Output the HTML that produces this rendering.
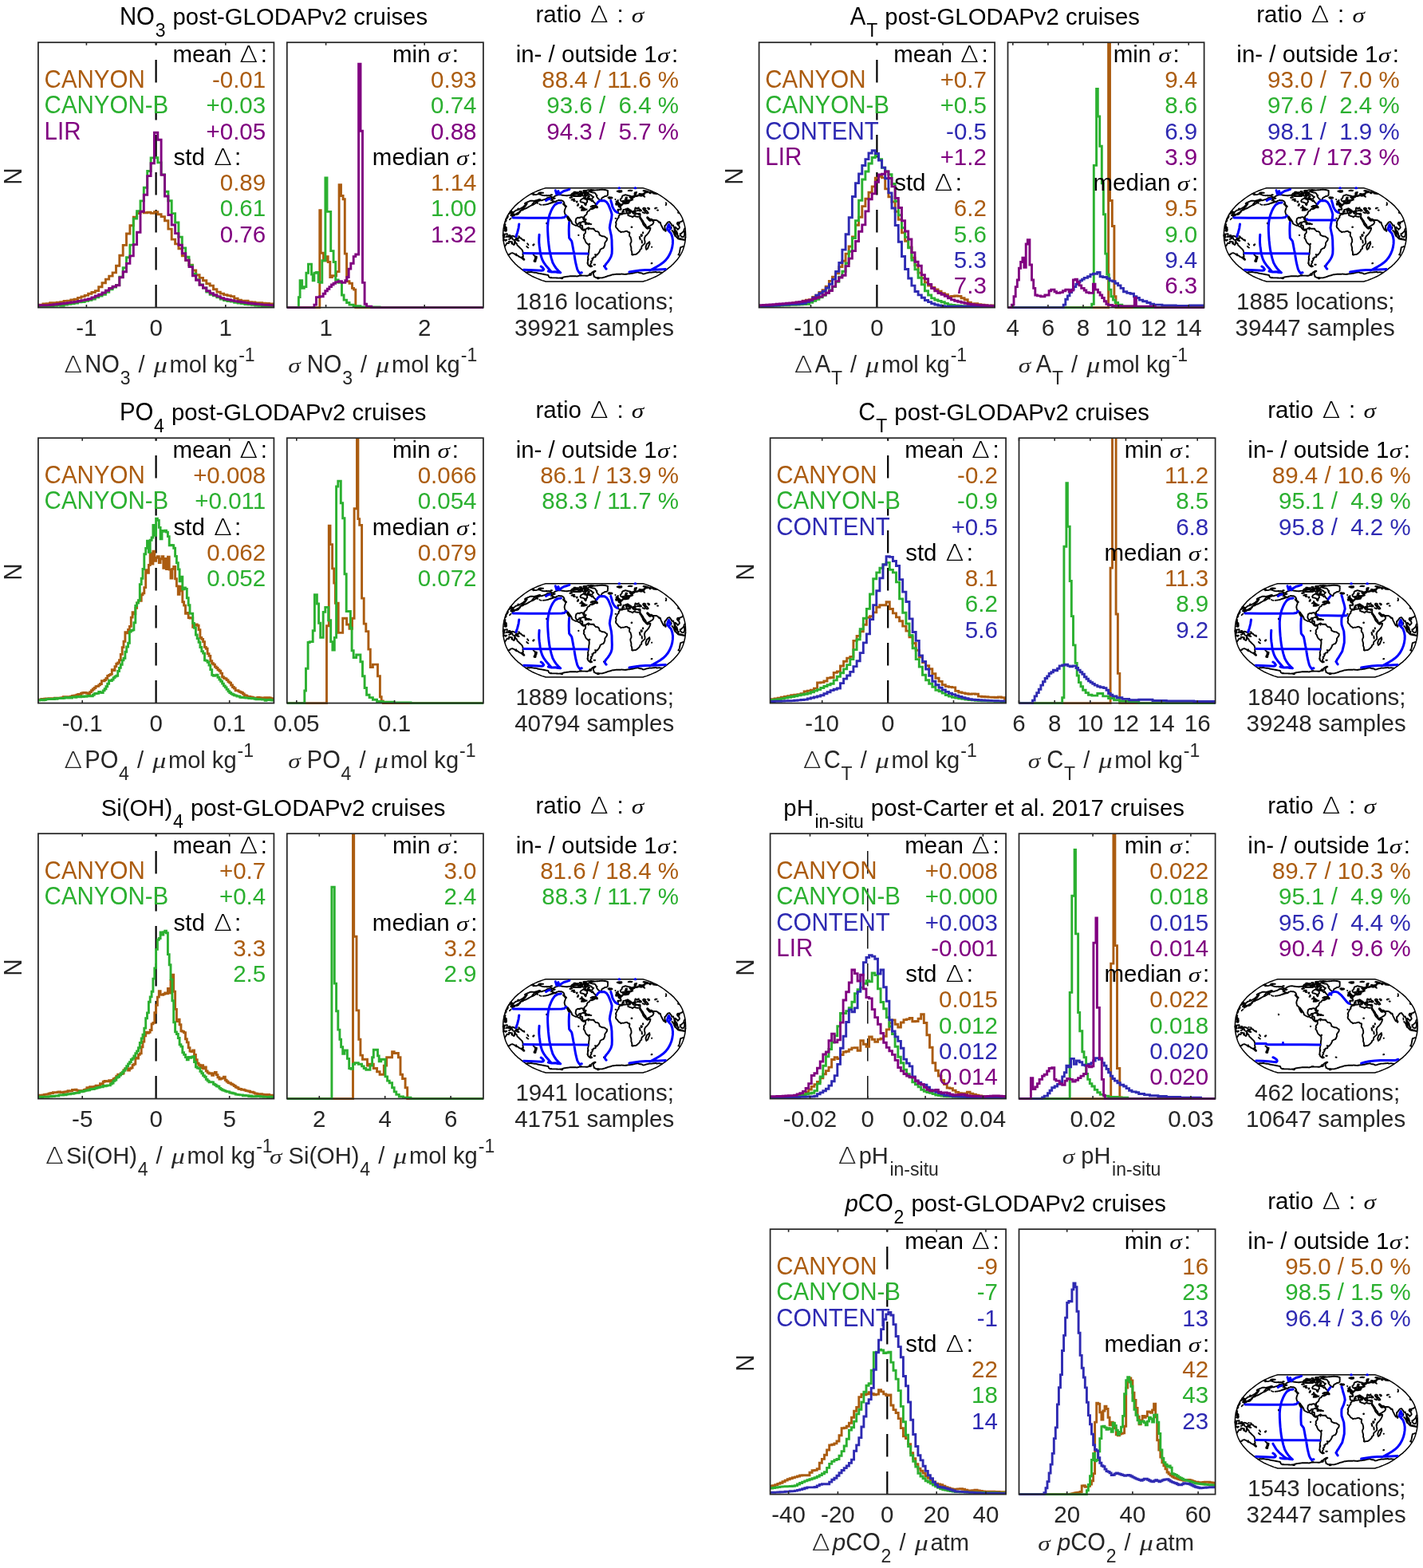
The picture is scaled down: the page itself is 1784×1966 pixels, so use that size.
<!DOCTYPE html>
<html lang="en"><head><meta charset="utf-8"><title>Histograms of estimate minus measurement and uncertainty</title>
<style>html,body{margin:0;padding:0;background:#fff}svg{display:block;font-family:"Liberation Sans",sans-serif}</style></head><body>
<svg width="1784" height="1966" viewBox="0 0 1784 1966">
<rect width="1784" height="1966" fill="#fff"/>
<defs>
<g id="wm">
<path d="M806 235.7L808.3 236.4L810.6 237.1L813.4 238.2L816.2 239.3L819.2 240.6L822.2 241.9L824.8 243.4L827.4 244.9L829.7 246.4L832.1 248L834.3 249.6L836.5 251.3L838.6 253L840.7 254.6L842.6 256.4L844.5 258.1L846.1 259.9L847.7 261.7L849.2 263.5L850.6 265.3L851.8 267.1L853 268.9L854 270.7L855 272.5L855.8 274.4L856.5 276.2L857 278L857.6 279.8L858 281.6L858.5 283.4L858.8 285.3L859.1 287.1L859.3 288.9L859.4 290.7L859.5 292.5L859.6 294.4L859.5 296.2L859.4 298L859.3 299.8L859.1 301.6L858.8 303.4L858.5 305.3L858 307.1L857.6 308.9L857 310.7L856.5 312.5L855.8 314.3L855 316.2L854 318L853 319.8L851.8 321.6L850.6 323.4L849.2 325.2L847.7 327L846.1 328.8L844.5 330.6L842.6 332.3L840.7 334.1L838.6 335.7L836.5 337.4L834.3 339.1L832.1 340.7L829.7 342.3L827.4 343.8L824.8 345.3L822.2 346.8L819.2 348.1L816.2 349.4L813.4 350.5L810.6 351.6L808.3 352.3L806 353L684.2 353L681.9 352.3L679.6 351.6L676.8 350.5L674 349.4L671 348.1L668 346.8L665.4 345.3L662.8 343.8L660.5 342.3L658.1 340.7L655.9 339.1L653.7 337.4L651.6 335.7L649.5 334.1L647.6 332.3L645.7 330.6L644.1 328.8L642.5 327L641 325.2L639.6 323.4L638.4 321.6L637.2 319.8L636.2 318L635.2 316.2L634.4 314.3L633.7 312.5L633.2 310.7L632.6 308.9L632.2 307.1L631.7 305.3L631.4 303.4L631.1 301.6L630.9 299.8L630.8 298L630.7 296.2L630.6 294.4L630.7 292.5L630.8 290.7L630.9 288.9L631.1 287.1L631.4 285.3L631.7 283.4L632.2 281.6L632.6 279.8L633.2 278L633.7 276.2L634.4 274.4L635.2 272.5L636.2 270.7L637.2 268.9L638.4 267.1L639.6 265.3L641 263.5L642.5 261.7L644.1 259.9L645.7 258.1L647.6 256.4L649.5 254.6L651.6 253L653.7 251.3L655.9 249.6L658.1 248L660.5 246.4L662.8 244.9L665.4 243.4L668 241.9L671 240.6L674 239.3L676.8 238.2L679.6 237.1L681.9 236.4L684.2 235.7Z" fill="#fff" stroke="#000" stroke-width="1.5" stroke-linejoin="round"/>
<path d="M693.2 247.7L694.5 246.8L695.8 245.8L697.3 245.2L698.8 244.6L699.8 244.4L700.9 244.3L701.9 244.1L702.7 244.3L703.5 244.4L704.2 244.6L705 244.7L705.7 244.8L706.4 244.9L707.2 245L707.9 245.1L708.8 245.1L709.7 245.2L710.5 245.3L711.4 245.2L712.3 245L713.2 244.9L714.1 244.8L714.9 244.9L715.8 245L716.7 245.1L717.5 245.2L718.1 245.5L718.8 245.8L719.4 246.1L720.2 246.1L721 246.1L721.8 246.1L722.7 246.1L723.6 246.1L724.5 246.1L725.5 246.1L726.4 246.1L727.4 246L728.4 245.8L729.1 244.9L729.9 244L730.5 244.9L731.2 245.8L732.2 245.5L733.1 245.2L734 245.5L734.9 245.8L734 246.6L733.1 247.4L732.3 248L731.4 248.7L730.5 249.1L729.6 249.5L728.7 250L728 250.9L727.4 251.9L728.1 253.3L728.9 253.4L729.7 253.5L730.4 253.6L731.3 254L732.2 254.3L733.1 254.6L733.2 256L734.2 257.3L734.8 256.4L734.9 255.5L735 254.6L735.6 253.8L736.3 253L736.1 252.1L736 251.3L736.2 250.4L736.4 249.6L737.4 249.8L738.4 250L739.2 250.3L740.1 250.6L741 251.4L742 252.3L743.1 251.1L743.7 252.2L744.3 253.3L745.2 254.1L746.2 255L746.8 255.9L747.4 256.7L746.5 257.3L745.6 257.8L744.5 257.9L743.4 258L742.3 258.1L741.5 258.7L740.6 259.2L741.6 259L742.6 258.8L742.3 259.9L743.4 260.5L744.5 261.1L743.7 261.6L742.8 262L741.7 262.2L741.1 261.7L740.2 262.2L739.4 262.8L739 264L738 264.4L736.9 264.9L736.4 265.8L735.9 266.7L735.7 267.6L735.5 268.5L734.3 269.6L733.3 270.5L732.3 271.4L732.4 272.5L732.6 273.6L732.7 274.7L732.4 276L731.5 275.1L731.3 274.2L731.1 273.3L730.4 272.5L729.2 272.2L728.2 272.4L727.1 272.5L726.7 273.3L725.7 273L724.6 272.8L723.5 273.4L722.4 274L722.1 275.1L721.9 276.2L721.7 277.2L721.6 278.1L722.1 279.3L722.6 280.5L723.5 281.1L724.6 280.9L725.7 280.8L725.9 279.9L726.1 279.1L727.2 278.9L728.3 278.7L728.1 279.8L727.9 280.9L727.5 281.8L727.2 282.7L728.1 282.8L729.1 282.8L730 282.9L730.2 284.1L730.4 285.3L730 286.7L731.2 287.8L732 287.6L732.7 287.4L734 288.2L734.6 287.4L735.3 286.6L736.1 286.3L736.9 286L737.8 285.4L738.8 286L740 286.7L741.3 286.7L742.6 286.7L743.8 286.6L744.5 287.4L745.1 288.2L746.1 289.1L747 290L748 290.1L748.9 290.1L749.7 290.6L750.5 291.1L751 292.2L751.5 293.3L751.5 294.4L752.7 295.1L753.8 295.6L755 296.2L755.9 296.3L756.9 296.4L757.8 296.5L758.8 297.3L759.7 298L761 298.7L761 299.8L760.9 300.9L760.3 301.8L759.6 302.7L759 303.6L758.3 304.5L758.3 305.8L758.3 307.1L757.8 308.3L757.3 309.6L756.3 311.1L755.3 311.4L754.4 311.7L753.5 312.3L752.5 312.9L752.3 313.8L752 314.7L751.5 315.8L750.9 316.9L749.6 318.3L748.7 319.6L747.8 319.5L746.9 319.4L746.1 319.1L746.5 320L746.9 320.9L746.5 322.2L745.6 322.4L744.8 322.5L743.9 322.7L743.6 324.1L742.9 324.1L742.2 324.1L743 325.4L742.5 326.2L742.1 327L741.5 327.4L740.9 327.7L741.7 329.2L741.1 330L740.4 330.9L740.2 332.2L740.8 332.8L741.5 333.4L742.2 333.9L741.5 334.2L740.9 334.4L740.1 334.1L739.2 333.7L738.4 333L737.5 332.3L737.1 331.1L736.6 329.9L736.8 328.4L736.9 327L737.3 325.9L737.6 324.9L737.3 323.8L737 322.7L737.2 321.8L737.4 320.9L737.6 319.8L737.9 318.7L738.1 317.6L738.1 316.2L738.2 314.7L738.3 313.5L738.5 312.3L738.7 311.1L738.7 310L738.7 308.9L738.7 307.8L737.6 306.7L736.3 305.6L735 304.5L734.5 303.6L734 302.7L733.5 301.4L733.1 300.2L731.8 298.7L731.8 297.6L732.4 296.5L731.9 295.1L732.4 293.6L733.2 292.9L734.1 291.4L734.1 290.2L734 288.9L732.7 288.2L731.8 288.9L730.5 288.3L729.7 287.7L729 287.1L728.3 286L727.7 284.9L726.6 284.5L725.6 284.2L724.6 283.4L723.7 282.7L722.9 282.8L722.1 282.9L721.1 282.5L720 282L719.1 281.5L718.2 281L717.3 280.5L717 279.6L716.8 278.7L716.2 277.3L715.5 276.4L714.9 275.4L713.9 274.2L713 272.9L712 271.4L711.7 272.5L712.2 273.6L712.8 274.7L713.4 275.8L714.1 276.9L714 277.6L712.9 276.4L712.4 275.4L711.9 274.4L711.2 272.9L710.9 271.8L710.6 270.7L709.9 269.6L708.8 269.3L708.2 267.8L707.9 266.7L707.6 265.6L707.7 264.7L707.8 263.8L708.3 262.4L708.8 261L709 260.1L709.1 259.3L710.1 258.8L709.2 258.1L708.6 257.6L708 257.1L707.7 256L707.5 255L707.2 254.1L707 253.3L706.5 252.8L706 252.3L705.2 251.8L704.4 251.4L703.4 251.3L702.4 251.3L701.5 251.1L700.6 250.9L699.5 251.3L698.4 251.6L697.3 252.3L696.3 253L695 253.3L693.7 253.6L692.3 254.1L690.9 254.6L690 254.8L689.1 255L690.5 254.5L691.9 254L693.3 253.1L694.6 252.3L693.7 252.1L692.8 251.9L692.5 251.4L692.3 250.9L692.3 250L693.6 249.3L694.7 249L695.8 248.7L694.9 248.5L694.1 248.3L693.6 248L693.2 247.7M771.9 283.7L772.1 282.8L772.4 282L772.4 280.9L772.5 279.8L771.9 279.1L772.6 277.6L773.3 276.2L773.8 275.1L774.3 274L775 273.3L775.8 272.5L775.7 271.6L775.7 270.7L776.5 270L777.2 269.3L777.6 268.2L778.7 268.5L779.8 268.8L780.6 268.3L781.4 267.8L782.6 267.7L783.8 267.6L784.7 267.5L785.7 267.3L786.6 267.2L787.2 268.1L787.7 268.9L787.3 269.8L788.6 270.5L789.7 270.8L790.9 271.1L792.1 271.7L793.3 272.3L793.7 271.4L794.5 271L795.3 270.6L796.7 271.3L798 271.6L799.3 271.8L800.1 271.7L801 271.6L801.7 271.6L802.4 271.6L802.3 272.6L802.1 273.6L803.4 275.1L804 276.2L804.5 277.3L805.1 278.2L805.7 279.1L805.9 280L806.2 280.9L806.9 282L807.7 283.1L808.8 284.2L809.8 285.3L810.4 286L811.5 286.7L812.5 286.5L813.4 286.2L814.4 286L815.4 285.8L815.3 286.8L815.1 287.8L814.4 289.3L813.7 290.7L813.1 291.6L812.5 292.5L811.6 293.6L810.6 294.7L809.3 295.8L808.8 296.7L808.3 297.6L807.8 299.1L808 300L808.1 300.9L808.4 302L808.6 303.1L808.5 304.2L808.4 305.3L807.5 306.1L806.6 306.9L805.7 307.7L804.8 308.5L804.5 309.4L804.2 310.3L804.3 311.8L803.5 312.3L802.6 312.9L802.3 313.8L802 314.7L800.7 316.2L799.6 317.1L798.6 318.1L797.6 318.6L796.7 319.1L795.5 319.1L794.4 319.2L793.1 319.7L792.2 319.1L792.4 317.6L792.2 316.3L792 315.1L791.3 313.6L791.4 312.2L791.4 310.7L791.1 309.6L790.8 308.5L790.5 307.4L790.4 306.5L790.3 305.6L790.9 304.3L791.5 303.1L791.5 301.8L791.4 300.5L791.2 299.6L790.9 298.7L790.7 297.6L790 296.9L789.3 296.2L789.1 295.3L789 294.4L789.2 293.4L789.4 292.5L789.3 291.4L788.5 291.3L787.7 291.2L786.9 290.5L786 289.8L785.1 289.9L784.1 290L783 290.4L781.9 290.7L781.1 290.6L780.4 290.6L779.4 290.9L778.5 291.2L777.2 290L775.9 289.3L774.7 287.8L773.8 286.6L772.4 285.3L772.2 284.5L771.9 283.7M777.6 268.2L776.5 267.8L775.4 267.4L774.9 266.2L774.9 265.2L774.9 264.2L774.4 263L775 262.6L776.1 262.7L777.3 262.8L777.9 262.8L778.6 262.8L778.5 261.9L778.4 261L777.4 260L776.7 259.7L776 259.3L776.8 259.2L777.7 259.1L777.3 258.3L778.4 258.5L778.9 257.5L779.8 257.2L780 256L780.6 255.9L781.1 255.7L781.9 255.3L781.2 254.3L780.7 253.3L781.2 253.1L781.7 252.8L782.1 254L783 255.3L783.8 255.1L784.9 255.4L785.5 255.2L786.2 255L786.9 254.9L787.5 254.8L788.1 254.6L787.4 253.3L787.7 252.9L788.9 253.2L787.9 251.9L788.6 251.8L789.3 251.7L790 251.6L790.8 251.3L789.7 251.1L788.6 250.9L787.8 251.1L787 251.3L786 250.6L785.3 249.3L785.7 248.7L786.2 248L785.3 247.5L784.5 247.7L784.6 248.7L784.2 249.3L783.7 250L784 250.9L785.2 251.6L784.8 253L785 253.8L784.4 254.3L783.7 254.4L783.3 253.8L782.5 253L781.8 252.3L781.1 251.7L780.7 252.1L780.2 252.5L779.5 252.3L778.7 252.1L778.3 251.3L777.8 250.6L777.8 249.6L778.4 249.2L778.9 248.8L779.5 248.2L779.8 247.1L780.1 246L780.5 245.6L781 245.2L781.7 245L782.4 244.9L782.8 244.7L783.3 244.5L783.8 244.3L784.3 244.3L784.9 244.4L785.7 244.6L786.5 244.7L786.4 245.1L787.2 245.2L788 245.3L788.7 245.4L789.5 245.5L790.8 246L792.1 246.4L793.1 247.1L792.7 247.2L792.2 247.4L791.4 247.2L790.5 247.1L789.7 246.9L789.6 247.4L791.3 248.5L792.1 248.6L792.8 248.8L791.7 248L792.7 248.1L793.6 248.2L793.1 247.4L793.9 247.3L794.6 247.3L794.1 246.6L793.6 245.9L794.7 246.1L795.6 246.9L795.8 246.3L796.4 246.1L797 246L797.6 245.8L798.3 246L798.9 245.9L799.4 245.8L799.9 245.4L800.4 245.1L801.3 245.2L802.2 245.3L803.1 245.5L804 245.7L804.5 245.5L802.4 244.3L801.2 243.1L801.9 243.1L802.7 243.1L804.5 244L805.6 244.9L806.5 245.8L808.2 246.8L807.1 245.5L805.9 244.7L804.7 244L804.6 243.2L805.6 243.5L806.6 243.7L807.1 243.7L807.7 243.7L806.5 242.8L807.2 242.8L807.9 242.7L808.6 242.6L808 241.9L808.4 241.8L808.8 241.6L809.2 241.4L810 241.4L810.7 241.3L811.5 241.3L811.8 241L812.1 240.8L812.4 240.5L813.8 240.8L815.2 241L816.1 241.2L817.1 241.3L818 241.4L820.2 242.5L819.5 242.5L818.9 242.5L819.7 242.6L820.5 242.7L821.6 242.8L822.7 243L823.8 243.1M666.4 243L667.3 242.9L668.2 242.8L668.8 243L669.5 243.1L668.4 244.3L669.3 244.1L670.2 244L671 244.1L671.8 244.1L673 243.8L674.3 243.4L675.1 243.4L675.9 243.5L676.8 243.5L677.3 243.8L677.8 244L678.2 244.2L678.6 244.4L679.1 244.6L679.7 244.7L680.3 244.9L680.9 245.1L681.6 245.1L682.3 245.1L683 245.2L683.9 245.1L684.8 245L685.7 244.9L685.5 245.5L686.4 245.3L687.3 245.2L688.3 245L688.9 245.3L689.5 245.6L690 245.9L690.5 246.2L691 246.4L691.7 246.8L692.3 247.1L692.5 247.4L691.3 247.9L690.1 248.5L689.5 248.2L688.9 247.9L688.4 247.7L687.1 248L685.7 248.5L684.1 249.6L683 250L681.9 250.3L680.7 250.6L679.1 251.3L678 251.3L676.9 251.4L675.6 252L674.2 252.6L672.4 254L671.7 254.8L669.6 256L667.6 257.1L666.6 257.4L667.4 256L668.2 255L669 254L671 252.8L672.7 251.8L674.3 250.9L675.7 250.4L677.1 250L676.1 250.1L675 250.3L673.6 250.8L672.2 251.3L670.8 251.6L670 251.8L669.2 251.9L668.4 251.9L667.7 251.8L666.9 251.7L665.8 251.8L664.8 251.8L663.6 252.3L662.4 252.8L660.6 253.7L658.8 254.6L658 255.3L658.6 255.5L659.1 255.7L658.3 257.1L657.2 258.1L656.2 259.2L654.8 260.1L653.3 261L652 261.7L650.8 262.4L649.8 262.8L648.7 263.3L647.9 263.4L647.2 263.6L646.1 264.2L644.9 265.4L643.6 265.8L643.6 266.7L643.3 268.2L642.3 268.9L640.8 269.4L641.2 268.6L641.6 267.8L641.6 266.7L642.4 265.6L641.8 265.6L641.2 265.5L639.8 266L641 264.7L639.6 265.3M850.2 266L850.1 266.6L851.3 267.2M639 266.9L639.6 267.4L637.9 268.2M636.7 270.4L636.9 271.4L636.4 272.5L635.6 273.8L634.1 275.1M855.7 276.5L854.8 277.6L854.1 277.9L853.3 278.1L852.6 278.4L852 278.7L851.3 279.6L850.4 278.7L849.3 279.2L848.8 280.5L849.9 282L851.3 283.1L851.7 284.2L852 285.3L851.4 286.4L850.5 286.9L849.7 288L849.4 286.9L848.2 286.4L847.4 285.3L846.6 284.7L846.2 285.6L846 287.1L846.6 288.3L847.3 289.4L848.6 290.7L848.8 291.6L849 292.5L849.4 293.3L848.4 292.9L847.3 291.6L847.1 290.8L846.9 290L845.5 288.5L845.5 287.1L845.2 285.6L844.9 284.7L844.5 283.8L844.1 282.4L842.9 282.9L842.1 282.5L841.9 281.7L841.7 280.9L840.7 279.8L839.8 278.7L839.3 278L838.5 278.4L837.6 278.5L836.8 279.1L836.6 279.8L835.8 280.3L835.2 281.3L834.5 282.4L833.4 283.1L833.4 284.5L833.5 285.4L833.5 286.4L833.3 287.4L832.6 288.3L832.1 288.4L831.7 287.6L831.2 286.7L830.7 285.8L830.2 284.9L829.6 283.4L829 282.4L828.5 281.3L828.2 280.4L828 279.4L827.7 278.7L826.5 279.2L825.4 278.1L825.9 277.6L824.5 277.1L823.7 276.3L822.8 276.1L821.8 276L821 276L820.3 276L819.1 275.9L818 275.7L817.2 274.9L816.5 274.7L815.7 275L814.3 274.4L813.1 273.3L812.3 272.5L811.4 272.3L811.1 272.9L811.9 274.1L812.9 275.1L813.6 276.2L814 275.6L814.2 276.7L815.5 276.8L816.5 276L816.9 275.3L817.3 276.5L818.6 277.2L819.6 278.1L819.1 279.5L818.8 280.6L818.2 281.1L817.5 281.6L816.6 282.2L815.6 282.7L814.7 283.3L813.8 284L812.6 284.5L811.4 285L810.4 285.1L810.1 284.4L809.9 283.6L809.5 282.4L808.9 281.5L808.3 280.7L807.6 279.8L806.8 278.9L806.5 278.1L806.2 277.3L805.1 275.8L804.4 275L803.8 274.1L803.1 273L802.4 271.6L802.5 270.4L802.7 268.9L802.3 267.7L801.1 268L799.9 267.8L799.1 268L798.1 267.7L797 267.4L796.2 266.4L795.7 265.3L796.3 264.9L797 264.6L798.1 264.4L799.1 264.1L800.2 263.8L801.2 264.2L802.2 264.6L803.2 264.4L804.1 264.2L803.3 263.1L801.8 262.2L800.7 261.7L800.8 260.3L799.9 260.6L799.1 261.3L798.6 262L797.8 261L796.5 260.5L796.2 261.5L796.1 262.8L796.1 263.8L796.8 264.4L796.1 264.5L795.4 264.6L794.8 264.7L794.1 264.7L794.1 265.3L793.5 265L794.3 266.4L794.8 266.7L794.5 267.8L793.7 267.6L793.1 266.5L792.3 265.7L791.6 264.9L791.1 263.8L790.1 263.3L789.1 262.8L787.7 261.7L787 261.3L786.2 261.5L786.7 262.4L787.5 262.8L788.6 263.8L789.3 264L790.2 264.6L791.1 265.1L790.1 264.9L790.1 265.6L790.6 266L790.1 266.7L789.9 266.7L789.8 265.6L789 265.1L787.6 264.4L786.2 263.5L785.5 262.8L784.5 262.1L783.8 262.5L783.2 262.7L782.5 262.9L781.5 263L781.8 263.9L781.2 264.2L780.7 264.6L780.2 265.6L780.6 266.1L780.2 267L779.6 267.6L778.9 267.6L778.2 267.7L777.6 268.2M806.1 261.7L806.5 261.1L806.9 260.6L807.6 260.6L808.3 260.6L809.5 261.7L808.6 262L809 263.5L810.5 264.2L811.8 265.6L812.7 267.1L812.1 267.3L811.4 267.6L810 267.1L809.1 265.6L808.2 264.6L807.3 263.5L806.7 262.6L806.1 261.7M739.8 240.2L740.5 239.9L741.2 239.6L741.9 239.3L742.7 239L743.5 238.8L744.3 238.6L745.1 238.6L745.9 238.5L746.6 238.4L747.4 238.4L748.2 238.3L748.9 238.3L749.6 238.2L750.3 238.1L751 238.1L751.7 238L752.4 237.9L753.1 237.9L753.8 237.8L754.4 237.7L755.2 237.8L756 237.9L756.8 237.9L757.5 238L758.3 238L759.1 238.2L759.8 238.3L760.5 238.5L761.3 238.6L762.1 239.3L761.8 240.3L762 241L762.1 241.7L762 242.4L761.8 243.1L761.9 243.9L761.9 244.6L761.2 245.2L760.4 245.8L759.7 245.9L758.9 246L758.2 246.1L757.5 246.6L756.8 247L756.1 247.5L755.4 247.7L754.8 248L754.4 248.8L754 249.6L753.8 250.4L753.5 251.3L752.8 251L752.2 250.7L751.1 250L750 249.3L749.5 248.5L748.9 247.7L747.9 246.4L748.3 245.2L747.4 244.3L746.9 243.1L746.2 242.4L745.5 241.7L744.8 241.6L744 241.5L743.3 241.5L742.6 241.4L741.9 241.2L741.2 241L740.5 240.9L739.8 240.2M736.4 242.8L737.2 243L738 243.2L738.9 243.6L739.7 244L740.6 244.4L741.4 244.9L742.3 246.1L743.2 246.5L744.2 246.9L743.2 248L742.1 249.3L741.1 249.6L740.4 249.3L739.7 249L739 248.7L738.3 248.3L737.3 248.3L736.4 248.2L737 247.1L738 246.6L739 246.1L738.3 245.7L737.6 245.3L736.9 244.9L736 244.9L735 244.9L734.4 244.6L733.8 244.3L733.2 244L732.6 243.7L733.7 242.8L734.6 242.8L735.5 242.8L736.4 242.8M720 243.1L720.7 243.2L721.4 243.3L722.1 243.4L723 243.3L723.9 243.2L724.9 243.1L725.6 243.6L726.3 244L725.5 244.7L724.8 245.5L723.8 245.6L722.9 245.6L721.9 245.7L721 245.5L720.2 245.4L719.4 245.2L719.1 244L720 243.1M732.6 241.1L733.3 240.9L734.1 240.6L734.9 240.3L734.5 239.8L734 239.3L734.9 239L735.8 238.7L736.7 238.4L737.5 238.3L738.2 238.2L739 238.2L739.8 238.1L740.6 238L741.3 238L742.1 238L742.8 238.1L743.6 238.1L744.3 238.2L743.6 238.5L742.8 238.8L742 239L741.1 239.3L740.3 239.5L739.5 239.9L738.6 240.3L737.6 240.8L736.7 241.2L735.9 241.2L735 241.2L734.2 241.2L733.4 241.2L732.6 241.1M814.2 303.1L814.4 304.3L814.6 305.6L814.2 306.5L813.7 307.4L813.1 308.9L812.5 310.3L811.9 311.8L811.1 312.3L810.3 312.9L810 312L809.7 311.1L809.6 309.6L810 308.4L810.4 307.2L810.8 306L811.7 305.4L812.5 304.9L813.3 304L814.2 303.1M852.6 293.3L853.5 293.3L854.3 292.5L855 291.8L855.8 291.1L856.5 290.4L857.4 289.3L858.8 290.6L858.1 291.8L858.2 292.7L858.3 293.6L858 295.1L857.6 296L857.1 296.9L856 297.3L855.2 297L854.4 296.7L853.2 295.4L852.9 294.4L852.6 293.3M843.7 290.3L844.4 290.4L845.1 290.6L846.1 291.6L847.1 292.5L848.1 293.4L849.1 294.4L849.7 295.8L850.6 296.5L850.5 297.5L850.4 298.6L849.2 298.3L848 297.3L847.1 295.8L846.6 294.7L846.1 293.6L844.9 292.2L844.3 291.2L843.7 290.3M856.3 300.4L857.3 300.4L858.5 300.5M631.7 300.5L632.9 300.4L632.6 300.9L631.9 301.1L631.1 301.3M858.2 301.1L857.2 300.9L856.3 300.4M859.1 298.3L859.4 297.4M630.9 296.4L630.7 295.2M631.3 293.5L632.2 293.6L633.2 293.6L633.8 293.3L632.5 294.1L631.7 294.2L630.9 294.4L631.6 295.1L632.7 294.9L631.9 295.8L632.3 296.7L632.7 297.6L631.7 297.8L631.3 296.5L631.2 297.4L631.1 298.3M637.6 295.1L638.6 295L639.5 294.9L640 295.8L640.6 296.7L641.3 296.2L642.1 295.7L643.1 295.9L644 296.2L645.2 296.7L646.3 297.3L647.3 298.3L648.3 298.7L648.7 300.2L649.6 301.1L650.5 302L649.7 301.9L648.9 301.8L647.5 300.7L646.2 299.9L645.6 300.9L644.4 301L643 300.2L642.3 299.4L642.5 298.3L641.7 298L640.9 297.6L639.6 297.1L638.7 297.3L637.8 295.8L637.6 295.1M853.1 310.3L852.8 311.8L852.5 313.3L852.2 314.7L852 316.2L851.6 317.3L851.2 318.3L850.4 319.3L851.1 319.5L851.8 319.8M636.8 319.1L637.8 319.1L638.9 319.1L639.3 318.5L639.7 317.8L640.5 317.6L641.3 317.4L642 317.3L642.8 317.3L643.7 317.7L644.7 318.1L645.6 318.9L646.4 319.7L646.7 319L647.1 318.3L647.7 319.8L649.3 320.5L651 322L651.9 322.3L652.8 322.6L653.6 322.6L654.4 322.7L655.1 321.8L656 321.3L655.7 320.2L655.4 319.1L655.5 318L655.7 316.9L655.4 315.8L655.2 314.7L654.7 313.8L654.2 312.9L652.6 311.4L651.4 310.3L650.6 309.4L649.7 308.5L648.7 307.8L648.2 306.5L647.8 305.3L646.7 304.7L646.2 303.5L645.8 302.3L645.2 302.3L645.1 303.8L645.1 304.9L645.1 306L644.4 307.1L643.5 306.5L642.6 305.8L641.5 305.3L641.8 304.3L642 303.3L640.9 303.2L640 303L639.2 302.7L638.4 303.3L638.2 304.1L638 304.9L637.1 305.1L636 304.5L635 305.6L634.4 306.9L633.7 307.4L633.2 308.5M857.3 308.8L856.2 309.1L855.4 309.4L854.5 309.6L853.1 310.3M685.6 256.2L687 255.8L688 255.5M657.1 262L658.6 261.5L660.1 261L661.6 260.1L663.2 259.2L664.4 258.5L665.6 257.8M696.1 348.4L697 348.4L697.9 348.5L698.8 348.5L699.7 348.6L700.5 348.6L701.3 348.6L702 348.5L702.8 348.5L703.5 348.4L704.3 348.4L704.7 348.2L705.2 348L705.7 347.8L706.2 347.7L706.7 347.5L707.2 347.3L707.9 347.2L708.6 347.1L709.4 347L710.1 346.9L710.8 346.8L711.6 346.7L712.4 346.6L713.2 346.5L714 346.4L714.8 346.3L715.7 346.3L716.5 346.3L717.4 346.2L718.2 346.2L719.1 346.2L720 346.2L720.9 346.3L721.8 346.3L722.7 346.4L723.5 346.5L724.3 346.2L725.1 346L725.8 345.8L726.6 345.6L727.4 345.6L728.2 345.6L728.9 345.6L729.7 345.6L730.5 345.6L731.2 345.6L732 345.6L732.8 345.6L733.7 345.6L734.6 345.7L735.5 345.7L736.3 345.8L737 345.5L737.7 345.3L738.4 345L739.1 344.8L739.9 344.6L740.6 344.4L741 343.5L741.4 342.6L742 341.9L742.7 341.3L743.4 340.9L744.1 340.4L745.1 340L746.1 339.6L746.6 340L745.8 340.5L745.1 341L744.2 341.9L743.9 342.9L743.7 343.8L744.2 344.7L744.7 345.6L744.7 346.8L745.5 347.2L746.4 347.7L747.2 348.1L748 348.2L748.8 348.2L749.6 348.3L750.4 348.3L751.2 348.4L752 348.4L752.7 348.4L753.4 348.4L754.2 348.4L754.9 348.4L755.8 348.1L756.7 347.8L757.6 347.6L758.5 347.3L759.3 347L760.1 346.8L760.9 346.5L761.7 346.2L762.6 345.9L763.4 345.7L764.2 345.5L765 345.3L765.9 345L766.8 344.7L767.7 344.4L768.5 344.3L769.3 344.2L770.1 344.1L770.9 344L771.7 343.9L772.5 343.8L773.3 343.8L774.1 343.8L774.8 343.8L775.6 343.8L776.3 343.8L777.1 343.8L777.9 343.7L778.7 343.6L779.6 343.5L780.3 343.6L781 343.7L781.7 343.8L782.4 343.9L783.1 343.9L783.8 344L784.7 343.8L785.6 343.7L786.5 343.5L787.3 343.4L788.2 343.3L789 343.2L789.9 343.1L790.7 343L791.6 342.9L792.5 342.7L793.5 342.5L794.5 342.3L795.4 342.1L796.4 341.8L797.4 341.6L798.3 341.5L799.2 341.4L800.1 341.3L800.6 341.6L801.1 341.9L801.6 342.1L802.4 342.2L803.1 342.2L803.9 342.3L804.4 342.5L805 342.7L805.5 342.9L805.9 343.2L806.2 343.5L807.3 343.4L808.4 343.2L809.7 342.7L810.9 342.3L812 342.1L813 341.8L814 341.6L814.8 341.6L815.6 341.6L816.4 341.6L817.3 341.5L818.3 341.4L819.2 341.3L820.1 341.2L821.1 341.1L822 341L822.6 341.2L823.1 341.3L823.7 341.5L824.6 341.4L825.5 341.4L826.4 341.3L827 341.4L827.7 341.5L828.3 341.6L829.1 341.6L829.9 341.6M659.5 341.6L660.2 341.5L660.8 341.4L661.4 341.3L662.2 341.3L663 341.3L663.8 341.3L664.5 341.2L665.1 341.1L665.8 341L666.9 341.2L668 341.4L669 341.6L670 341.7L670.9 341.8L671.8 341.9L673 342.2L674.1 342.5L675.2 342.8L676.2 342.9L677.1 343.1L678.1 343.2L679.1 343.4L680.1 343.6L681.1 343.8L682.1 344L683.2 344.2L684.2 344.4L685.2 344.6L686.2 344.8L687.2 345L687.8 346.2L687.9 346.8L688.2 347.3L689.8 348.3L690.5 348.3L691.3 348.3L692 348.4L692.8 348.4L693.6 348.4L694.5 348.4L695.3 348.4L696.1 348.4" fill="none" stroke="#000" stroke-width="1.9" stroke-linejoin="round" stroke-linecap="round"/>
<path d="M716.1 243.7L716.8 243.8L717.5 243.9L718.2 244L719.3 243.6L720.5 243.1L720.3 241.9L719.3 242.1L718.4 242.2L717.4 242.4L716.8 243L716.1 243.7M730.2 241.7L730.9 241.8L731.6 241.9L732.3 242.1L733 242.2L733.9 242.2L734.8 242.1L735.7 242L736.5 241.9L735.8 241.4L735 241.3L734.2 241.2L733.4 241.1L732.6 241.1L731.8 241L731 241.3L730.2 241.7M721.2 241.8L722 241.9L722.8 242L723.6 242.1L724.6 241.9L725.6 241.7L725 241.1L724.2 241.1L723.3 241.1L722.5 241.1L721.2 241.8M726.8 242.8L727.4 243L728.1 243.2L728.7 243.4L729.7 243.3L730.6 243.1L730 242.4L729.2 242.4L728.5 242.5L727.7 242.5L726.8 242.8M732.1 247.7L732.8 247.7L733.6 247.7L734.2 248.2L734.8 248.7L733.8 249.3L733.1 249.1L732.4 248.9L732.1 247.7M745.5 259.8L746.4 258.4L747.3 257.1L747.6 258.5L748.3 258.8L749 259.2L749 260.5L748.2 260.4L747.4 260.3L746.4 260.1L745.5 259.8M762.4 247.7L763.2 247.1L764.2 247.2L765.1 247.3L766 247.3L766.9 247.4L767.6 248L767 248.5L766.3 248.8L765.5 249L764.5 248.9L763.4 248.8L763.6 248.3L762.4 247.7M775.2 258.1L775.8 257.9L776.4 257.7L777.2 257.6L777.9 257.4L778.6 257.3L778.4 256.2L777.3 255.7L776.2 254.6L775.6 254L774.6 252.6L773.4 252.2L773.2 253.1L773.8 254L774.5 254.8L775.6 255.3L775.7 255.8L775 256L775.1 256.9L776.2 257.2L775.7 257.6L775.2 258.1M772.3 256.9L773.3 256.7L774.3 256.6L774 255.3L772.9 254.5L772.4 254.9L771.9 255.3L772.1 256.1L772.3 256.9M833.8 287.2L834.4 288.1L835 288.9L834.6 290L834 289.8L833.7 288.5L833.8 287.2M642 271.7L643.5 270.4L644.6 269.6L646 269.1L647.2 269.2L648.6 268.9L650.1 268.2L650.6 267.3L651.2 266.5L652.3 265.5L652.8 264.3L651.7 264.8L651 265.6L650.5 266.4L649.4 266.9L648.2 267.4L647.2 268.2L646.2 268.4L645.2 268.5L643.5 269.4L642.5 270.1L642.3 270.9L642 271.7M652.1 264.2L653.5 263.5L654.2 263.8L655.2 263.4L656.2 262.9L656.3 262.3L655.8 261.8L655.3 261.3L654.5 262.1L653.8 262.9L652.1 264.2M655.6 261L657 260.3L657.6 259.4L658.1 258.5L658.7 258.8L659.5 257.4L660.4 256L661 255.1L660.1 255.9L659.2 256.7L657.9 258.1L656.7 259.5L655.6 261M633.4 277.6L634.3 276.2L634.9 276.2L634.3 277.3L633.7 278.4L633.4 277.6M632.7 280.9L633.7 281L633.4 281.9L633.2 282.7L633.6 283.8L634 284.9L632.9 284.3L632 283.8L631.9 282.7L632.3 281.8L632.7 280.9M632.2 289.3L633.6 288.2L634.4 287.8L635.2 287.4L635 288.5L634.9 289.6L634.3 290L633.4 289.6L632.2 289.3M632.6 285.8L633.8 286L634.7 286.4L634 287.1L633 287.4L632.5 286.7L632.6 285.8M857.4 288.2L858.1 287.4L858.7 286.5L858.5 286.1L857.5 287.6L857.4 288.2M849.9 299.3L851 299.2L852 299.1L852.8 299.1L853.6 299.2L854.7 299.6L855.8 299.9L855.6 300.6L854.7 300.5L853.8 300.3L852.9 300.2L851.8 299.9L850.7 299.7L849.9 299.3M633.4 301.8L634.2 300.9L635.4 300.5L635.2 301.1L634 301.8L633.4 301.8M635.4 292.9L636 293.6L635.7 294.9L635.4 294L635.4 292.9M635.8 296.5L636.6 296.5L637.4 296.5L637.6 297.1L636.9 297L636.1 297L635.8 296.5M648.9 298.3L650.2 298.3L651.2 297.4L651.1 298.3L650.2 298.9L648.9 298.3M653.7 299.4L655.1 300.2L655.9 300.7L656.7 301.3L657.5 302L656.1 301.3L655.3 300.7L654.4 300.2L653.7 299.4M660.2 309L661.6 310L662.4 310.6L661.3 310.2L660.2 309M668.1 307.1L668.9 307.1L669 307.6L668.2 307.6L668.1 307.1M661 305.3L661.8 306L662.5 307.2L661.7 306.1L661 305.3M685.1 279.7L685.7 280L685.3 280.5L685.1 280.2L685.1 279.7M654.5 324L655.5 324L656.5 324L657 324.8L657.5 325.6L656.9 326L655.7 325.2L654.5 324M668.6 319.4L670.3 320.7L671.6 321.7L672.3 321.7L673 321.8L672.8 323.1L672.6 324.5L671.6 323.3L670.9 322.9L670.8 321.6L669.7 320.5L668.6 319.4M670.7 323.9L672.1 324.7L672 325.9L671.4 326.7L671.7 327.7L670.9 328.2L669.4 327.6L669.7 326.3L670.1 325.8L670.5 325.2L670.7 323.9M729.5 278.4L730.5 277.9L731.4 277.5L732.4 277.7L733.3 278L734.5 278.7L735.7 279.4L736.2 279.7L735.2 279.8L734.2 279.9L733.3 278.7L732.3 278.4L731.4 278.1L730.5 278.2L729.5 278.4M736 280.9L737.3 279.9L738.1 279.9L738.9 280L739.8 280.8L739.2 281L738.5 281.1L737.6 281.1L736.8 281L736 280.9M733.6 281L734.9 281.1L734.4 281.4L733.6 281M740.6 280.9L741.5 281L741 281.3L740.6 280.9M773.6 239.8L774.1 239.6L774.6 239.4L775.1 239.3L775.9 239.2L776.6 239.2L777.4 239.1L778.1 239.2L778.8 239.2L779.5 239.3L779.1 239.6L778.8 239.9L778.4 240.2L778 240.6L777.6 241L776.6 240.8L775.6 240.6L774.6 240.2L773.6 239.8M795.6 244.3L795.5 243.6L795.3 242.8L795.5 242.3L795.6 241.9L795.7 241.4L796.3 241.3L797 241.1L797.6 241L798.2 240.9L798.1 241.3L797.9 241.8L797.7 242.2L797.6 242.7L797.4 243.2L797.2 243.7L797.2 244.5L796.4 244.4L795.6 244.3M807.8 239.8L807.5 239.3L807.3 238.8L808.7 239.1L810 239.4L811.4 239.8L811.1 240L810.8 240.1L810.4 240.3L809.1 240.1L807.8 239.8M675.3 241.9L676.4 241.8L677.4 241.6L678.5 241.4L679.1 241.5L679.7 241.7L680.3 241.8L679 242L677.8 242.3L676.5 242.5L676.1 242.3L675.7 242.1L675.3 241.9M690.3 244.3L691.1 244.1L692 244L692.1 244.3L691.4 244.3L690.8 244.4L690.3 244.3M787.6 239.2L788.1 239L788.6 238.9L789 238.7L789.5 238.6L790.2 238.7L791 238.7L791.8 238.8L792.6 238.8L792.2 239L791.7 239.3L790.9 239.2L790.1 239.2L789.3 239.2L788.5 239.2L787.6 239.2M744.6 331.6L745.4 331.5L746.2 331.5L745.9 332.2L744.8 332.1L744.6 331.6M756.9 333.4L757.9 333.6L757.9 333.9L756.8 333.6L756.9 333.4M816.6 329.9L817.6 329.9L817.2 330.4L816.5 330.4L816.6 329.9M850.6 280.4L851.6 279.8L852 280.2L851.3 281.1L850.6 280.4M642.3 270.4L643.6 269.8L643.3 270.6L642.9 271.4L641.9 271.7L642.3 270.4M788 266.7L788.9 266.6L789.7 266.6L789.7 267.7L788.9 267.3L788.1 267L788 266.7M784.9 264.6L785.7 264.6L786 265.9L785.4 266L784.9 264.6M795.1 268.5L795.9 268.6L796.7 268.8L795.8 268.9L795.1 268.5M800.4 268.9L801 268.7L801.6 268.5L801.2 269.1L800.4 268.9M727.1 260.5L728.3 259.8L729.5 259.2L730.3 259.5L731.1 259.9L731.3 260.6L730.6 260.6L729.9 260.6L729 260.5L728.2 260.5L727.1 260.5M728.9 263.8L729.3 262.6L729.8 261.3L730.9 261.3L730.4 262.6L729.9 263.8L728.9 263.8M731.5 261L732.3 261.1L733.2 261.3L733.7 262L732.9 262.6L732.1 263.1L731.7 262L731.5 261M731.5 264L732.3 263.8L733.2 263.5L734.1 263.3L732.9 263.6L732.2 263.8L731.5 264M733.7 262.9L734.7 262.6L735.8 262.4L735.3 262.9L734.5 262.9L733.7 262.9M723.7 257.8L724.3 256.6L725 255.5L725.3 256.7L724.7 257.9L723.7 257.8M721 251.8L720.9 251.6L720.4 251.5L719.8 251.5L719.3 251.6L719 251.8L719.1 252L719.6 252.1L720.2 252.1L720.8 252L721 251.8M716.4 250.6L717.4 250.1L718.3 249.6L719.3 249.6L720.3 249.6L718.9 250.6L718.2 250.7L717.4 250.7L716.4 250.6M714.3 247.7L715.3 247.2L716.3 246.8L716.9 247L717.5 247.2L716.1 248L715.3 248.1L714.6 248.1L714.3 247.7M723.8 253.1L723.8 252.7L723.6 252.4L723.3 252.4L722.9 252.7L722.7 253.1L722.7 253.5L722.9 253.7L723.2 253.7L723.5 253.5L723.8 253.1M729.7 258.3L729.7 258L729.5 257.9L729.3 257.9L729.1 258L729 258.3L729 258.5L729.2 258.7L729.4 258.7L729.6 258.5L729.7 258.3M803.6 294.1L804.9 294.4L804.9 295.8L803.9 296.3L803.4 295.1L803.6 294.1M801.8 296.9L802.2 297.8L802.6 298.7L802.7 299.6L802.8 300.5L802.2 299.4L801.8 298L801.8 296.9M804.6 301.4L804.8 302.2L805 303.1L805 303.9L805 304.7L804.6 303.4L804.6 302.4L804.6 301.4M792.4 284.8L792.3 284.5L792 284.3L791.7 284.3L791.5 284.5L791.4 284.8L791.5 285L791.8 285.2L792.1 285.2L792.3 285L792.4 284.8M812 260.6L812.8 260.7L813.5 260.8L814.3 262L813.4 262.6L812.5 261.7L812 260.6M821 261.3L821.4 260.9L821.8 260.5L822.7 260.6L823.6 260.6L822.9 260.8L822.1 261L821.5 261.7L821 261.3M834.6 257.1L834.9 256.7L835.3 256.4L835.3 255.7L835.2 255L834.8 254.2L835.4 255.5L835.3 256.2L835.2 256.9L834.6 257.1M791.8 250.6L791.4 250.3L791 250.1L790.6 250.1L790.4 250.3L790.5 250.6L790.8 250.9L791.3 251.1L791.7 251.1L791.9 250.9L791.8 250.6M793.1 250.2L792.8 249.8L792.5 249.7L792.2 249.7L792.2 249.8L792.3 250.2L792.6 250.5L792.9 250.7L793.2 250.7L793.3 250.5L793.1 250.2M783 251.9L782.9 251.7L782.6 251.6L782.4 251.6L782.3 251.7L782.3 251.9L782.5 252.1L782.7 252.3L782.9 252.3L783.1 252.1L783 251.9M739.5 305.8L739.4 305.6L739.2 305.5L739 305.5L738.8 305.6L738.7 305.8L738.8 306.1L739 306.2L739.2 306.2L739.4 306.1L739.5 305.8M729.5 286L729.5 285.8L729.2 285.7L729 285.7L728.8 285.8L728.7 286L728.7 286.2L729 286.3L729.2 286.3L729.5 286.2L729.5 286M737.6 286.5L738.1 286.9L738 287.7L737.5 287.4L737.6 286.5M806.4 291.8L806.3 291.4L806.2 291.1L806 291.1L805.9 291.4L805.9 291.8L805.9 292.2L806 292.5L806.2 292.5L806.3 292.2L806.4 291.8M825.1 263.5L824.9 263.4L824.6 263.3L824.2 263.3L824 263.4L823.9 263.5L824.1 263.7L824.5 263.8L824.8 263.8L825.1 263.7L825.1 263.5M807.9 267L807.8 266.8L807.6 266.6L807.4 266.6L807.3 266.8L807.3 267L807.5 267.3L807.7 267.4L807.9 267.4L808 267.3L807.9 267M806.2 266.3L806.1 266.2L805.9 266.1L805.7 266.1L805.5 266.2L805.5 266.3L805.6 266.4L805.8 266.5L806.1 266.5L806.2 266.4L806.2 266.3M815.6 242.2L815.2 242.1L814.8 242L814.4 242L814.2 242.1L814.3 242.2L814.6 242.4L815.1 242.5L815.5 242.5L815.7 242.4L815.6 242.2M649.8 261.7L649.9 261.5L649.9 261.4L649.7 261.4L649.5 261.5L649.3 261.7L649.2 261.8L649.3 261.9L649.4 261.9L649.7 261.8L649.8 261.7M726.8 242.8L727.4 242.7L728.1 242.6L728.7 243.4L727.6 244L727.1 243.7L726.5 243.4L726.8 242.8M728.5 245.5L728.4 245.3L728.1 245.1L727.7 245.1L727.3 245.3L727.1 245.5L727.1 245.7L727.4 245.9L727.9 245.9L728.3 245.7L728.5 245.5M727.5 241.1L728.4 241.1L729.2 241.1L728.9 241.8L728.3 241.8L727.6 241.8L727.5 241.1M731.5 238.8L732.1 238.8L732.8 238.8L733.5 238.7L733.9 239.1L734.3 239.5L733.4 239.8L732.5 240.1L731.8 239.8L731.2 239.5L731.5 238.8M719.5 240.7L720.2 240.7L720.9 240.7L721.6 240.7L721.6 241.3L720.7 241.3L719.8 241.4L719.5 240.7M728.9 240.1L728.8 239.9L728.2 239.8L727.5 239.8L726.8 239.9L726.5 240.1L726.6 240.2L727.1 240.4L727.9 240.4L728.6 240.2L728.9 240.1M730.7 241.9L730.6 241.8L730.4 241.7L730 241.7L729.7 241.8L729.6 241.9L729.6 242.1L729.9 242.2L730.2 242.2L730.5 242.1L730.7 241.9M737.8 243L737.7 242.8L737.3 242.7L736.8 242.7L736.4 242.8L736.2 243L736.3 243.2L736.7 243.3L737.2 243.3L737.6 243.2L737.8 243M734.2 249.6L734.1 249.4L733.9 249.3L733.6 249.3L733.3 249.4L733.2 249.6L733.3 249.7L733.5 249.8L733.8 249.8L734.1 249.7L734.2 249.6M735.5 250L735.5 249.8L735.4 249.6L735.3 249.6L735.1 249.8L735 250L735.1 250.2L735.2 250.3L735.3 250.3L735.5 250.2L735.5 250M734 256L733.9 255.9L733.8 255.8L733.5 255.8L733.3 255.9L733.2 256L733.3 256.2L733.5 256.2L733.7 256.2L733.9 256.2L734 256M742.6 258.3L743.4 258.5L744.1 258.7L743.2 258.6L742.6 258.3M743.8 260.7L743.7 260.6L743.5 260.5L743.1 260.5L742.9 260.6L742.8 260.7L742.9 260.8L743.1 260.9L743.4 260.9L743.7 260.8L743.8 260.7M745 260.8L744.9 260.5L744.8 260.3L744.6 260.3L744.5 260.5L744.4 260.8L744.5 261L744.6 261.2L744.8 261.2L744.9 261L745 260.8M707.6 257.6L708.3 257.8L708.9 258.1L709.7 259.2L708.7 259L708.1 258.3L707.6 257.6M706 255.3L706.7 255.3L706.4 256.6L706 256L706 255.3M697 253L697 252.8L696.8 252.7L696.5 252.7L696.2 252.8L696 253L695.9 253.2L696.1 253.3L696.4 253.3L696.8 253.2L697 253M691.5 251.2L691.5 251.1L691.4 251L691.2 251L691 251.1L690.8 251.2L690.8 251.3L690.9 251.4L691.1 251.4L691.3 251.3L691.5 251.2M691.5 249L691.5 248.9L691.3 248.9L690.9 248.9L690.5 248.9L690.3 249L690.3 249.2L690.6 249.2L691 249.2L691.3 249.2L691.5 249M680.8 256.9L682 256.7L683.2 256.6L684.4 256.4M676.3 256L676.8 256.2L677.3 256.5L678 256.7L678.6 256.9M674.2 254.6L674.3 254.5L674.2 254.5L674 254.5L673.8 254.5L673.6 254.6L673.6 254.8L673.7 254.8L673.9 254.8L674.1 254.8L674.2 254.6M795.8 245.4L795.6 245.3L795.3 245.2L795.1 245.2L795 245.3L795.1 245.4L795.3 245.6L795.5 245.7L795.8 245.7L795.9 245.6L795.8 245.4M800.1 244.9L799.9 244.7L799.6 244.7L799.3 244.7L799.3 244.7L799.4 244.9L799.6 245L799.8 245.1L800.1 245.1L800.2 245L800.1 244.9M802.6 242.9L802.4 242.8L802.2 242.8L801.9 242.8L801.8 242.8L801.9 242.9L802.1 243L802.4 243.1L802.6 243.1L802.7 243L802.6 242.9M808.1 239.4L807.7 239.2L807.1 239.1L806.6 239.1L806.4 239.2L806.6 239.4L807 239.5L807.6 239.6L808.1 239.6L808.3 239.5L808.1 239.4M811.8 240L811.4 239.9L810.9 239.8L810.4 239.8L810.1 239.9L810.2 240L810.6 240.1L811.2 240.2L811.7 240.2L811.9 240.1L811.8 240M677.5 241.7L677.7 241.5L677.5 241.4L676.9 241.4L676.3 241.5L675.8 241.7L675.7 241.8L675.9 241.9L676.4 241.9L677.1 241.8L677.5 241.7M676.7 242.8L676.8 242.7L676.5 242.7L676.1 242.7L675.7 242.7L675.4 242.8L675.4 242.9L675.6 243L676 243L676.4 242.9L676.7 242.8M681.1 241.8L681.1 241.7L680.9 241.7L680.5 241.7L680.1 241.7L679.8 241.8L679.7 241.9L679.9 242L680.3 242L680.8 241.9L681.1 241.8M659.2 254.6L659.2 254.5L659.2 254.5L659 254.5L658.8 254.5L658.6 254.6L658.6 254.8L658.6 254.8L658.8 254.8L659 254.8L659.2 254.6M786 253L785.9 252.7L785.7 252.6L785.6 252.6L785.6 252.7L785.7 253L785.9 253.2L786 253.3L786.1 253.3L786.1 253.2L786 253M785.3 253.5L785.2 253.3L785.1 253.1L785 253.1L785 253.3L785.2 253.5L785.3 253.7L785.4 253.9L785.5 253.9L785.4 253.7L785.3 253.5M787.9 252.3L787.8 252.2L787.6 252.2L787.4 252.2L787.3 252.2L787.3 252.3L787.4 252.4L787.6 252.5L787.8 252.5L787.9 252.4L787.9 252.3M783.4 254.3L783.2 254.2L783 254.1L782.8 254.1L782.7 254.2L782.8 254.3L782.9 254.5L783.1 254.6L783.3 254.6L783.4 254.5L783.4 254.3M771.7 250L771.6 249.8L771.5 249.8L771.4 249.8L771.3 249.8L771.3 250L771.4 250.1L771.5 250.1L771.6 250.1L771.7 250.1L771.7 250M775 251.1L774.9 250.9L774.8 250.8L774.7 250.8L774.6 250.9L774.7 251.1L774.8 251.2L774.9 251.3L775 251.3L775 251.2L775 251.1M772.7 252.8L772.6 252.5L772.5 252.4L772.4 252.4L772.4 252.5L772.4 252.8L772.5 253L772.7 253.1L772.8 253.1L772.8 253L772.7 252.8M785.3 263.7L785.2 263.4L785 263.2L784.9 263.2L784.9 263.4L784.9 263.7L785 264L785.2 264.2L785.3 264.2L785.4 264L785.3 263.7M782.4 265.6L782.3 265.5L782.2 265.4L782 265.4L781.8 265.5L781.8 265.6L781.9 265.7L782.1 265.7L782.2 265.7L782.4 265.7L782.4 265.6M794.9 266.3L794.8 266.2L794.6 266.1L794.4 266.1L794.2 266.2L794.2 266.3L794.3 266.4L794.5 266.4L794.7 266.4L794.9 266.4L794.9 266.3M797.8 268L797.7 267.9L797.6 267.9L797.5 267.9L797.4 267.9L797.4 268L797.5 268.1L797.6 268.2L797.7 268.2L797.8 268.1L797.8 268M808.3 298.8L808.2 298.6L808.2 298.5L808.1 298.5L808 298.6L808 298.8L808 299L808.1 299.1L808.2 299.1L808.2 299L808.3 298.8M817.3 309.7L817.3 309.6L817.2 309.5L817.1 309.5L817 309.6L816.9 309.7L816.9 309.8L817 309.9L817.1 309.9L817.2 309.8L817.3 309.7M841.5 284.5L841.8 285.6L841.7 286.6M842.8 289.1L842.7 288.9L842.7 288.8L842.6 288.8L842.5 288.9L842.5 289.1L842.6 289.3L842.6 289.4L842.7 289.4L842.8 289.3L842.8 289.1M851 296L850.9 295.9L850.8 295.7L850.5 295.7L850.3 295.9L850.2 296L850.3 296.2L850.5 296.3L850.7 296.3L850.9 296.2L851 296M845.4 293.6L845.4 293.3L845.3 293.2L845.2 293.2L845.1 293.3L845.1 293.6L845.1 293.8L845.2 293.9L845.3 293.9L845.4 293.8L845.4 293.6M846.4 295.4L846.4 295.2L846.3 295.1L846.2 295.1L846.1 295.2L846 295.4L846 295.7L846.1 295.8L846.2 295.8L846.3 295.7L846.4 295.4M632.4 284.9L632.4 284.6L632.3 284.5L632.2 284.5L632 284.6L631.9 284.9L631.9 285.2L632 285.3L632.2 285.3L632.4 285.2L632.4 284.9M635 285.6L635 285.3L634.8 285.1L634.6 285.1L634.5 285.3L634.3 285.6L634.4 285.9L634.5 286.1L634.7 286.1L634.9 285.9L635 285.6M633.2 287.1L633.2 286.7L633.2 286.5L633.1 286.5L632.9 286.7L632.8 287.1L632.8 287.4L632.9 287.6L633 287.6L633.1 287.4L633.2 287.1M635.3 296.8L635.2 296.7L635 296.5L634.8 296.5L634.6 296.7L634.5 296.8L634.6 297L634.8 297.1L635 297.1L635.2 297L635.3 296.8M640.3 298.9L640.2 298.6L640.1 298.4L639.9 298.4L639.8 298.6L639.8 298.9L639.9 299.2L640 299.3L640.2 299.3L640.3 299.2L640.3 298.9M638.4 299.9L638.4 299.7L638.3 299.5L638.2 299.5L638.1 299.7L638.1 299.9L638.1 300.1L638.2 300.2L638.3 300.2L638.4 300.1L638.4 299.9M653.5 298.8L653.4 298.5L653.2 298.4L653.1 298.4L652.9 298.5L652.9 298.8L652.9 299L653.1 299.2L653.3 299.2L653.5 299L653.5 298.8M650.3 296.2L651 296.7L651.7 297.6L651.2 297.1L650.3 296.2M648.2 295.9L648.1 295.8L647.9 295.8L647.7 295.8L647.6 295.8L647.5 295.9L647.6 295.9L647.7 296L647.9 296L648.1 295.9L648.2 295.9M657 301.3L656.9 301.2L656.7 301.2L656.4 301.2L656.2 301.2L656.1 301.3L656.2 301.4L656.4 301.5L656.7 301.5L656.9 301.4L657 301.3M657.2 300.9L657.1 300.6L657 300.5L657 300.5L656.9 300.6L656.9 300.9L656.9 301.2L657 301.3L657.1 301.3L657.2 301.2L657.2 300.9M661.5 305.5L661.4 305.3L661.3 305.1L661.2 305.1L661.1 305.3L661.1 305.5L661.2 305.7L661.3 305.8L661.4 305.8L661.5 305.7L661.5 305.5M669.7 306.4L669.6 306.3L669.3 306.3L669.1 306.3L668.8 306.3L668.8 306.4L668.9 306.5L669.1 306.6L669.4 306.6L669.6 306.5L669.7 306.4M725.6 294.9L725.5 294.6L725.4 294.5L725.2 294.5L725.1 294.6L725.1 294.9L725.1 295.1L725.2 295.2L725.4 295.2L725.5 295.1L725.6 294.9M734.1 276.5L734.1 276.2L734 276L733.9 276L733.8 276.2L733.8 276.5L733.8 276.8L733.9 277L734 277L734.1 276.8L734.1 276.5M734.8 275.1L734.7 275L734.6 274.9L734.4 274.9L734.3 275L734.2 275.1L734.2 275.2L734.4 275.2L734.6 275.2L734.7 275.2L734.8 275.1M744.6 286.8L744.5 286.7L744.4 286.6L744.3 286.6L744.1 286.7L744.1 286.8L744.1 286.9L744.3 287L744.4 287L744.5 286.9L744.6 286.8M737.2 325.3L737.2 325L737.1 324.8L737 324.8L736.9 325L736.9 325.3L736.9 325.6L737 325.8L737.2 325.8L737.2 325.6L737.2 325.3M739.8 333.9L740.6 334.1L741.4 334.2L740.7 334.3L740.1 334.4L739.8 333.9M736.9 330.1L736.9 329.7L736.8 329.5L736.7 329.5L736.6 329.7L736.6 330.1L736.7 330.5L736.8 330.7L736.9 330.7L736.9 330.5L736.9 330.1M772 273.8L772 273.7L771.8 273.6L771.7 273.6L771.6 273.7L771.5 273.8L771.6 273.9L771.7 273.9L771.9 273.9L772 273.9L772 273.8M648.2 320.4L648.1 320.3L647.9 320.3L647.7 320.3L647.5 320.3L647.5 320.4L647.6 320.4L647.8 320.5L648 320.5L648.2 320.4L648.2 320.4M638.6 302.7L638.5 302.6L638.3 302.6L638.1 302.6L638 302.6L637.9 302.7L638 302.8L638.2 302.9L638.4 302.9L638.5 302.8L638.6 302.7M642.3 304.5L642.2 304.4L642.1 304.3L642 304.3L641.9 304.4L641.9 304.5L642 304.7L642.1 304.7L642.2 304.7L642.3 304.7L642.3 304.5M656.1 323.4L656 323.3L655.9 323.2L655.8 323.2L655.8 323.3L655.9 323.4L656 323.6L656.1 323.6L656.2 323.6L656.2 323.6L656.1 323.4M653.7 323.3L653.6 323.2L653.5 323.1L653.4 323.1L653.4 323.2L653.4 323.3L653.5 323.4L653.7 323.5L653.7 323.5L653.7 323.4L653.7 323.3M639.2 275.1L639.2 274.9L639.2 274.9L639.1 274.9L639 274.9L638.9 275.1L638.9 275.2L639 275.3L639 275.3L639.1 275.2L639.2 275.1M640.6 273.8L640.6 273.7L640.6 273.7L640.5 273.7L640.4 273.7L640.4 273.8L640.4 273.8L640.4 273.9L640.5 273.9L640.6 273.8L640.6 273.8M644.3 269.7L645.6 269.5L645.2 270L644.1 270.5L644.3 269.7M640.7 270.1L640.7 270L640.6 270L640.4 270L640.3 270L640.2 270.1L640.2 270.1L640.3 270.2L640.5 270.2L640.6 270.1L640.7 270.1M642.6 269.3L642.6 269.2L642.6 269.1L642.6 269.1L642.5 269.2L642.5 269.3L642.4 269.5L642.4 269.5L642.4 269.5L642.5 269.5L642.6 269.3M649.6 266.7L649.6 266.6L649.6 266.5L649.6 266.5L649.5 266.6L649.4 266.7L649.4 266.8L649.4 266.9L649.4 266.9L649.5 266.8L649.6 266.7M692 244.2L692 244.1L691.7 244L691.3 244L690.9 244.1L690.6 244.2L690.6 244.3L690.9 244.3L691.3 244.3L691.7 244.3L692 244.2M748.5 245L748.4 244.9L748.2 244.8L747.9 244.8L747.7 244.9L747.6 245L747.7 245.1L747.9 245.2L748.2 245.2L748.5 245.1L748.5 245M775.9 239.3L776.6 239.1L777.3 239L778 239.1L778.7 239.1L779.4 239.2L779.1 239.6L778.4 239.6L777.7 239.6L777 239.5L775.9 239.3M779.4 240.4L779.2 240.3L778.9 240.3L778.6 240.3L778.4 240.3L778.4 240.4L778.6 240.5L778.9 240.6L779.2 240.6L779.4 240.5L779.4 240.4M739.6 343.2L740.5 343.5L741.1 344.7L740.4 344.8L739.8 345L738.7 344.1L739.6 343.2M728.9 345.1L728.6 345L728.1 345L727.4 345L726.8 345L726.7 345.1L726.9 345.2L727.5 345.3L728.2 345.3L728.7 345.2L728.9 345.1M749.2 348.4L749.9 348.5L750.5 348.6L751.2 348.6L750.6 349.4L749.8 349.4L749.1 349.4L749.2 348.4M705.1 349.1L704.8 348.9L704.2 348.8L703.7 348.8L703.5 348.9L703.5 349.1L703.9 349.2L704.4 349.3L704.9 349.3L705.2 349.2L705.1 349.1M691 348.1L690.8 348L690.5 348L690.3 348L690.1 348L690.1 348.1L690.3 348.2L690.6 348.2L690.8 348.2L691 348.2L691 348.1" fill="#000" stroke="#000" stroke-width="1.7" stroke-linejoin="round" stroke-linecap="round"/>
</g>
<path id="trk" d="M643.1 273.1L662 273.3L683.1 273.3L704.1 273.1L707.6 272.6L709.7 270.3M703.4 253.9L699.2 254.6L695.7 256.6L692.9 260.5L690.8 264.7L688.9 269.6L688 273.1L687 278.8L686.6 284.4L686.7 290L687 295.6L687.4 301.2L688 306.8L688.7 312.4L689.8 318L691.2 323.6L692.9 329.2L695 333.1L697.1 336.2L699.9 339.3L702.7 341.8M676.1 294.2L675.8 299.1L675.8 304L676.2 308.2L676.8 312.4L677.3 316.6L678.2 320.8L679.7 325.3L681.7 329.2L684.2 332.7L687.3 336.2L689.4 338.7L691.5 341.1M713.6 278.8L713.3 283.7L713.2 288.6L713.3 293.5L713.6 298.4L715.3 300.5L716.7 302.3L717.5 306.1L718.1 309.6L718.9 313.8L719.8 318L720.6 323.6L721.6 329.2L722.6 333.4L723.7 337.6L725.1 340.4L726.8 342.5L729.3 341.8M656.7 317.6L676.1 317.7L697.1 317.8L718.1 317.8L737 318M650.8 280.9L650.4 283.4L650.1 285.8L649.4 288.6L648.7 291.4L647.9 293.9L647 296.3M748.2 255.6L749.6 253.5L751.7 251.8L755.2 251.4L758 251.8L760.6 253.5L762.7 256.6L764.3 260.5L766 264.7L767.1 268.9L766.7 273.1L765.7 277.3L764.8 281.6L764.3 285.8L765.3 290.7L766.4 295.6L767 301.2L767.1 306.8L767.3 312.4L767.1 318L766 321.9L764.3 325L762.2 328.1L760.1 330.6L758.7 332.7L758 334.5L759.2 336.2L760.1 337.2M765.7 251.4L766.9 255.2L767.8 259.1L769.1 261.7L770.6 264L772.5 265.6L774.1 266.4M838.3 281.6L837.2 284.4L836.5 287.2L838.9 290L841.4 292.8L842.8 297L843.5 301.2L843.4 305.4L842.8 309.6L841.7 313.8L840 318L837.5 322.5L834.4 326.4L831.2 329.3L827.4 332L823.2 334.5L819 336.9L814.8 339M838.6 281.6L839.7 284.4L840.3 287.2M788.9 341.1L795.2 340L802.2 339L809.2 338.6L816.2 338.3L825.3 337.9L834.4 337.6M656.7 338.3L662.7 338.4L669 338.7L674 339L678.9 339.3L681 338.7L681.7 337.6L680.3 335.5L678.2 334.1M687.3 340.1L690.1 340.8L692.9 341.1L696.4 340.7L699.2 341.5L702.7 341.8M696.4 238.8L697.1 241.2L697.8 243.7L698.8 241.6L699.9 239.5L700.6 241.6L701.3 243.7L704.1 241.2L706.9 239.5L709.7 238.8L713.9 237.4M684.5 251.4L686.6 250L689.4 249.3M776 235.7L776.7 235.7M796.1 235.7L796.8 235.7" fill="none" stroke="#0000ff" stroke-width="3" stroke-linejoin="round" stroke-linecap="round"/>
</defs>
<g transform="translate(0,0)">
<path d="M195.6 385.6V53.2" stroke="#000" stroke-width="2.2" stroke-dasharray="28.5 18.5" fill="none"/>
<clipPath id="cNO31"><rect x="47.9" y="53.2" width="295.5" height="334.4"/></clipPath>
<g clip-path="url(#cNO31)">
<path d="M44.9 382.8V382.8H49.5V382.3H53.9V381H58.3V380.6H62.6V379.7H67V379.6H71.3V379.1H75.7V378.7H80.1V377.4H84.4V377.1H88.8V376H93.1V375.3H97.5V373.4H101.9V371.9H106.2V370.4H110.6V368.2H114.9V366.5H119.3V364.6H123.7V359.7H128V354.7H132.4V350.1H136.7V346.1H141.1V341.9H145.5V333.3H149.8V320.3H154.2V307.4H158.5V293H162.9V282.8H167.3V272.1H171.6V267.5H176V265.3H180.3V266.7H184.7V266.2H189.1V267.4H193.4V265.7H197.8V268.8H202.1V271.6H206.5V276.8H210.9V287.1H215.2V300.1H219.6V305.9H223.9V311.8H228.3V320.8H232.7V326.3H237V332.2H241.4V339H245.7V344.8H250.1V348.4H254.5V351.7H258.8V355.7H263.2V358.1H267.5V362.7H271.9V366.1H276.3V368.1H280.6V369.6H285V370.6H289.3V371.6H293.7V374.1H298.1V376.1H302.4V377.2H306.8V377.2H311.1V378.7H315.5V379H319.9V379.7H324.2V379.6H328.6V380.3H332.9V380.4H337.3V380.9H341.7V381.7H346.4" fill="none" stroke="#ab5c10" stroke-width="2.9" stroke-linejoin="miter"/>
<path d="M44.9 384.2V384.2H49.5V383.9H53.9V384.2H58.3V384H62.6V383.7H67V383.2H71.3V382.7H75.7V383.3H80.1V382H84.4V381.2H88.8V380.7H93.1V380.1H97.5V378.9H101.9V378.5H106.2V377.4H110.6V376.4H114.9V375H119.3V372.9H123.7V371H128V369.3H132.4V366.3H136.7V362.9H141.1V360.1H145.5V357.4H149.8V347.3H154.2V335.8H158.5V322.7H162.9V307.1H167.3V274.1H171.6V264.8H176V251.9H180.3V235.2H184.7V214.5H189.1V197.9H193.4V197.8H197.8V203.9H202.1V218.9H206.5V240.3H210.9V251.8H215.2V267.6H219.6V279H223.9V297.1H228.3V310.9H232.7V322.3H237V332.6H241.4V343.3H245.7V350.6H250.1V356.9H254.5V361H258.8V366H263.2V369.2H267.5V370.9H271.9V372.8H276.3V375.1H280.6V376.6H285V377.6H289.3V378H293.7V379.2H298.1V380H302.4V380.6H306.8V381.6H311.1V381.8H315.5V382.3H319.9V383.1H324.2V383.3H328.6V383.7H332.9V383.6H337.3V384H341.7V383.9H346.4" fill="none" stroke="#2bb030" stroke-width="2.9" stroke-linejoin="miter"/>
<path d="M44.9 383V383H49.5V382.8H53.9V382.7H58.3V382.6H62.6V382.2H67V381.8H71.3V381.3H75.7V380.8H80.1V380.2H84.4V379.6H88.8V379H93.1V378.4H97.5V377.5H101.9V376.6H106.2V375.8H110.6V374.8H114.9V372.9H119.3V371H123.7V369.2H128V367H132.4V364.2H136.7V361.4H141.1V359.3H145.5V357.8H149.8V347.9H154.2V340.8H158.5V330.4H162.9V320.9H167.3V306.6H171.6V291.2H176V265.3H180.3V244.3H184.7V220.6H189.1V204.8H193.4V166.2H197.8V175.2H202.1V219.2H206.5V246H210.9V269.5H215.2V282H219.6V292.6H223.9V307.3H228.3V317.7H232.7V326.3H237V334.6H241.4V345.8H245.7V351.2H250.1V357.2H254.5V361H258.8V364.7H263.2V367.7H267.5V369.7H271.9V371.6H276.3V373.6H280.6V375H285V375.8H289.3V376.7H293.7V377.6H298.1V378.3H302.4V379H306.8V379.6H311.1V380.3H315.5V380.7H319.9V381.2H324.2V381.6H328.6V382.1H332.9V382.3H337.3V382.6H341.7V382.8H346.4" fill="none" stroke="#800080" stroke-width="2.9" stroke-linejoin="miter"/>
</g>
<clipPath id="cNO32"><rect x="359.8" y="53.2" width="246.1" height="334.4"/></clipPath>
<g clip-path="url(#cNO32)">
<path d="M359.8 385.6H400.8V263.6H402.2V317.2H405.5V326.8H408.6V321.6H411.2V328.5H413.8V347.5H416.4V345.8H421.6V340.6H425.1V231.6H427.5V245.5H430.1V249.8H432.3V318.1H434.6V352.7H438V355.3H441.5V361.4H443.6V363.1H445.8V385.6H605.9" fill="none" stroke="#ab5c10" stroke-width="2.9" stroke-linejoin="miter"/>
<path d="M359.8 385.6H374.4V372.6H376.1V351.8H378.7V361.4H381.3V359.6H383.9V342.3H386.5V331.1H390.5V344.1H392.2V351.8H393.9V342.3H396.5V341.5H399.1V353.6H401.4V354.4H403.8V326.8H407.9V223H410V265.4H414.7V314.6H418.1V328.5H420.7V351H424.2V354.4H428.5V370H431.1V376.1H434.6V379.5H438V382.1H443.2V383.8H451.9V384.9H476.1V385.6H605.9" fill="none" stroke="#2bb030" stroke-width="2.9" stroke-linejoin="miter"/>
<path d="M359.8 385.6H393.9V382.1H396.5V372.6H400.8V371.7H405.2V368.3H407.8V364.8H410.4V362.2H412.9V359.6H415.5V357H418.1V355.3H420.7V353.6H424.2V352.7H428.5V354.4H432.8V351.8H434.9V347.5H437.2V337.1H439.8V330.2H443.2V321.6H445.8V319H449.6V80.3H452V164.2H454.5V354.4H457.1V381.2H459.6V384.2H465.7V385.6H605.9" fill="none" stroke="#800080" stroke-width="2.9" stroke-linejoin="miter"/>
</g>
<rect x="47.9" y="53.2" width="295.5" height="332.4" fill="none" stroke="#262626" stroke-width="1.75"/>
<rect x="359.8" y="53.2" width="246.1" height="332.4" fill="none" stroke="#262626" stroke-width="1.75"/>
<path d="M108.4 385.6v-3.6M108.4 53.2v3.6M195.6 385.6v-3.6M195.6 53.2v3.6M282.8 385.6v-3.6M282.8 53.2v3.6M408.6 385.6v-3.6M408.6 53.2v3.6M532.2 385.6v-3.6M532.2 53.2v3.6" stroke="#262626" stroke-width="1.6" fill="none"/>
<text font-size="29.5" x="95.28" y="420.5" fill="#262626" xml:space="preserve">-1</text>
<text font-size="29.5" x="187.39" y="420.5" fill="#262626" xml:space="preserve">0</text>
<text font-size="29.5" x="274.59" y="420.5" fill="#262626" xml:space="preserve">1</text>
<text font-size="29.5" x="400.39" y="420.5" fill="#262626" xml:space="preserve">1</text>
<text font-size="29.5" x="523.99" y="420.5" fill="#262626" xml:space="preserve">2</text>
<text transform="translate(27.3,221) rotate(-90) scale(1,1.05)" text-anchor="middle" font-size="29.5" fill="#262626">N</text>
<text font-size="28" font-family="'DejaVu Sans','Liberation Sans',sans-serif" font-weight="200" transform="translate(80.28,467.3) scale(1.2,1)" fill="#262626" xml:space="preserve">Δ</text><text font-size="29.1" transform="translate(106.27,467.3) scale(1,1.05)" fill="#262626" xml:space="preserve">NO</text><text font-size="23" x="150.71" y="482.4" fill="#262626" xml:space="preserve">3</text><text font-size="29.1" x="165.51" y="467.3" fill="#262626" xml:space="preserve"> / </text><text font-size="27.4" font-family="'Liberation Serif',serif" font-style="italic" transform="translate(192.76,467.3) scale(1.24,1)" fill="#262626" xml:space="preserve">μ</text><text font-size="29.1" x="212.51" y="467.3" fill="#262626" xml:space="preserve">mol kg</text><text font-size="23" x="299.21" y="453" fill="#262626" xml:space="preserve">-1</text>
<text font-size="24.6" font-family="'Liberation Serif',serif" font-style="italic" transform="translate(361.27,467.3) scale(1.27,1)" fill="#262626" xml:space="preserve">σ</text><text font-size="29.1" transform="translate(376.69,467.3) scale(1,1.05)" fill="#262626" xml:space="preserve"> NO</text><text font-size="23" x="429.22" y="482.4" fill="#262626" xml:space="preserve">3</text><text font-size="29.1" x="444.02" y="467.3" fill="#262626" xml:space="preserve"> / </text><text font-size="27.4" font-family="'Liberation Serif',serif" font-style="italic" transform="translate(471.27,467.3) scale(1.24,1)" fill="#262626" xml:space="preserve">μ</text><text font-size="29.1" x="491.02" y="467.3" fill="#262626" xml:space="preserve">mol kg</text><text font-size="23" x="577.72" y="453" fill="#262626" xml:space="preserve">-1</text>
<text font-size="29.35" transform="translate(149.89,31.2) scale(1,1.05)" fill="#000000" xml:space="preserve">NO</text><text font-size="23" x="194.71" y="46.3" fill="#000000" xml:space="preserve">3</text><text font-size="29.35" transform="translate(208.4,31.2) scale(1,1.009)" fill="#000000" xml:space="preserve"> post-GLODAPv2 cruises</text>
<text font-size="29.5" x="671.49" y="28" fill="#000" xml:space="preserve">ratio</text><text font-size="28" font-family="'DejaVu Sans','Liberation Sans',sans-serif" font-weight="200" transform="translate(739.68,28) scale(1.2,1)" fill="#000" xml:space="preserve">Δ</text><text font-size="29.5" x="773.41" y="28" fill="#000" xml:space="preserve">:</text><text font-size="24.6" font-family="'Liberation Serif',serif" font-style="italic" transform="translate(791.77,28) scale(1.27,1)" fill="#000" xml:space="preserve">σ</text>
<text font-size="29.5" x="216.54" y="77.8" fill="#000" xml:space="preserve">mean</text><text font-size="28" font-family="'DejaVu Sans','Liberation Sans',sans-serif" font-weight="200" transform="translate(300.18,77.8) scale(1.2,1)" fill="#000" xml:space="preserve">Δ</text><text font-size="29.5" x="326.81" y="77.8" fill="#000" xml:space="preserve">:</text>
<text font-size="29.5" transform="translate(55.6,110.05) scale(1,1.05)" fill="#ab5c10" xml:space="preserve">CANYON</text>
<text font-size="29.5" x="265.95" y="110.05" fill="#ab5c10" xml:space="preserve">-0.01</text>
<text font-size="29.5" transform="translate(55.6,142.3) scale(1,1.05)" fill="#2bb030" xml:space="preserve">CANYON-B</text>
<text font-size="29.5" x="258.54" y="142.3" fill="#2bb030" xml:space="preserve">+0.03</text>
<text font-size="29.5" transform="translate(55.6,174.55) scale(1,1.05)" fill="#800080" xml:space="preserve">LIR</text>
<text font-size="29.5" x="258.54" y="174.55" fill="#800080" xml:space="preserve">+0.05</text>
<text font-size="29.5" x="217.48" y="206.8" fill="#000" xml:space="preserve">std</text><text font-size="28" font-family="'DejaVu Sans','Liberation Sans',sans-serif" font-weight="200" transform="translate(267.88,206.8) scale(1.2,1)" fill="#000" xml:space="preserve">Δ</text><text font-size="29.5" x="294.01" y="206.8" fill="#000" xml:space="preserve">:</text>
<text font-size="29.5" x="275.78" y="239.05" fill="#ab5c10" xml:space="preserve">0.89</text>
<text font-size="29.5" x="275.78" y="271.3" fill="#2bb030" xml:space="preserve">0.61</text>
<text font-size="29.5" x="275.78" y="303.55" fill="#800080" xml:space="preserve">0.76</text>
<text font-size="29.5" x="492.04" y="77.8" fill="#000" xml:space="preserve">min</text><text font-size="24.6" font-family="'Liberation Serif',serif" font-style="italic" transform="translate(548.57,77.8) scale(1.27,1)" fill="#000" xml:space="preserve">σ</text><text font-size="29.5" x="566.71" y="77.8" fill="#000" xml:space="preserve">:</text>
<text font-size="29.5" x="540.08" y="110.05" fill="#ab5c10" xml:space="preserve">0.93</text>
<text font-size="29.5" x="540.08" y="142.3" fill="#2bb030" xml:space="preserve">0.74</text>
<text font-size="29.5" x="540.08" y="174.55" fill="#800080" xml:space="preserve">0.88</text>
<text font-size="29.5" x="466.84" y="206.8" fill="#000" xml:space="preserve">median</text><text font-size="24.6" font-family="'Liberation Serif',serif" font-style="italic" transform="translate(572.07,206.8) scale(1.27,1)" fill="#000" xml:space="preserve">σ</text><text font-size="29.5" x="590.21" y="206.8" fill="#000" xml:space="preserve">:</text>
<text font-size="29.5" x="540.08" y="239.05" fill="#ab5c10" xml:space="preserve">1.14</text>
<text font-size="29.5" x="540.08" y="271.3" fill="#2bb030" xml:space="preserve">1.00</text>
<text font-size="29.5" x="540.08" y="303.55" fill="#800080" xml:space="preserve">1.32</text>
<text font-size="29.5" x="646.63" y="77.8" fill="#000" xml:space="preserve">in- / outside 1</text><text font-size="24.6" font-family="'Liberation Serif',serif" font-style="italic" transform="translate(824.07,77.8) scale(1.27,1)" fill="#000" xml:space="preserve">σ</text><text font-size="29.5" x="842.01" y="77.8" fill="#000" xml:space="preserve">:</text>
<text font-size="29.5" x="679.34" y="110.05" fill="#ab5c10" xml:space="preserve">88.4 / 11.6 %</text>
<text font-size="29.5" x="685.36" y="142.3" fill="#2bb030" xml:space="preserve">93.6 /  6.4 %</text>
<text font-size="29.5" x="685.36" y="174.55" fill="#800080" xml:space="preserve">94.3 /  5.7 %</text>
<use href="#wm"/>
<use href="#trk"/>
<text font-size="29.5" x="646.38" y="388.4" fill="#262626" xml:space="preserve">1816 locations;</text>
<text font-size="29.5" x="644.93" y="420.5" fill="#262626" xml:space="preserve">39921 samples</text>
</g>
<g transform="translate(0,496)">
<path d="M195.6 385.6V53.2" stroke="#000" stroke-width="2.2" stroke-dasharray="28.5 18.5" fill="none"/>
<clipPath id="cPO41"><rect x="47.9" y="53.2" width="295.5" height="334.4"/></clipPath>
<g clip-path="url(#cPO41)">
<path d="M44.9 381.3V381.3H48.1V381.1H49.9V381.1H51.8V380.4H53.6V381.1H55.5V380.3H57.3V379.9H59.1V380.3H61V379.7H62.8V380.3H64.7V379.7H66.5V379.7H68.4V379.3H70.2V379.1H72.1V379.3H73.9V379.2H75.7V379H77.6V378.6H79.4V377.6H81.3V378.2H83.1V377.8H85V377.6H86.8V377.6H88.6V377.1H90.5V376.4H92.3V376.2H94.2V376H96V375.3H97.9V374.4H99.7V374.5H101.6V373.3H103.4V372.6H105.2V372.4H107.1V372.8H108.9V373.3H110.8V373.9H112.6V371.6H114.5V369.7H116.3V368H118.2V366.5H120V364.6H121.8V364.4H123.7V362.9H125.5V361.5H127.4V357.7H129.2V357.9H131.1V356.5H132.9V354.5H134.7V351.4H136.6V350.4H138.4V349.4H140.3V343.8H142.1V344.5H144V339.6H145.8V336.3H147.7V334.9H149.5V331.6H151.3V324.4H153.2V315.6H155V308.2H156.9V296.6H158.7V297.9H160.6V293.5H162.4V289.4H164.3V278.1H166.1V271.7H167.9V273.8H169.8V266.2H171.6V259.9H173.5V257.1H175.3V257.2H177.2V249.7H179V247.9H180.8V240.6H182.7V218.8H184.5V222.2H186.4V212.5H188.2V197.6H190.1V211H191.9V195.3H193.8V207.2H195.6V203.2H197.4V201.6H199.3V209.5H201.1V204.7H203V201.8H204.8V216.3H206.7V204.5H208.5V217.5H210.4V202.2H212.2V218.1H214V229H215.9V217.4H217.7V214.4H219.6V229.8H221.4V238.9H223.3V249.2H225.1V239.1H226.9V244.9H228.8V258.7H230.6V263.1H232.5V273.3H234.3V272.5H236.2V278.5H238V279.1H239.9V278.7H241.7V290.2H243.5V288H245.4V286.9H247.2V288.3H249.1V293.6H250.9V303.5H252.8V305.4H254.6V308.6H256.5V315.4H258.3V317.3H260.1V323.6H262V326.4H263.8V332.8H265.7V335.7H267.5V337.1H269.4V340H271.2V341.5H273V343.8H274.9V345.3H276.7V348.1H278.6V352.6H280.4V354.3H282.3V354.9H284.1V356.6H286V358.9H287.8V360.1H289.6V363H291.5V365.5H293.3V367H295.2V369.7H297V369.8H298.9V370.9H300.7V371.7H302.6V372.5H304.4V374H306.2V375.6H308.1V376.1H309.9V377.7H311.8V377.4H313.6V377.9H315.5V378.2H317.3V378.9H319.1V379.3H321V379.4H322.8V378.4H324.7V378.6H326.5V379.6H328.4V379H330.2V379.5H332.1V378.8H333.9V379.4H335.7V378.7H337.6V379H339.4V379.6H341.3V379.9H343.1V380.6H346.4" fill="none" stroke="#ab5c10" stroke-width="2.9" stroke-linejoin="miter"/>
<path d="M44.9 382.1V382.1H48.1V382.1H49.9V381.6H51.8V381.2H53.6V381.9H55.5V381.6H57.3V380.9H59.1V380.4H61V380.5H62.8V380.4H64.7V380.5H66.5V380.5H68.4V379.8H70.2V380.3H72.1V379.6H73.9V379.5H75.7V379.4H77.6V379.6H79.4V379.4H81.3V378.5H83.1V378.9H85V379.1H86.8V378.5H88.6V379.1H90.5V377.9H92.3V377.9H94.2V378.3H96V377.4H97.9V377.6H99.7V377.7H101.6V376.9H103.4V377.5H105.2V377H107.1V377.3H108.9V376.7H110.8V376.5H112.6V376.7H114.5V376.8H116.3V375.2H118.2V373.8H120V373.5H121.8V373.4H123.7V371.4H125.5V372.2H127.4V372.5H129.2V369.9H131.1V367.7H132.9V364.7H134.7V361.2H136.6V357.1H138.4V357.6H140.3V356.1H142.1V353.8H144V352.1H145.8V351.3H147.7V345.5H149.5V341.4H151.3V337.3H153.2V331.9H155V329.3H156.9V321.3H158.7V315H160.6V310.2H162.4V296.1H164.3V294.5H166.1V293.9H167.9V284.7H169.8V263.5H171.6V259.9H173.5V256.6H175.3V236.6H177.2V229.2H179V217.5H180.8V198.8H182.7V191.4H184.5V182.3H186.4V196.2H188.2V181.3H190.1V178H191.9V162.4H193.8V175.3H195.6V154.1H197.4V156.4H199.3V165.4H201.1V179.9H203V169.5H204.8V170.3H206.7V169.2H208.5V171.1H210.4V176.6H212.2V187.9H214V187.5H215.9V187.7H217.7V191.3H219.6V201.4H221.4V209.7H223.3V217.9H225.1V232.8H226.9V227.3H228.8V242.8H230.6V240.9H232.5V242.4H234.3V253.8H236.2V262.8H238V273.1H239.9V273.2H241.7V285.4H243.5V291.2H245.4V300H247.2V304.6H249.1V309.3H250.9V315.5H252.8V320.6H254.6V323.1H256.5V331.9H258.3V332.4H260.1V334.3H262V338.1H263.8V343.6H265.7V350.4H267.5V351.3H269.4V350.9H271.2V350.1H273V353.2H274.9V356H276.7V358.3H278.6V361.1H280.4V363.9H282.3V365.9H284.1V368.4H286V370.7H287.8V372.5H289.6V373.9H291.5V374.7H293.3V375.7H295.2V376.1H297V377H298.9V377H300.7V378.2H302.6V378.5H304.4V378.5H306.2V378.9H308.1V379.1H309.9V379.1H311.8V379.5H313.6V379.4H315.5V379.8H317.3V379.8H319.1V380.2H321V380.8H322.8V380.7H324.7V380.7H326.5V380.9H328.4V381.1H330.2V381.1H332.1V382.2H333.9V381.5H335.7V381.6H337.6V381.1H339.4V381.8H341.3V382.1H343.1V382.1H346.4" fill="none" stroke="#2bb030" stroke-width="2.9" stroke-linejoin="miter"/>
</g>
<clipPath id="cPO42"><rect x="359.8" y="53.2" width="246.1" height="334.4"/></clipPath>
<g clip-path="url(#cPO42)">
<path d="M359.8 385.6H409.5V288.7H412.3V163.3H414V186.6H416.6V216.9H418.7V235.1H420.4V260.2H424.2V297.4H429.7V279.2H434.6V287H438V292.2H441.5V279.2H444.1V141.7H447.5V43.1H448.9V154.6H450.7V162.4H453.6V254.1H456.2V286.1H458.8V295.6H461.9V318.1H464.3V340.6H467.4V337.1H473.5V351.8H476.4V377.8H478.2V383H480.4V385.6H605.9" fill="none" stroke="#ab5c10" stroke-width="2.9" stroke-linejoin="miter"/>
<path d="M359.8 385.6H381.8V370H383.5V342.3H386.1V309.5H388.2V308.6H392.2V294.8H394.4V249.8H397.4V261H399.6V285.2H401.7V303.4H405.2V271.4H407.8V265.4H411.7V281.8H414.7V308.6H416.9V319H419.3V303.4H421.6V114H423.8V107.1H427.3V134.8H429.7V153.8H432V223.8H434.2V270.5H439.4V291.3H441.1V319.8H443.2V328.5H446.7V325H451.9V333.7H454.5V351.8H457.1V366.5H459.6V375.2H463.1V378.6H467.4V381.2H472.6V383.5H479.5V384.2H493.4V384.9H515V385.6H605.9" fill="none" stroke="#2bb030" stroke-width="2.9" stroke-linejoin="miter"/>
</g>
<rect x="47.9" y="53.2" width="295.5" height="332.4" fill="none" stroke="#262626" stroke-width="1.75"/>
<rect x="359.8" y="53.2" width="246.1" height="332.4" fill="none" stroke="#262626" stroke-width="1.75"/>
<path d="M103.2 385.6v-3.6M103.2 53.2v3.6M195.6 385.6v-3.6M195.6 53.2v3.6M287.7 385.6v-3.6M287.7 53.2v3.6M371.8 385.6v-3.6M371.8 53.2v3.6M494.6 385.6v-3.6M494.6 53.2v3.6" stroke="#262626" stroke-width="1.6" fill="none"/>
<text font-size="29.5" x="77.78" y="420.5" fill="#262626" xml:space="preserve">-0.1</text>
<text font-size="29.5" x="187.39" y="420.5" fill="#262626" xml:space="preserve">0</text>
<text font-size="29.5" x="267.19" y="420.5" fill="#262626" xml:space="preserve">0.1</text>
<text font-size="29.5" x="343.09" y="420.5" fill="#262626" xml:space="preserve">0.05</text>
<text font-size="29.5" x="474.09" y="420.5" fill="#262626" xml:space="preserve">0.1</text>
<text transform="translate(27.3,221) rotate(-90) scale(1,1.05)" text-anchor="middle" font-size="29.5" fill="#262626">N</text>
<text font-size="28" font-family="'DejaVu Sans','Liberation Sans',sans-serif" font-weight="200" transform="translate(80.28,467.3) scale(1.2,1)" fill="#262626" xml:space="preserve">Δ</text><text font-size="29.1" transform="translate(106.27,467.3) scale(1,1.05)" fill="#262626" xml:space="preserve">PO</text><text font-size="23" x="149.12" y="482.4" fill="#262626" xml:space="preserve">4</text><text font-size="29.1" x="163.91" y="467.3" fill="#262626" xml:space="preserve"> / </text><text font-size="27.4" font-family="'Liberation Serif',serif" font-style="italic" transform="translate(191.16,467.3) scale(1.24,1)" fill="#262626" xml:space="preserve">μ</text><text font-size="29.1" x="210.91" y="467.3" fill="#262626" xml:space="preserve">mol kg</text><text font-size="23" x="297.62" y="453" fill="#262626" xml:space="preserve">-1</text>
<text font-size="24.6" font-family="'Liberation Serif',serif" font-style="italic" transform="translate(361.27,467.3) scale(1.27,1)" fill="#262626" xml:space="preserve">σ</text><text font-size="29.1" transform="translate(376.69,467.3) scale(1,1.05)" fill="#262626" xml:space="preserve"> PO</text><text font-size="23" x="427.61" y="482.4" fill="#262626" xml:space="preserve">4</text><text font-size="29.1" x="442.41" y="467.3" fill="#262626" xml:space="preserve"> / </text><text font-size="27.4" font-family="'Liberation Serif',serif" font-style="italic" transform="translate(469.66,467.3) scale(1.24,1)" fill="#262626" xml:space="preserve">μ</text><text font-size="29.1" x="489.41" y="467.3" fill="#262626" xml:space="preserve">mol kg</text><text font-size="23" x="576.11" y="453" fill="#262626" xml:space="preserve">-1</text>
<text font-size="29.35" transform="translate(149.89,31.2) scale(1,1.05)" fill="#000000" xml:space="preserve">PO</text><text font-size="23" x="193.1" y="46.3" fill="#000000" xml:space="preserve">4</text><text font-size="29.35" transform="translate(206.8,31.2) scale(1,1.009)" fill="#000000" xml:space="preserve"> post-GLODAPv2 cruises</text>
<text font-size="29.5" x="671.49" y="28" fill="#000" xml:space="preserve">ratio</text><text font-size="28" font-family="'DejaVu Sans','Liberation Sans',sans-serif" font-weight="200" transform="translate(739.68,28) scale(1.2,1)" fill="#000" xml:space="preserve">Δ</text><text font-size="29.5" x="773.41" y="28" fill="#000" xml:space="preserve">:</text><text font-size="24.6" font-family="'Liberation Serif',serif" font-style="italic" transform="translate(791.77,28) scale(1.27,1)" fill="#000" xml:space="preserve">σ</text>
<text font-size="29.5" x="216.54" y="77.8" fill="#000" xml:space="preserve">mean</text><text font-size="28" font-family="'DejaVu Sans','Liberation Sans',sans-serif" font-weight="200" transform="translate(300.18,77.8) scale(1.2,1)" fill="#000" xml:space="preserve">Δ</text><text font-size="29.5" x="326.81" y="77.8" fill="#000" xml:space="preserve">:</text>
<text font-size="29.5" transform="translate(55.6,110.05) scale(1,1.05)" fill="#ab5c10" xml:space="preserve">CANYON</text>
<text font-size="29.5" x="242.14" y="110.05" fill="#ab5c10" xml:space="preserve">+0.008</text>
<text font-size="29.5" transform="translate(55.6,142.3) scale(1,1.05)" fill="#2bb030" xml:space="preserve">CANYON-B</text>
<text font-size="29.5" x="244.32" y="142.3" fill="#2bb030" xml:space="preserve">+0.011</text>
<text font-size="29.5" x="217.48" y="174.55" fill="#000" xml:space="preserve">std</text><text font-size="28" font-family="'DejaVu Sans','Liberation Sans',sans-serif" font-weight="200" transform="translate(267.88,174.55) scale(1.2,1)" fill="#000" xml:space="preserve">Δ</text><text font-size="29.5" x="294.01" y="174.55" fill="#000" xml:space="preserve">:</text>
<text font-size="29.5" x="259.37" y="206.8" fill="#ab5c10" xml:space="preserve">0.062</text>
<text font-size="29.5" x="259.37" y="239.05" fill="#2bb030" xml:space="preserve">0.052</text>
<text font-size="29.5" x="492.04" y="77.8" fill="#000" xml:space="preserve">min</text><text font-size="24.6" font-family="'Liberation Serif',serif" font-style="italic" transform="translate(548.57,77.8) scale(1.27,1)" fill="#000" xml:space="preserve">σ</text><text font-size="29.5" x="566.71" y="77.8" fill="#000" xml:space="preserve">:</text>
<text font-size="29.5" x="523.67" y="110.05" fill="#ab5c10" xml:space="preserve">0.066</text>
<text font-size="29.5" x="523.67" y="142.3" fill="#2bb030" xml:space="preserve">0.054</text>
<text font-size="29.5" x="466.84" y="174.55" fill="#000" xml:space="preserve">median</text><text font-size="24.6" font-family="'Liberation Serif',serif" font-style="italic" transform="translate(572.07,174.55) scale(1.27,1)" fill="#000" xml:space="preserve">σ</text><text font-size="29.5" x="590.21" y="174.55" fill="#000" xml:space="preserve">:</text>
<text font-size="29.5" x="523.67" y="206.8" fill="#ab5c10" xml:space="preserve">0.079</text>
<text font-size="29.5" x="523.67" y="239.05" fill="#2bb030" xml:space="preserve">0.072</text>
<text font-size="29.5" x="646.63" y="77.8" fill="#000" xml:space="preserve">in- / outside 1</text><text font-size="24.6" font-family="'Liberation Serif',serif" font-style="italic" transform="translate(824.07,77.8) scale(1.27,1)" fill="#000" xml:space="preserve">σ</text><text font-size="29.5" x="842.01" y="77.8" fill="#000" xml:space="preserve">:</text>
<text font-size="29.5" x="677.14" y="110.05" fill="#ab5c10" xml:space="preserve">86.1 / 13.9 %</text>
<text font-size="29.5" x="679.34" y="142.3" fill="#2bb030" xml:space="preserve">88.3 / 11.7 %</text>
<use href="#wm"/>
<use href="#trk"/>
<text font-size="29.5" x="646.38" y="388.4" fill="#262626" xml:space="preserve">1889 locations;</text>
<text font-size="29.5" x="645.16" y="420.5" fill="#262626" xml:space="preserve">40794 samples</text>
</g>
<g transform="translate(0,992)">
<path d="M195.6 385.6V53.2" stroke="#000" stroke-width="2.2" stroke-dasharray="28.5 18.5" fill="none"/>
<clipPath id="cSiOH41"><rect x="47.9" y="53.2" width="295.5" height="334.4"/></clipPath>
<g clip-path="url(#cSiOH41)">
<path d="M44.9 382V382H48.1V382.3H49.9V381.1H51.8V381.5H53.6V381H55.5V380.4H57.3V380.2H59.1V379.9H61V379.3H62.8V378.6H64.7V378.5H66.5V377.8H68.4V377.9H70.2V377.6H72.1V377.1H73.9V377H75.7V377.9H77.6V377.7H79.4V377.3H81.3V377H83.1V376.7H85V375.6H86.8V376.1H88.6V375.9H90.5V374.4H92.3V374.5H94.2V374.3H96V375.1H97.9V375.6H99.7V375.5H101.6V375.8H103.4V376H105.2V374.5H107.1V373.9H108.9V371.8H110.8V372H112.6V370.7H114.5V370.9H116.3V370.7H118.2V370.4H120V369.3H121.8V370.1H123.7V369.3H125.5V366.7H127.4V367.3H129.2V364.3H131.1V363.4H132.9V363.8H134.7V363.7H136.6V362.8H138.4V364.3H140.3V362.5H142.1V360.7H144V359.6H145.8V357.1H147.7V355.2H149.5V355.9H151.3V353.8H153.2V354.1H155V349.6H156.9V347.7H158.7V347.8H160.6V350.1H162.4V347.9H164.3V346.9H166.1V343.4H167.9V342.1H169.8V334.5H171.6V335.1H173.5V330.4H175.3V328.9H177.2V320.7H179V314.1H180.8V306.9H182.7V302.2H184.5V303.4H186.4V302.4H188.2V299.5H190.1V291.9H191.9V290.4H193.8V277.7H195.6V268.3H197.4V258.1H199.3V250.6H201.1V255.1H203V255.3H204.8V254.4H206.7V252.9H208.5V253.8H210.4V247.4H212.2V253H214V237.5H215.9V230.3H217.7V251.3H219.6V273.4H221.4V288.5H223.3V286.1H225.1V292.8H226.9V300.8H228.8V301.4H230.6V302.8H232.5V310.7H234.3V314.9H236.2V321.6H238V326.1H239.9V326.5H241.7V324.9H243.5V330.5H245.4V336.8H247.2V341.3H249.1V343.2H250.9V346.7H252.8V343.7H254.6V347.8H256.5V345.9H258.3V350.9H260.1V352.9H262V354H263.8V353.8H265.7V356.3H267.5V353.9H269.4V352.5H271.2V355.6H273V358.8H274.9V361.1H276.7V360.2H278.6V359.9H280.4V358.3H282.3V362.3H284.1V364H286V365.6H287.8V366H289.6V367.2H291.5V368.1H293.3V369.5H295.2V371H297V371.8H298.9V373.2H300.7V373.5H302.6V374.4H304.4V374.2H306.2V374.9H308.1V375.6H309.9V375.9H311.8V376.2H313.6V377.3H315.5V377.3H317.3V377.9H319.1V379H321V379.2H322.8V379.9H324.7V379.8H326.5V379.6H328.4V380.3H330.2V380.7H332.1V380.5H333.9V380.5H335.7V380.4H337.6V381.6H339.4V381.3H341.3V381.9H343.1V382.1H346.4" fill="none" stroke="#ab5c10" stroke-width="2.9" stroke-linejoin="miter"/>
<path d="M44.9 383.5V383.5H48.1V383.2H49.9V383.2H51.8V383.5H53.6V383.2H55.5V383.1H57.3V383.4H59.1V383.4H61V382.9H62.8V382.8H64.7V382.3H66.5V382.5H68.4V382.1H70.2V381.9H72.1V382H73.9V380.9H75.7V380.9H77.6V381.1H79.4V380.4H81.3V380.7H83.1V380.1H85V379.7H86.8V379.9H88.6V379.4H90.5V379.2H92.3V378.8H94.2V378.4H96V378.4H97.9V378.1H99.7V376.5H101.6V376.7H103.4V376.3H105.2V375.8H107.1V375.4H108.9V375H110.8V374.7H112.6V373.9H114.5V373.5H116.3V373.6H118.2V372.9H120V372.3H121.8V371.8H123.7V371.2H125.5V370.9H127.4V370.7H129.2V369.5H131.1V369.8H132.9V369.3H134.7V368.9H136.6V368.9H138.4V367.1H140.3V366H142.1V363.2H144V362.1H145.8V359H147.7V358.3H149.5V356.1H151.3V354.5H153.2V352.3H155V350.4H156.9V347.9H158.7V344.6H160.6V341.9H162.4V339.8H164.3V336.5H166.1V335H167.9V332H169.8V328.6H171.6V325.9H173.5V321.8H175.3V315.5H177.2V310H179V305.2H180.8V297.1H182.7V284.8H184.5V277.9H186.4V264.3H188.2V257.9H190.1V251.3H191.9V235.1H193.8V221.9H195.6V198.4H197.4V186.2H199.3V184.5H201.1V176.9H203V180H204.8V176.7H206.7V175.3H208.5V177.7H210.4V204.6H212.2V217.7H214V235.9H215.9V262.8H217.7V289.8H219.6V301.9H221.4V304.5H223.3V309.5H225.1V317.8H226.9V320.1H228.8V327.8H230.6V330.4H232.5V333.6H234.3V336.9H236.2V333.5H238V334.2H239.9V333.2H241.7V332.6H243.5V339.5H245.4V345.8H247.2V347.1H249.1V347.6H250.9V351.4H252.8V353.8H254.6V356.6H256.5V358.3H258.3V361.4H260.1V363.1H262V364.7H263.8V364.6H265.7V364.9H267.5V367.3H269.4V368.2H271.2V369.8H273V370.3H274.9V372.4H276.7V373.8H278.6V374.7H280.4V375.4H282.3V376.1H284.1V376.7H286V376.9H287.8V378H289.6V378.2H291.5V378.8H293.3V379.1H295.2V380.1H297V380.4H298.9V380.6H300.7V380.9H302.6V380.9H304.4V381.9H306.2V381.4H308.1V381.9H309.9V381.8H311.8V382.5H313.6V382H315.5V382.7H317.3V382.8H319.1V382.9H321V382.4H322.8V382.5H324.7V382.5H326.5V383.1H328.4V383H330.2V383.2H332.1V383.4H333.9V383.4H335.7V383.7H337.6V383.3H339.4V383.2H341.3V383.5H343.1V383.5H346.4" fill="none" stroke="#2bb030" stroke-width="2.9" stroke-linejoin="miter"/>
</g>
<clipPath id="cSiOH42"><rect x="359.8" y="53.2" width="246.1" height="334.4"/></clipPath>
<g clip-path="url(#cSiOH42)">
<path d="M359.8 385.6H442.5V43.1H443.7V182.3H447V274.9H449.8V311.2H451.9V331.1H454.5V336.3H460.5V344.1H463.1V342.3H468.3V347.5H472.6V351.8H476.1V355.3H481.3V344.1H484.7V333.7H491.6V326.8H494.2V328.5H499.4V333.7H502V355.3H504.6V360.5H508.1V371.7H510.7V385.6H605.9" fill="none" stroke="#ab5c10" stroke-width="2.9" stroke-linejoin="miter"/>
<path d="M359.8 385.6H415.9V120.1H419.3V241.1H421.6V275.7H423.8V299.1H425.9V311.2H427.6V320.7H429.7V329.4H432V325H435.4V335.4H437.7V347.5H439.8V348.4H442.4V342.3H444.9V340.6H449.3V342.3H453.6V344.9H456.2V347.5H458.8V349.2H464V344.1H466.6V333.7H468.3V324.2H473.5V331.9H475.2V338.9H477.8V336.3H483V357.9H485.6V363.1H488.2V365.7H491.6V371.7H494.2V376.9H496.8V380.4H500.3V383H505.5V384.2H515V385.6H605.9" fill="none" stroke="#2bb030" stroke-width="2.9" stroke-linejoin="miter"/>
</g>
<rect x="47.9" y="53.2" width="295.5" height="332.4" fill="none" stroke="#262626" stroke-width="1.75"/>
<rect x="359.8" y="53.2" width="246.1" height="332.4" fill="none" stroke="#262626" stroke-width="1.75"/>
<path d="M103.2 385.6v-3.6M103.2 53.2v3.6M195.6 385.6v-3.6M195.6 53.2v3.6M287.7 385.6v-3.6M287.7 53.2v3.6M400.3 385.6v-3.6M400.3 53.2v3.6M482.7 385.6v-3.6M482.7 53.2v3.6M565.1 385.6v-3.6M565.1 53.2v3.6" stroke="#262626" stroke-width="1.6" fill="none"/>
<text font-size="29.5" x="90.08" y="420.5" fill="#262626" xml:space="preserve">-5</text>
<text font-size="29.5" x="187.39" y="420.5" fill="#262626" xml:space="preserve">0</text>
<text font-size="29.5" x="279.49" y="420.5" fill="#262626" xml:space="preserve">5</text>
<text font-size="29.5" x="392.09" y="420.5" fill="#262626" xml:space="preserve">2</text>
<text font-size="29.5" x="474.49" y="420.5" fill="#262626" xml:space="preserve">4</text>
<text font-size="29.5" x="556.89" y="420.5" fill="#262626" xml:space="preserve">6</text>
<text transform="translate(27.3,221) rotate(-90) scale(1,1.05)" text-anchor="middle" font-size="29.5" fill="#262626">N</text>
<text font-size="28" font-family="'DejaVu Sans','Liberation Sans',sans-serif" font-weight="200" transform="translate(56.98,467.3) scale(1.2,1)" fill="#262626" xml:space="preserve">Δ</text><text font-size="29.1" transform="translate(82.97,467.3) scale(1,1.022)" fill="#262626" xml:space="preserve">Si(OH)</text><text font-size="23" x="172.66" y="482.4" fill="#262626" xml:space="preserve">4</text><text font-size="29.1" x="187.46" y="467.3" fill="#262626" xml:space="preserve"> / </text><text font-size="27.4" font-family="'Liberation Serif',serif" font-style="italic" transform="translate(214.71,467.3) scale(1.24,1)" fill="#262626" xml:space="preserve">μ</text><text font-size="29.1" x="234.46" y="467.3" fill="#262626" xml:space="preserve">mol kg</text><text font-size="23" x="321.16" y="453" fill="#262626" xml:space="preserve">-1</text>
<text font-size="24.6" font-family="'Liberation Serif',serif" font-style="italic" transform="translate(338.07,467.3) scale(1.27,1)" fill="#262626" xml:space="preserve">σ</text><text font-size="29.1" transform="translate(353.49,467.3) scale(1,1.022)" fill="#262626" xml:space="preserve"> Si(OH)</text><text font-size="23" x="451.27" y="482.4" fill="#262626" xml:space="preserve">4</text><text font-size="29.1" x="466.07" y="467.3" fill="#262626" xml:space="preserve"> / </text><text font-size="27.4" font-family="'Liberation Serif',serif" font-style="italic" transform="translate(493.32,467.3) scale(1.24,1)" fill="#262626" xml:space="preserve">μ</text><text font-size="29.1" x="513.07" y="467.3" fill="#262626" xml:space="preserve">mol kg</text><text font-size="23" x="599.77" y="453" fill="#262626" xml:space="preserve">-1</text>
<text font-size="29.35" transform="translate(126.67,31.2) scale(1,1.022)" fill="#000000" xml:space="preserve">Si(OH)</text><text font-size="23" x="217.12" y="46.3" fill="#000000" xml:space="preserve">4</text><text font-size="29.35" transform="translate(230.82,31.2) scale(1,1.009)" fill="#000000" xml:space="preserve"> post-GLODAPv2 cruises</text>
<text font-size="29.5" x="671.49" y="28" fill="#000" xml:space="preserve">ratio</text><text font-size="28" font-family="'DejaVu Sans','Liberation Sans',sans-serif" font-weight="200" transform="translate(739.68,28) scale(1.2,1)" fill="#000" xml:space="preserve">Δ</text><text font-size="29.5" x="773.41" y="28" fill="#000" xml:space="preserve">:</text><text font-size="24.6" font-family="'Liberation Serif',serif" font-style="italic" transform="translate(791.77,28) scale(1.27,1)" fill="#000" xml:space="preserve">σ</text>
<text font-size="29.5" x="216.54" y="77.8" fill="#000" xml:space="preserve">mean</text><text font-size="28" font-family="'DejaVu Sans','Liberation Sans',sans-serif" font-weight="200" transform="translate(300.18,77.8) scale(1.2,1)" fill="#000" xml:space="preserve">Δ</text><text font-size="29.5" x="326.81" y="77.8" fill="#000" xml:space="preserve">:</text>
<text font-size="29.5" transform="translate(55.6,110.05) scale(1,1.05)" fill="#ab5c10" xml:space="preserve">CANYON</text>
<text font-size="29.5" x="274.95" y="110.05" fill="#ab5c10" xml:space="preserve">+0.7</text>
<text font-size="29.5" transform="translate(55.6,142.3) scale(1,1.05)" fill="#2bb030" xml:space="preserve">CANYON-B</text>
<text font-size="29.5" x="274.95" y="142.3" fill="#2bb030" xml:space="preserve">+0.4</text>
<text font-size="29.5" x="217.48" y="174.55" fill="#000" xml:space="preserve">std</text><text font-size="28" font-family="'DejaVu Sans','Liberation Sans',sans-serif" font-weight="200" transform="translate(267.88,174.55) scale(1.2,1)" fill="#000" xml:space="preserve">Δ</text><text font-size="29.5" x="294.01" y="174.55" fill="#000" xml:space="preserve">:</text>
<text font-size="29.5" x="292.18" y="206.8" fill="#ab5c10" xml:space="preserve">3.3</text>
<text font-size="29.5" x="292.18" y="239.05" fill="#2bb030" xml:space="preserve">2.5</text>
<text font-size="29.5" x="492.04" y="77.8" fill="#000" xml:space="preserve">min</text><text font-size="24.6" font-family="'Liberation Serif',serif" font-style="italic" transform="translate(548.57,77.8) scale(1.27,1)" fill="#000" xml:space="preserve">σ</text><text font-size="29.5" x="566.71" y="77.8" fill="#000" xml:space="preserve">:</text>
<text font-size="29.5" x="556.48" y="110.05" fill="#ab5c10" xml:space="preserve">3.0</text>
<text font-size="29.5" x="556.48" y="142.3" fill="#2bb030" xml:space="preserve">2.4</text>
<text font-size="29.5" x="466.84" y="174.55" fill="#000" xml:space="preserve">median</text><text font-size="24.6" font-family="'Liberation Serif',serif" font-style="italic" transform="translate(572.07,174.55) scale(1.27,1)" fill="#000" xml:space="preserve">σ</text><text font-size="29.5" x="590.21" y="174.55" fill="#000" xml:space="preserve">:</text>
<text font-size="29.5" x="556.48" y="206.8" fill="#ab5c10" xml:space="preserve">3.2</text>
<text font-size="29.5" x="556.48" y="239.05" fill="#2bb030" xml:space="preserve">2.9</text>
<text font-size="29.5" x="646.63" y="77.8" fill="#000" xml:space="preserve">in- / outside 1</text><text font-size="24.6" font-family="'Liberation Serif',serif" font-style="italic" transform="translate(824.07,77.8) scale(1.27,1)" fill="#000" xml:space="preserve">σ</text><text font-size="29.5" x="842.01" y="77.8" fill="#000" xml:space="preserve">:</text>
<text font-size="29.5" x="677.14" y="110.05" fill="#ab5c10" xml:space="preserve">81.6 / 18.4 %</text>
<text font-size="29.5" x="679.34" y="142.3" fill="#2bb030" xml:space="preserve">88.3 / 11.7 %</text>
<use href="#wm"/>
<use href="#trk"/>
<text font-size="29.5" x="646.38" y="388.4" fill="#262626" xml:space="preserve">1941 locations;</text>
<text font-size="29.5" x="645.16" y="420.5" fill="#262626" xml:space="preserve">41751 samples</text>
</g>
<g transform="translate(903.7,0)">
<path d="M195.7 385.6V53.2" stroke="#000" stroke-width="2.2" stroke-dasharray="28.5 18.5" fill="none"/>
<clipPath id="cAT1"><rect x="47.9" y="53.2" width="295.5" height="334.4"/></clipPath>
<g clip-path="url(#cAT1)">
<path d="M44.9 383.7V383.7H48.7V383.3H52.9V383.2H57V382.6H61.2V382.5H65.3V382.8H69.4V382.5H73.6V381.9H77.7V381.9H81.9V381.4H86V380.5H90.1V379.7H94.3V379.2H98.4V378.6H102.5V377.3H106.7V376.2H110.8V375.6H115V372.4H119.1V370.3H123.2V366.5H127.4V363.7H131.5V359.2H135.7V352.4H139.8V347.1H143.9V342.8H148.1V334.6H152.2V327.3H156.4V318.1H160.5V309H164.7V296.9H168.8V282.3H172.9V272.3H177.1V258.6H181.2V249.3H185.3V241.2H189.5V233.9H193.6V223.2H197.8V221.4H201.9V222.9H206V236.9H210.2V246.9H214.3V253H218.5V265.2H222.6V275.3H226.8V291.7H230.9V302.2H235V310H239.2V323.3H243.3V332.5H247.4V342.1H251.6V348.8H255.7V354.1H259.9V358.1H264V360.4H268.1V363H272.3V365.2H276.4V367.6H280.6V369.2H284.7V372H288.9V371.5H293V371H297.1V371.4H301.3V373.8H305.4V375.8H309.5V379.3H313.7V380.9H317.8V380.7H322V381.6H326.1V382.2H330.2V382.7H334.4V383.5H338.5V383H342.7V384.2H346.4" fill="none" stroke="#ab5c10" stroke-width="2.9" stroke-linejoin="miter"/>
<path d="M44.9 384V384H48.7V383.9H52.9V383.7H57V383.6H61.2V383.5H65.3V383.3H69.4V383.2H73.6V383H77.7V382.9H81.9V382.7H86V382.4H90.1V382.2H94.3V382H98.4V381.8H102.5V381.5H106.7V381.2H110.8V379.4H115V377.3H119.1V375.2H123.2V372.8H127.4V370.2H131.5V367.1H135.7V363.6H139.8V359.5H143.9V353.2H148.1V347.1H152.2V340.2H156.4V330H160.5V315.3H164.7V298.5H168.8V276.6H172.9V251.3H177.1V225H181.2V215H185.3V205H189.5V197.5H193.6V194.8H197.8V199.8H201.9V210.2H206V215H210.2V218.8H214.3V230.5H218.5V252.3H222.6V269.7H226.8V285.6H230.9V297.4H235V310.8H239.2V326.3H243.3V337.9H247.4V348.2H251.6V356.8H255.7V364.8H259.9V370H264V373.9H268.1V376H272.3V377.4H276.4V378.8H280.6V380.4H284.7V381.9H288.9V382.4H293V383H297.1V383.3H301.3V383.6H305.4V383.8H309.5V383.8H313.7V383.9H317.8V383.9H322V384H326.1V384H330.2V384.1H334.4V384.1H338.5V384.2H342.7V384.2H346.4" fill="none" stroke="#2bb030" stroke-width="2.9" stroke-linejoin="miter"/>
<path d="M44.9 384V384H48.7V383.9H52.9V383.7H57V383.5H61.2V383.3H65.3V383H69.4V382.7H73.6V382.3H77.7V382H81.9V381.8H86V381.6H90.1V381.4H94.3V381.2H98.4V380.7H102.5V380.2H106.7V378.5H110.8V376.7H115V373.4H119.1V370.2H123.2V367.7H127.4V365.2H131.5V361H135.7V356.3H139.8V350.1H143.9V340.4H148.1V329.5H152.2V313.1H156.4V293.7H160.5V272.7H164.7V246.5H168.8V229.6H172.9V218H177.1V207.5H181.2V199.6H185.3V192H189.5V188.7H193.6V192.5H197.8V201.1H201.9V210.1H206V223.7H210.2V241.9H214.3V261H218.5V282.5H222.6V303.3H226.8V321.5H230.9V337.5H235V349H239.2V358.1H243.3V365.5H247.4V369.9H251.6V373.2H255.7V376.5H259.9V378.6H264V380.6H268.1V382H272.3V383H276.4V383.7H280.6V384.1H284.7V384.1H288.9V384.2H293V384.2H297.1V384.3H301.3V384.3H305.4V384.3H309.5V384.3H313.7V384.4H317.8V384.4H322V384.4H326.1V384.5H330.2V384.5H334.4V384.5H338.5V384.6H342.7V384.6H346.4" fill="none" stroke="#2e2ab2" stroke-width="2.9" stroke-linejoin="miter"/>
<path d="M44.9 382.8V382.8H48.7V382.6H52.9V382.4H57V382.2H61.2V382H65.3V381.6H69.4V381.3H73.6V381H77.7V380.6H81.9V380.3H86V379.9H90.1V379.6H94.3V379H98.4V378.4H102.5V377.8H106.7V376.9H110.8V376.1H115V374.5H119.1V373.2H123.2V372.1H127.4V369.8H131.5V367.2H135.7V364.6H139.8V359.1H143.9V352.6H148.1V348H152.2V345.3H156.4V333.6H160.5V324.1H164.7V314.6H168.8V302.5H172.9V290.3H177.1V281.9H181.2V264.9H185.3V249.8H189.5V242.9H193.6V228.2H197.8V218.9H201.9V218.2H206V215H210.2V223.5H214.3V233.9H218.5V248.5H222.6V260.5H226.8V276.8H230.9V290H235V300H239.2V316.6H243.3V328.2H247.4V333.2H251.6V344.6H255.7V349.8H259.9V356.4H264V361.5H268.1V364.9H272.3V367.5H276.4V369.2H280.6V371.2H284.7V373.8H288.9V375.9H293V377.2H297.1V378.3H301.3V379.3H305.4V380.3H309.5V381.2H313.7V381.8H317.8V382.1H322V382.4H326.1V382.7H330.2V383H334.4V383.2H338.5V383.5H342.7V383.7H346.4" fill="none" stroke="#800080" stroke-width="2.9" stroke-linejoin="miter"/>
</g>
<clipPath id="cAT2"><rect x="359.8" y="53.2" width="246.1" height="334.4"/></clipPath>
<g clip-path="url(#cAT2)">
<path d="M359.8 385.6H485.9V43.1H487.8V251.5H490.6V283.5H493.2V371.8H495.3V385.6H605.9" fill="none" stroke="#ab5c10" stroke-width="2.9" stroke-linejoin="miter"/>
<path d="M359.8 385.6H465V381.3H467.6V207.4H470.9V111.4H472.6V146H475V183.2H477.6V229.9H479.7V268.8H482V318.1H484V344.1H486.6V363.1H489.2V371.8H491.8V376.1H494.4V379.5H497.9V382.1H503.1V383.9H518.6V385.6H605.9" fill="none" stroke="#2bb030" stroke-width="2.9" stroke-linejoin="miter"/>
<path d="M359.8 385.6H429.5V382.1H432.1V375.2H434.7V370.9H437.3V366.6H439.9V363.1H442.5V359.6H445.1V356.2H447.7V353.6H450.3V351.9H452.9V350.1H455.5V348.4H459.8V346.7H463.3V344.1H466.7V343.2H471.9V341.5H475.4V346.7H478.9V347.5H484V349.3H487.5V351.9H491V352.7H494.4V355.3H497.9V357.9H501.3V361.4H504.8V365.7H509.1V367.4H513.4V368.3H517.8V371.8H521.2V373.5H524.7V376.1H529V377.8H534.2V379.5H538.5V381.3H542.9V382.1H553.2V383H570.5V383.5H587.8V383H605.7V385.6H605.9" fill="none" stroke="#2e2ab2" stroke-width="2.9" stroke-linejoin="miter"/>
<path d="M359.8 385.6H364.7V382.1H367.3V371.8H369.5V359.6H371.6V351H373.7V336.3H375.9V328.5H378.2V323.3H380.2V335.4H382.5V306H384.6V300.8H387.2V332H389.8V351H392V361.4H394.1V370H396.7V370.9H401V371.8H406.2V370H411.4V364.8H414V363.1H418.3V365.7H420.9V367.4H425.2V366.6H428.7V364.8H432.1V363.1H436.5V365.7H439.1V364H441.7V351H444.3V350.1H446.8V353.6H449.4V357.9H452V361.4H455.5V364H458.1V366.6H461.6V367.4H466.7V356.2H469.3V363.1H472.8V366.6H475.4V370H478V373.5H480.6V377.8H483.2V381.3H485.8V382.5H491V383.5H501.3V383.9H518.6V373.5H520.7V384.2H544.6V385.6H605.9" fill="none" stroke="#800080" stroke-width="2.9" stroke-linejoin="miter"/>
</g>
<rect x="47.9" y="53.2" width="295.5" height="332.4" fill="none" stroke="#262626" stroke-width="1.75"/>
<rect x="359.8" y="53.2" width="246.1" height="332.4" fill="none" stroke="#262626" stroke-width="1.75"/>
<path d="M112.8 385.6v-3.6M112.8 53.2v3.6M195.7 385.6v-3.6M195.7 53.2v3.6M278.3 385.6v-3.6M278.3 53.2v3.6M366.1 385.6v-3.6M366.1 53.2v3.6M410.2 385.6v-3.6M410.2 53.2v3.6M454.3 385.6v-3.6M454.3 53.2v3.6M498.5 385.6v-3.6M498.5 53.2v3.6M542.5 385.6v-3.6M542.5 53.2v3.6M586.5 385.6v-3.6M586.5 53.2v3.6" stroke="#262626" stroke-width="1.6" fill="none"/>
<text font-size="29.5" x="91.48" y="420.5" fill="#262626" xml:space="preserve">-10</text>
<text font-size="29.5" x="187.49" y="420.5" fill="#262626" xml:space="preserve">0</text>
<text font-size="29.5" x="261.89" y="420.5" fill="#262626" xml:space="preserve">10</text>
<text font-size="29.5" x="357.89" y="420.5" fill="#262626" xml:space="preserve">4</text>
<text font-size="29.5" x="401.99" y="420.5" fill="#262626" xml:space="preserve">6</text>
<text font-size="29.5" x="446.09" y="420.5" fill="#262626" xml:space="preserve">8</text>
<text font-size="29.5" x="482.09" y="420.5" fill="#262626" xml:space="preserve">10</text>
<text font-size="29.5" x="526.09" y="420.5" fill="#262626" xml:space="preserve">12</text>
<text font-size="29.5" x="570.09" y="420.5" fill="#262626" xml:space="preserve">14</text>
<text transform="translate(27.3,221) rotate(-90) scale(1,1.05)" text-anchor="middle" font-size="29.5" fill="#262626">N</text>
<text font-size="28" font-family="'DejaVu Sans','Liberation Sans',sans-serif" font-weight="200" transform="translate(91.98,467.3) scale(1.2,1)" fill="#262626" xml:space="preserve">Δ</text><text font-size="29.1" transform="translate(117.97,467.3) scale(1,1.05)" fill="#262626" xml:space="preserve">A</text><text font-size="23" transform="translate(138.18,482.4) scale(1,1.05)" fill="#262626" xml:space="preserve">T</text><text font-size="29.1" x="154.24" y="467.3" fill="#262626" xml:space="preserve"> / </text><text font-size="27.4" font-family="'Liberation Serif',serif" font-style="italic" transform="translate(181.49,467.3) scale(1.24,1)" fill="#262626" xml:space="preserve">μ</text><text font-size="29.1" x="201.24" y="467.3" fill="#262626" xml:space="preserve">mol kg</text><text font-size="23" x="287.94" y="453" fill="#262626" xml:space="preserve">-1</text>
<text font-size="24.6" font-family="'Liberation Serif',serif" font-style="italic" transform="translate(373.07,467.3) scale(1.27,1)" fill="#262626" xml:space="preserve">σ</text><text font-size="29.1" transform="translate(388.49,467.3) scale(1,1.05)" fill="#262626" xml:space="preserve"> A</text><text font-size="23" transform="translate(415.18,482.4) scale(1,1.05)" fill="#262626" xml:space="preserve">T</text><text font-size="29.1" x="431.24" y="467.3" fill="#262626" xml:space="preserve"> / </text><text font-size="27.4" font-family="'Liberation Serif',serif" font-style="italic" transform="translate(458.49,467.3) scale(1.24,1)" fill="#262626" xml:space="preserve">μ</text><text font-size="29.1" x="478.24" y="467.3" fill="#262626" xml:space="preserve">mol kg</text><text font-size="23" x="564.94" y="453" fill="#262626" xml:space="preserve">-1</text>
<text font-size="29.35" transform="translate(162.14,31.2) scale(1,1.05)" fill="#000000" xml:space="preserve">A</text><text font-size="23" transform="translate(182.52,46.3) scale(1,1.05)" fill="#000000" xml:space="preserve">T</text><text font-size="29.35" transform="translate(197.48,31.2) scale(1,1.009)" fill="#000000" xml:space="preserve"> post-GLODAPv2 cruises</text>
<text font-size="29.5" x="671.49" y="28" fill="#000" xml:space="preserve">ratio</text><text font-size="28" font-family="'DejaVu Sans','Liberation Sans',sans-serif" font-weight="200" transform="translate(739.68,28) scale(1.2,1)" fill="#000" xml:space="preserve">Δ</text><text font-size="29.5" x="773.41" y="28" fill="#000" xml:space="preserve">:</text><text font-size="24.6" font-family="'Liberation Serif',serif" font-style="italic" transform="translate(791.77,28) scale(1.27,1)" fill="#000" xml:space="preserve">σ</text>
<text font-size="29.5" x="216.54" y="77.8" fill="#000" xml:space="preserve">mean</text><text font-size="28" font-family="'DejaVu Sans','Liberation Sans',sans-serif" font-weight="200" transform="translate(300.18,77.8) scale(1.2,1)" fill="#000" xml:space="preserve">Δ</text><text font-size="29.5" x="326.81" y="77.8" fill="#000" xml:space="preserve">:</text>
<text font-size="29.5" transform="translate(55.6,110.05) scale(1,1.05)" fill="#ab5c10" xml:space="preserve">CANYON</text>
<text font-size="29.5" x="274.95" y="110.05" fill="#ab5c10" xml:space="preserve">+0.7</text>
<text font-size="29.5" transform="translate(55.6,142.3) scale(1,1.05)" fill="#2bb030" xml:space="preserve">CANYON-B</text>
<text font-size="29.5" x="274.95" y="142.3" fill="#2bb030" xml:space="preserve">+0.5</text>
<text font-size="29.5" transform="translate(55.6,174.55) scale(1,1.05)" fill="#2e2ab2" xml:space="preserve">CONTENT</text>
<text font-size="29.5" x="282.36" y="174.55" fill="#2e2ab2" xml:space="preserve">-0.5</text>
<text font-size="29.5" transform="translate(55.6,206.8) scale(1,1.05)" fill="#800080" xml:space="preserve">LIR</text>
<text font-size="29.5" x="274.95" y="206.8" fill="#800080" xml:space="preserve">+1.2</text>
<text font-size="29.5" x="217.48" y="239.05" fill="#000" xml:space="preserve">std</text><text font-size="28" font-family="'DejaVu Sans','Liberation Sans',sans-serif" font-weight="200" transform="translate(267.88,239.05) scale(1.2,1)" fill="#000" xml:space="preserve">Δ</text><text font-size="29.5" x="294.01" y="239.05" fill="#000" xml:space="preserve">:</text>
<text font-size="29.5" x="292.18" y="271.3" fill="#ab5c10" xml:space="preserve">6.2</text>
<text font-size="29.5" x="292.18" y="303.55" fill="#2bb030" xml:space="preserve">5.6</text>
<text font-size="29.5" x="292.18" y="335.8" fill="#2e2ab2" xml:space="preserve">5.3</text>
<text font-size="29.5" x="292.18" y="368.05" fill="#800080" xml:space="preserve">7.3</text>
<text font-size="29.5" x="492.04" y="77.8" fill="#000" xml:space="preserve">min</text><text font-size="24.6" font-family="'Liberation Serif',serif" font-style="italic" transform="translate(548.57,77.8) scale(1.27,1)" fill="#000" xml:space="preserve">σ</text><text font-size="29.5" x="566.71" y="77.8" fill="#000" xml:space="preserve">:</text>
<text font-size="29.5" x="556.48" y="110.05" fill="#ab5c10" xml:space="preserve">9.4</text>
<text font-size="29.5" x="556.48" y="142.3" fill="#2bb030" xml:space="preserve">8.6</text>
<text font-size="29.5" x="556.48" y="174.55" fill="#2e2ab2" xml:space="preserve">6.9</text>
<text font-size="29.5" x="556.48" y="206.8" fill="#800080" xml:space="preserve">3.9</text>
<text font-size="29.5" x="466.84" y="239.05" fill="#000" xml:space="preserve">median</text><text font-size="24.6" font-family="'Liberation Serif',serif" font-style="italic" transform="translate(572.07,239.05) scale(1.27,1)" fill="#000" xml:space="preserve">σ</text><text font-size="29.5" x="590.21" y="239.05" fill="#000" xml:space="preserve">:</text>
<text font-size="29.5" x="556.48" y="271.3" fill="#ab5c10" xml:space="preserve">9.5</text>
<text font-size="29.5" x="556.48" y="303.55" fill="#2bb030" xml:space="preserve">9.0</text>
<text font-size="29.5" x="556.48" y="335.8" fill="#2e2ab2" xml:space="preserve">9.4</text>
<text font-size="29.5" x="556.48" y="368.05" fill="#800080" xml:space="preserve">6.3</text>
<text font-size="29.5" x="646.63" y="77.8" fill="#000" xml:space="preserve">in- / outside 1</text><text font-size="24.6" font-family="'Liberation Serif',serif" font-style="italic" transform="translate(824.07,77.8) scale(1.27,1)" fill="#000" xml:space="preserve">σ</text><text font-size="29.5" x="842.01" y="77.8" fill="#000" xml:space="preserve">:</text>
<text font-size="29.5" x="685.36" y="110.05" fill="#ab5c10" xml:space="preserve">93.0 /  7.0 %</text>
<text font-size="29.5" x="685.36" y="142.3" fill="#2bb030" xml:space="preserve">97.6 /  2.4 %</text>
<text font-size="29.5" x="685.36" y="174.55" fill="#2e2ab2" xml:space="preserve">98.1 /  1.9 %</text>
<text font-size="29.5" x="677.14" y="206.8" fill="#800080" xml:space="preserve">82.7 / 17.3 %</text>
<use href="#wm"/>
<path d="M643.1 273.1L662 273.3L683.1 273.3L704.1 273.1L707.6 272.6L709.7 270.3M703.4 253.9L699.2 254.6L695.7 256.6L692.9 260.5L690.8 264.7L688.9 269.6L688 273.1L687 278.8L686.6 284.4L686.7 290L687 295.6L687.4 301.2L688 306.8L688.7 312.4L689.8 318L691.2 323.6L692.9 329.2L695 333.1L697.1 336.2L699.9 339.3L702.7 341.8M676.1 294.2L675.8 299.1L675.8 304L676.2 308.2L676.8 312.4L677.3 316.6L678.2 320.8L679.7 325.3L681.7 329.2L684.2 332.7L687.3 336.2L689.4 338.7L691.5 341.1M713.6 278.8L713.3 283.7L713.2 288.6L713.3 293.5L713.6 298.4L715.3 300.5L716.7 302.3L717.5 306.1L718.1 309.6L718.9 313.8L719.8 318L720.6 323.6L721.6 329.2L722.6 333.4L723.7 337.6L725.1 340.4L726.8 342.5L729.3 341.8M656.7 317.6L676.1 317.7L697.1 317.8L718.1 317.8L737 318M650.8 280.9L650.4 283.4L650.1 285.8L649.4 288.6L648.7 291.4L647.9 293.9L647 296.3M748.2 255.6L749.6 253.5L751.7 251.8L755.2 251.4L758 251.8L760.6 253.5L762.7 256.6L764.3 260.5L766 264.7L767.1 268.9L766.7 273.1L765.7 277.3L764.8 281.6L764.3 285.8L765.3 290.7L766.4 295.6L767 301.2L767.1 306.8L767.3 312.4L767.1 318L766 321.9L764.3 325L762.2 328.1L760.1 330.6L758.7 332.7L758 334.5L759.2 336.2L760.1 337.2M765.7 251.4L766.9 255.2L767.8 259.1L769.1 261.7L770.6 264L772.5 265.6L774.1 266.4M838.3 281.6L837.2 284.4L836.5 287.2L838.9 290L841.4 292.8L842.8 297L843.5 301.2L843.4 305.4L842.8 309.6L841.7 313.8L840 318L837.5 322.5L834.4 326.4L831.2 329.3L827.4 332L823.2 334.5L819 336.9L814.8 339M838.6 281.6L839.7 284.4L840.3 287.2M788.9 341.1L795.2 340L802.2 339L809.2 338.6L816.2 338.3L825.3 337.9L834.4 337.6M656.7 338.3L662.7 338.4L669 338.7L674 339L678.9 339.3L681 338.7L681.7 337.6L680.3 335.5L678.2 334.1M687.3 340.1L690.1 340.8L692.9 341.1L696.4 340.7L699.2 341.5L702.7 341.8M696.4 238.8L697.1 241.2L697.8 243.7L698.8 241.6L699.9 239.5L700.6 241.6L701.3 243.7L704.1 241.2L706.9 239.5L709.7 238.8L713.9 237.4M684.5 251.4L686.6 250L689.4 249.3M776 235.7L776.7 235.7M796.1 235.7L796.8 235.7M734.6 274.8L736 275.7L738.4 276.1L746.1 276.1L760.1 276.1L770.4 276.1" fill="none" stroke="#0000ff" stroke-width="3" stroke-linejoin="round" stroke-linecap="round"/>
<text font-size="29.5" x="646.38" y="388.4" fill="#262626" xml:space="preserve">1885 locations;</text>
<text font-size="29.5" x="644.93" y="420.5" fill="#262626" xml:space="preserve">39447 samples</text>
</g>
<g transform="translate(917.7,496)">
<path d="M195.5 385.6V53.2" stroke="#000" stroke-width="2.2" stroke-dasharray="28.5 18.5" fill="none"/>
<clipPath id="cCT1"><rect x="47.9" y="53.2" width="295.5" height="334.4"/></clipPath>
<g clip-path="url(#cCT1)">
<path d="M44.9 381.6V381.6H49.2V380.7H53.4V379.9H57.5V379.1H61.6V378.3H65.7V377.5H69.8V376.6H74V375.8H78.1V375.1H82.2V374.7H86.3V373.7H90.4V371H94.6V370.1H98.7V369.2H102.8V367.1H106.9V360H111V359.6H115.2V358H119.3V354.1H123.4V353.5H127.5V347.4H131.6V346H135.8V339H139.9V333.2H144V329.1H148.1V327.4H152.2V307.4H156.4V301.4H160.5V295.7H164.6V287.2H168.7V278.3H172.8V276.7H177V271.9H181.1V265.3H185.2V262.7H189.3V262.8H193.4V258.7H197.6V267.5H201.7V272.9H205.8V277.9H209.9V282.8H214V289.1H218.2V295.1H222.3V302.8H226.4V310.5H230.5V319.2H234.6V327.9H238.8V334.5H242.9V338.6H247V342.7H251.1V348.7H255.2V354.3H259.4V358.4H263.5V362.6H267.6V364.6H271.7V365.4H275.8V365.9H280V370.4H284.1V372H288.2V372.9H292.3V373.7H296.4V374.3H300.6V373.9H304.7V374.3H308.8V377.1H312.9V377.5H317V377.8H321.2V378.1H325.3V378.3H329.4V378.5H333.5V378H337.6V378.6H341.8V380.4H346.4" fill="none" stroke="#ab5c10" stroke-width="2.9" stroke-linejoin="miter"/>
<path d="M44.9 382.2V382.2H49.2V381.7H53.4V381.1H57.5V380.6H61.6V380H65.7V379.1H69.8V378.3H74V377.5H78.1V376.7H82.2V375.8H86.3V375H90.4V374.2H94.6V373.2H98.7V371.7H102.8V370.1H106.9V368.6H111V366.5H115.2V364.5H119.3V362.8H123.4V361.2H127.5V356.9H131.6V352.3H135.8V347.7H139.9V342.9H144V337.6H148.1V330.6H152.2V318.6H156.4V305.8H160.5V292.7H164.6V279.2H168.7V267.4H172.8V249H177V229.7H181.1V221.9H185.2V216.3H189.3V211.8H193.4V209.4H197.6V218.4H201.7V221.9H205.8V233.9H209.9V254.9H214V272.3H218.2V286H222.3V300.5H226.4V316.7H230.5V330.6H234.6V340.1H238.8V350.2H242.9V356.7H247V361.2H251.1V365.3H255.2V369.4H259.4V370.7H263.5V373.1H267.6V375.5H271.7V377H275.8V378.2H280V379H284.1V379.7H288.2V380.4H292.3V381H296.4V381.5H300.6V381.9H304.7V382.2H308.8V382.5H312.9V382.8H317V382.9H321.2V383H325.3V383.1H329.4V383.3H333.5V383.4H337.6V383.5H341.8V383.6H346.4" fill="none" stroke="#2bb030" stroke-width="2.9" stroke-linejoin="miter"/>
<path d="M44.9 383.6V383.6H49.2V383.5H53.4V383.3H57.5V383.2H61.6V383.1H65.7V382.9H69.8V382.7H74V382.6H78.1V382.3H82.2V381.9H86.3V381.5H90.4V381.1H94.6V380H98.7V379H102.8V378H106.9V377H111V375.8H115.2V373.7H119.3V371.7H123.4V369.6H127.5V368.3H131.6V367H135.8V360.6H139.9V355.1H144V351H148.1V346.4H152.2V339.6H156.4V332.7H160.5V322.6H164.6V309.9H168.7V298.9H172.8V280.6H177V262.6H181.1V244.8H185.2V228.9H189.3V212H193.4V201.7H197.6V202.4H201.7V207.5H205.8V213.5H209.9V230.6H214V246.1H218.2V258.5H222.3V279.9H226.4V296.5H230.5V307.4H234.6V325.9H238.8V333.4H242.9V343H247V351.4H251.1V358.2H255.2V362.7H259.4V366.2H263.5V369H267.6V371.4H271.7V373.2H275.8V374.6H280V376.1H284.1V377.5H288.2V378.8H292.3V379.8H296.4V380.6H300.6V381.2H304.7V381.5H308.8V381.7H312.9V382H317V382.2H321.2V382.4H325.3V382.6H329.4V382.8H333.5V382.9H337.6V383H341.8V383.1H346.4" fill="none" stroke="#2e2ab2" stroke-width="2.9" stroke-linejoin="miter"/>
</g>
<clipPath id="cCT2"><rect x="359.8" y="53.2" width="246.1" height="334.4"/></clipPath>
<g clip-path="url(#cCT2)">
<path d="M359.8 385.6H474.4V216.1H476.8V43.1H481.4V274H483.7V348.4H486.1V385.6H605.9" fill="none" stroke="#ab5c10" stroke-width="2.9" stroke-linejoin="miter"/>
<path d="M359.8 385.6H414V378.7H416.2V189.3H419.2V109.7H420.7V164.2H423.5V232.5H425.6V276.6H427.8V312.9H430.4V335.4H432.5V351H434.7V359.6H437.3V364.8H439.9V369.2H443.4V372.6H446.8V375.2H451.2V376.1H458.1V373.5H465V376.9H471.9V379.5H478.9V381.8H485.8V383H497.9V383.9H510V385.6H605.9" fill="none" stroke="#2bb030" stroke-width="2.9" stroke-linejoin="miter"/>
<path d="M359.8 385.6H376.8V382.1H379.4V376.9H382V372.6H384.6V368.3H387.2V363.1H389.8V358.8H392.4V354.5H395V351.9H397.5V348.4H400.1V346.7H402.7V344.1H405.3V344.9H407.9V342.3H410.5V338.9H414V338H417.4V337.2H420.9V338.9H423.5V339.8H427V338.9H431.3V341.5H433.9V344.1H436.5V346.7H439.1V349.3H441.7V352.7H444.3V355.3H446.8V357.9H449.4V359.6H452V361.4H454.6V363.1H458.1V364.8H461.6V365.7H465.9V366.6H469.3V369.2H471.9V373.5H474.5V375.2H477.1V376.9H482.3V378.7H489.2V380.4H497.9V381.8H510V381.3H527.3V382.5H544.6V383H579.2V383.5H605.7V385.6H605.9" fill="none" stroke="#2e2ab2" stroke-width="2.9" stroke-linejoin="miter"/>
</g>
<rect x="47.9" y="53.2" width="295.5" height="332.4" fill="none" stroke="#262626" stroke-width="1.75"/>
<rect x="359.8" y="53.2" width="246.1" height="332.4" fill="none" stroke="#262626" stroke-width="1.75"/>
<path d="M113 385.6v-3.6M113 53.2v3.6M195.5 385.6v-3.6M195.5 53.2v3.6M277.8 385.6v-3.6M277.8 53.2v3.6M359.8 385.6v-3.6M359.8 53.2v3.6M404.5 385.6v-3.6M404.5 53.2v3.6M449.1 385.6v-3.6M449.1 53.2v3.6M493.7 385.6v-3.6M493.7 53.2v3.6M538.5 385.6v-3.6M538.5 53.2v3.6M583.5 385.6v-3.6M583.5 53.2v3.6" stroke="#262626" stroke-width="1.6" fill="none"/>
<text font-size="29.5" x="91.68" y="420.5" fill="#262626" xml:space="preserve">-10</text>
<text font-size="29.5" x="187.29" y="420.5" fill="#262626" xml:space="preserve">0</text>
<text font-size="29.5" x="261.39" y="420.5" fill="#262626" xml:space="preserve">10</text>
<text font-size="29.5" x="351.59" y="420.5" fill="#262626" xml:space="preserve">6</text>
<text font-size="29.5" x="396.29" y="420.5" fill="#262626" xml:space="preserve">8</text>
<text font-size="29.5" x="432.69" y="420.5" fill="#262626" xml:space="preserve">10</text>
<text font-size="29.5" x="477.29" y="420.5" fill="#262626" xml:space="preserve">12</text>
<text font-size="29.5" x="522.09" y="420.5" fill="#262626" xml:space="preserve">14</text>
<text font-size="29.5" x="567.09" y="420.5" fill="#262626" xml:space="preserve">16</text>
<text transform="translate(27.3,221) rotate(-90) scale(1,1.05)" text-anchor="middle" font-size="29.5" fill="#262626">N</text>
<text font-size="28" font-family="'DejaVu Sans','Liberation Sans',sans-serif" font-weight="200" transform="translate(88.98,467.3) scale(1.2,1)" fill="#262626" xml:space="preserve">Δ</text><text font-size="29.1" transform="translate(114.97,467.3) scale(1,1.05)" fill="#262626" xml:space="preserve">C</text><text font-size="23" transform="translate(136.79,482.4) scale(1,1.05)" fill="#262626" xml:space="preserve">T</text><text font-size="29.1" x="152.85" y="467.3" fill="#262626" xml:space="preserve"> / </text><text font-size="27.4" font-family="'Liberation Serif',serif" font-style="italic" transform="translate(180.1,467.3) scale(1.24,1)" fill="#262626" xml:space="preserve">μ</text><text font-size="29.1" x="199.85" y="467.3" fill="#262626" xml:space="preserve">mol kg</text><text font-size="23" x="286.55" y="453" fill="#262626" xml:space="preserve">-1</text>
<text font-size="24.6" font-family="'Liberation Serif',serif" font-style="italic" transform="translate(371.07,467.3) scale(1.27,1)" fill="#262626" xml:space="preserve">σ</text><text font-size="29.1" transform="translate(386.49,467.3) scale(1,1.05)" fill="#262626" xml:space="preserve"> C</text><text font-size="23" transform="translate(416.38,482.4) scale(1,1.05)" fill="#262626" xml:space="preserve">T</text><text font-size="29.1" x="432.44" y="467.3" fill="#262626" xml:space="preserve"> / </text><text font-size="27.4" font-family="'Liberation Serif',serif" font-style="italic" transform="translate(459.69,467.3) scale(1.24,1)" fill="#262626" xml:space="preserve">μ</text><text font-size="29.1" x="479.44" y="467.3" fill="#262626" xml:space="preserve">mol kg</text><text font-size="23" x="566.15" y="453" fill="#262626" xml:space="preserve">-1</text>
<text font-size="29.35" transform="translate(158.51,31.2) scale(1,1.05)" fill="#000000" xml:space="preserve">C</text><text font-size="23" transform="translate(180.51,46.3) scale(1,1.05)" fill="#000000" xml:space="preserve">T</text><text font-size="29.35" transform="translate(195.48,31.2) scale(1,1.009)" fill="#000000" xml:space="preserve"> post-GLODAPv2 cruises</text>
<text font-size="29.5" x="671.49" y="28" fill="#000" xml:space="preserve">ratio</text><text font-size="28" font-family="'DejaVu Sans','Liberation Sans',sans-serif" font-weight="200" transform="translate(739.68,28) scale(1.2,1)" fill="#000" xml:space="preserve">Δ</text><text font-size="29.5" x="773.41" y="28" fill="#000" xml:space="preserve">:</text><text font-size="24.6" font-family="'Liberation Serif',serif" font-style="italic" transform="translate(791.77,28) scale(1.27,1)" fill="#000" xml:space="preserve">σ</text>
<text font-size="29.5" x="216.54" y="77.8" fill="#000" xml:space="preserve">mean</text><text font-size="28" font-family="'DejaVu Sans','Liberation Sans',sans-serif" font-weight="200" transform="translate(300.18,77.8) scale(1.2,1)" fill="#000" xml:space="preserve">Δ</text><text font-size="29.5" x="326.81" y="77.8" fill="#000" xml:space="preserve">:</text>
<text font-size="29.5" transform="translate(55.6,110.05) scale(1,1.05)" fill="#ab5c10" xml:space="preserve">CANYON</text>
<text font-size="29.5" x="282.36" y="110.05" fill="#ab5c10" xml:space="preserve">-0.2</text>
<text font-size="29.5" transform="translate(55.6,142.3) scale(1,1.05)" fill="#2bb030" xml:space="preserve">CANYON-B</text>
<text font-size="29.5" x="282.36" y="142.3" fill="#2bb030" xml:space="preserve">-0.9</text>
<text font-size="29.5" transform="translate(55.6,174.55) scale(1,1.05)" fill="#2e2ab2" xml:space="preserve">CONTENT</text>
<text font-size="29.5" x="274.95" y="174.55" fill="#2e2ab2" xml:space="preserve">+0.5</text>
<text font-size="29.5" x="217.48" y="206.8" fill="#000" xml:space="preserve">std</text><text font-size="28" font-family="'DejaVu Sans','Liberation Sans',sans-serif" font-weight="200" transform="translate(267.88,206.8) scale(1.2,1)" fill="#000" xml:space="preserve">Δ</text><text font-size="29.5" x="294.01" y="206.8" fill="#000" xml:space="preserve">:</text>
<text font-size="29.5" x="292.18" y="239.05" fill="#ab5c10" xml:space="preserve">8.1</text>
<text font-size="29.5" x="292.18" y="271.3" fill="#2bb030" xml:space="preserve">6.2</text>
<text font-size="29.5" x="292.18" y="303.55" fill="#2e2ab2" xml:space="preserve">5.6</text>
<text font-size="29.5" x="492.04" y="77.8" fill="#000" xml:space="preserve">min</text><text font-size="24.6" font-family="'Liberation Serif',serif" font-style="italic" transform="translate(548.57,77.8) scale(1.27,1)" fill="#000" xml:space="preserve">σ</text><text font-size="29.5" x="566.71" y="77.8" fill="#000" xml:space="preserve">:</text>
<text font-size="29.5" x="542.27" y="110.05" fill="#ab5c10" xml:space="preserve">11.2</text>
<text font-size="29.5" x="556.48" y="142.3" fill="#2bb030" xml:space="preserve">8.5</text>
<text font-size="29.5" x="556.48" y="174.55" fill="#2e2ab2" xml:space="preserve">6.8</text>
<text font-size="29.5" x="466.84" y="206.8" fill="#000" xml:space="preserve">median</text><text font-size="24.6" font-family="'Liberation Serif',serif" font-style="italic" transform="translate(572.07,206.8) scale(1.27,1)" fill="#000" xml:space="preserve">σ</text><text font-size="29.5" x="590.21" y="206.8" fill="#000" xml:space="preserve">:</text>
<text font-size="29.5" x="542.27" y="239.05" fill="#ab5c10" xml:space="preserve">11.3</text>
<text font-size="29.5" x="556.48" y="271.3" fill="#2bb030" xml:space="preserve">8.9</text>
<text font-size="29.5" x="556.48" y="303.55" fill="#2e2ab2" xml:space="preserve">9.2</text>
<text font-size="29.5" x="646.63" y="77.8" fill="#000" xml:space="preserve">in- / outside 1</text><text font-size="24.6" font-family="'Liberation Serif',serif" font-style="italic" transform="translate(824.07,77.8) scale(1.27,1)" fill="#000" xml:space="preserve">σ</text><text font-size="29.5" x="842.01" y="77.8" fill="#000" xml:space="preserve">:</text>
<text font-size="29.5" x="677.14" y="110.05" fill="#ab5c10" xml:space="preserve">89.4 / 10.6 %</text>
<text font-size="29.5" x="685.36" y="142.3" fill="#2bb030" xml:space="preserve">95.1 /  4.9 %</text>
<text font-size="29.5" x="685.36" y="174.55" fill="#2e2ab2" xml:space="preserve">95.8 /  4.2 %</text>
<use href="#wm"/>
<path d="M643.1 273.1L662 273.3L683.1 273.3L704.1 273.1L707.6 272.6L709.7 270.3M703.4 253.9L699.2 254.6L695.7 256.6L692.9 260.5L690.8 264.7L688.9 269.6L688 273.1L687 278.8L686.6 284.4L686.7 290L687 295.6L687.4 301.2L688 306.8L688.7 312.4L689.8 318L691.2 323.6L692.9 329.2L695 333.1L697.1 336.2L699.9 339.3L702.7 341.8M713.6 278.8L713.3 283.7L713.2 288.6L713.3 293.5L713.6 298.4L715.3 300.5L716.7 302.3L717.5 306.1L718.1 309.6L718.9 313.8L719.8 318L720.6 323.6L721.6 329.2L722.6 333.4L723.7 337.6L725.1 340.4L726.8 342.5L729.3 341.8M656.7 317.6L676.1 317.7L697.1 317.8L718.1 317.8L737 318M838.3 281.6L837.2 284.4L836.5 287.2L838.9 290L841.4 292.8L842.8 297L843.5 301.2L843.4 305.4L842.8 309.6L841.7 313.8L840 318L837.5 322.5L834.4 326.4L831.2 329.3L827.4 332L823.2 334.5L819 336.9L814.8 339M838.6 281.6L839.7 284.4L840.3 287.2M788.9 341.1L795.2 340L802.2 339L809.2 338.6L816.2 338.3L825.3 337.9L834.4 337.6M656.7 338.3L662.7 338.4L669 338.7L674 339L678.9 339.3L681 338.7L681.7 337.6L680.3 335.5L678.2 334.1M687.3 340.1L690.1 340.8L692.9 341.1L696.4 340.7L699.2 341.5L702.7 341.8M696.4 238.8L697.1 241.2L697.8 243.7L698.8 241.6L699.9 239.5L700.6 241.6L701.3 243.7L704.1 241.2L706.9 239.5L709.7 238.8L713.9 237.4M684.5 251.4L686.6 250L689.4 249.3M776 235.7L776.7 235.7M796.1 235.7L796.8 235.7M676.1 294.2L675.8 299.1L675.8 304L676.2 308.2L676.8 312.4L677.3 316.6L678.2 320.8L679.7 325.3L681.7 329.2L684.2 332.7L687.3 336.2L689.4 338.7L691.5 341.1M764.3 250.7L765.2 253.5L766 257L767.1 260.5L768 264L768.5 267.5L766.9 273.1L764.3 278.8L764.1 283L764.3 287.2L765.7 291.4L767.1 295.6L767.6 302.6L767.6 309.6L766.4 315.2L765 320.8L762.9 324.3L760.8 327.8L758.7 330.9L757.3 333.4L758.5 335.5L759.4 336.9M747.5 255.2L748.9 253.2L750.3 251.4M650.8 280.9L650.4 283.4L650.1 285.8L649.4 288.6L648.7 291.4L647.9 293.9L647 296.3M734.2 274.8L736 275.4L738.4 275.7L746.1 275.8L760.1 275.9L767.1 275.9L770.6 275.7" fill="none" stroke="#0000ff" stroke-width="3" stroke-linejoin="round" stroke-linecap="round"/>
<text font-size="29.5" x="646.38" y="388.4" fill="#262626" xml:space="preserve">1840 locations;</text>
<text font-size="29.5" x="644.93" y="420.5" fill="#262626" xml:space="preserve">39248 samples</text>
</g>
<g transform="translate(917.7,992)">
<path d="M170.1 385.6V53.2" stroke="#000" stroke-width="1.4" stroke-dasharray="28.5 18.5" fill="none"/>
<clipPath id="cpH1"><rect x="47.9" y="53.2" width="295.5" height="334.4"/></clipPath>
<g clip-path="url(#cpH1)">
<path d="M44.9 384.1V384.1H49V384.1H52.6V384H56.2V383.9H59.8V383.9H63.5V383.8H67.1V383.8H70.7V383.7H74.3V383.7H77.9V383.4H81.5V382.3H85.1V381.1H88.8V380H92.4V377.6H96V374H99.6V370.4H103.2V367.6H106.8V364.5H110.5V359.7H114.1V354.8H117.7V350.6H121.3V346.1H124.9V336.5H128.5V333.7H132.1V335.5H135.8V330.5H139.4V327H143V326.3H146.6V323.9H150.2V321.9H153.8V321.6H157.4V325.2H161.1V312.7H164.7V317.3H168.3V320.2H171.9V308H175.5V311.2H179.1V314.4H182.8V311.1H186.4V310.3H190V307.2H193.6V298.9H197.2V290.6H200.8V286.9H204.4V292.3H208.1V296H211.7V290H215.3V286.6H218.9V285.9H222.5V284.4H226.1V288.7H229.7V288.5H233.4V285.2H237V279.7H240.6V290.5H244.2V305.7H247.8V321.3H251.4V340.8H255.1V350.2H258.7V357H262.3V362.4H265.9V367.5H269.5V372H273.1V372.6H276.7V375.1H280.4V377.4H284V378.6H287.6V379H291.2V379H294.8V377.3H298.4V379.1H302V380.2H305.7V381.1H309.3V382H312.9V382.8H316.5V383H320.1V383.2H323.7V383.3H327.4V383.5H331V383.7H334.6V383.8H338.2V383.9H341.8V384.1H346.4" fill="none" stroke="#ab5c10" stroke-width="2.9" stroke-linejoin="miter"/>
<path d="M44.9 384.1V384.1H49V384.1H52.6V384H56.2V383.9H59.8V383.9H63.5V383.8H67.1V383.8H70.7V383.7H74.3V383.7H77.9V383.4H81.5V382.5H85.1V381.6H88.8V380.7H92.4V379.8H96V379H99.6V378.3H103.2V375.6H106.8V366.9H110.5V358H114.1V344.3H117.7V332.7H121.3V323.5H124.9V315H128.5V306.7H132.1V294.7H135.8V278.5H139.4V278.5H143V275.6H146.6V271.7H150.2V264.3H153.8V253.6H157.4V248.8H161.1V246.1H164.7V241.3H168.3V237.7H171.9V238.9H175.5V228H179.1V230.6H182.8V247.8H186.4V264.5H190V272.8H193.6V283.7H197.2V295H200.8V304.5H204.4V320.2H208.1V333.2H211.7V340.8H215.3V349.1H218.9V354.7H222.5V358.9H226.1V364.9H229.7V367.9H233.4V370.9H237V374.4H240.6V376.2H244.2V377.5H247.8V378.4H251.4V379.6H255.1V381H258.7V381.5H262.3V382H265.9V382.5H269.5V382.7H273.1V382.9H276.7V383.2H280.4V383.3H284V383.4H287.6V383.4H291.2V383.5H294.8V383.5H298.4V383.5H302V383.6H305.7V383.6H309.3V383.7H312.9V383.7H316.5V383.8H320.1V383.8H323.7V383.9H327.4V383.9H331V384H334.6V384H338.2V384.1H341.8V384.1H346.4" fill="none" stroke="#2bb030" stroke-width="2.9" stroke-linejoin="miter"/>
<path d="M44.9 384.1V384.1H49V384.1H52.6V384H56.2V383.9H59.8V383.9H63.5V383.8H67.1V383.8H70.7V383.7H74.3V383.7H77.9V383.6H81.5V383.5H85.1V383.4H88.8V383.2H92.4V383.1H96V383H99.6V382.9H103.2V382.2H106.8V379.8H110.5V377.9H114.1V375.8H117.7V373.3H121.3V369.1H124.9V363.8H128.5V356.6H132.1V342.4H135.8V322.2H139.4V307.3H143V289.5H146.6V273.9H150.2V276.8H153.8V271.9H157.4V251.4H161.1V230.5H164.7V214.6H168.3V208.5H171.9V205.6H175.5V207.1H179.1V210.3H182.8V229H186.4V224H190V245.8H193.6V263.2H197.2V286.9H200.8V301H204.4V307.9H208.1V313.4H211.7V322.3H215.3V336.1H218.9V341.1H222.5V344.9H226.1V358H229.7V362.9H233.4V365.3H237V367.7H240.6V368.3H244.2V371.2H247.8V374.7H251.4V375.9H255.1V377.2H258.7V378.6H262.3V379.9H265.9V381.2H269.5V381.6H273.1V382.1H276.7V382.5H280.4V382.9H284V383H287.6V383.2H291.2V383.4H294.8V383.6H298.4V383.7H302V383.7H305.7V383.7H309.3V383.8H312.9V383.8H316.5V383.8H320.1V383.9H323.7V383.9H327.4V384H331V384H334.6V384H338.2V384.1H341.8V384.1H346.4" fill="none" stroke="#2e2ab2" stroke-width="2.9" stroke-linejoin="miter"/>
<path d="M44.9 382.8V382.8H49V382.7H52.6V382.6H56.2V382.5H59.8V382.5H63.5V382.3H67.1V382H70.7V381.8H74.3V381.6H77.9V381.2H81.5V379.9H85.1V378.7H88.8V376.4H92.4V372.5H96V366.6H99.6V356.5H103.2V353.8H106.8V347.3H110.5V339H114.1V330H117.7V327H121.3V312.8H124.9V304.1H128.5V314.9H132.1V311.9H135.8V290.1H139.4V262H143V251.8H146.6V240H150.2V224H153.8V228.6H157.4V238H161.1V230.2H164.7V247.9H168.3V258.5H171.9V259.9H175.5V273.6H179.1V283.6H182.8V292.2H186.4V303.5H190V315.2H193.6V321.4H197.2V325.8H200.8V330.4H204.4V337.4H208.1V346.5H211.7V350.9H215.3V354.5H218.9V357H222.5V358.5H226.1V359.1H229.7V363.2H233.4V366.5H237V367.8H240.6V371.4H244.2V374.2H247.8V375.9H251.4V375.2H255.1V374.4H258.7V377.1H262.3V378.4H265.9V377.9H269.5V378.7H273.1V380.1H276.7V381H280.4V380.8H284V380.5H287.6V380.3H291.2V381H294.8V381.8H298.4V382.1H302V382.3H305.7V382.4H309.3V382.6H312.9V382.8H316.5V382.6H320.1V382.4H323.7V382.2H327.4V382H331V382H334.6V382.3H338.2V382.5H341.8V382.7H346.4" fill="none" stroke="#800080" stroke-width="2.9" stroke-linejoin="miter"/>
</g>
<clipPath id="cpH2"><rect x="359.8" y="53.2" width="246.1" height="334.4"/></clipPath>
<g clip-path="url(#cpH2)">
<path d="M359.8 385.6H475V216.1H478.2V43.1H480.2V193.6H482.8V347.5H486.1V383.9H488.4V385.6H605.9" fill="none" stroke="#ab5c10" stroke-width="2.9" stroke-linejoin="miter"/>
<path d="M359.8 385.6H423.5V252.4H426.1V131.3H429.4V73.4H430.8V178.9H433.9V277.5H436V300.8H439.1V326.8H441.3V333.7H443.9V354.5H446V361.4H448.6V366.6H451.2V370H454.6V374.4H458.1V377.8H461.6V380.4H465.9V382.1H471.9V383.5H484V384.2H496.1V385.6H605.9" fill="none" stroke="#2bb030" stroke-width="2.9" stroke-linejoin="miter"/>
<path d="M359.8 385.6H388.9V383.9H391.5V382.1H395.8V378.7H398.4V375.2H401V371.8H404.5V370H407.9V367.4H411.4V364.8H414V357.9H416.6V352.7H419.2V344.1H422.1V345.8H424.9V335.4H428.7V342.3H431.8V338H435.6V339.8H439.1V343.2H442.5V344.1H446.8V342.3H450.3V340.6H452.9V338H455.5V334.6H459.8V336.3H464.1V340.6H466.7V344.1H469.3V348.4H471.9V352.7H474.5V357.1H477.1V360.5H479.7V363.1H483.2V365.7H486.6V368.3H491V370H494.4V372.6H497.9V375.2H501.3V376.9H506.5V377.8H510V379.5H516.9V380.8H523.8V381.8H534.2V382.5H544.6V383.5H561.9V384.2H587.8V385.6H605.9" fill="none" stroke="#2e2ab2" stroke-width="2.9" stroke-linejoin="miter"/>
<path d="M359.8 385.6H374.7V359.6H377.1V373.5H380.2V370.9H382.8V366.6H385.4V361.4H388.9V357.1H391.5V355.3H395V351H397.5V347.5H401V346.7H404.1V361.4H406.2V363.1H410.5V366.6H414V368.3H417.4V363.1H420V360.5H423.5V361.4H427V364H430.4V362.2H433.9V359.6H437.3V357.1H440.8V354.5H444.3V344.1H447.7V345.8H451.2V344.9H453.2V190.1H456.2V159H457.7V271.4H460.7V334.6H463.6V361.4H465.9V381.3H467.6V385.6H605.9" fill="none" stroke="#800080" stroke-width="2.9" stroke-linejoin="miter"/>
</g>
<rect x="47.9" y="53.2" width="295.5" height="332.4" fill="none" stroke="#262626" stroke-width="1.75"/>
<rect x="359.8" y="53.2" width="246.1" height="332.4" fill="none" stroke="#262626" stroke-width="1.75"/>
<path d="M97.8 385.6v-3.6M97.8 53.2v3.6M170.1 385.6v-3.6M170.1 53.2v3.6M242.4 385.6v-3.6M242.4 53.2v3.6M314.7 385.6v-3.6M314.7 53.2v3.6M452.4 385.6v-3.6M452.4 53.2v3.6M575.2 385.6v-3.6M575.2 53.2v3.6" stroke="#262626" stroke-width="1.6" fill="none"/>
<text font-size="29.5" x="64.17" y="420.5" fill="#262626" xml:space="preserve">-0.02</text>
<text font-size="29.5" x="161.89" y="420.5" fill="#262626" xml:space="preserve">0</text>
<text font-size="29.5" x="213.69" y="420.5" fill="#262626" xml:space="preserve">0.02</text>
<text font-size="29.5" x="285.99" y="420.5" fill="#262626" xml:space="preserve">0.04</text>
<text font-size="29.5" x="423.69" y="420.5" fill="#262626" xml:space="preserve">0.02</text>
<text font-size="29.5" x="546.49" y="420.5" fill="#262626" xml:space="preserve">0.03</text>
<text transform="translate(27.3,221) rotate(-90) scale(1,1.05)" text-anchor="middle" font-size="29.5" fill="#262626">N</text>
<text font-size="28" font-family="'DejaVu Sans','Liberation Sans',sans-serif" font-weight="200" transform="translate(132.98,467.3) scale(1.2,1)" fill="#262626" xml:space="preserve">Δ</text><text font-size="29.1" transform="translate(158.97,467.3) scale(1,1.015)" fill="#262626" xml:space="preserve">pH</text><text font-size="23" x="197.77" y="482.4" fill="#262626" xml:space="preserve">in-situ</text>
<text font-size="24.6" font-family="'Liberation Serif',serif" font-style="italic" transform="translate(414.07,467.3) scale(1.27,1)" fill="#262626" xml:space="preserve">σ</text><text font-size="29.1" transform="translate(429.49,467.3) scale(1,1.015)" fill="#262626" xml:space="preserve"> pH</text><text font-size="23" x="476.37" y="482.4" fill="#262626" xml:space="preserve">in-situ</text>
<text font-size="29.35" transform="translate(64.61,31.2) scale(1,1.015)" fill="#000000" xml:space="preserve">pH</text><text font-size="23" x="103.72" y="46.3" fill="#000000" xml:space="preserve">in-situ</text><text font-size="29.35" transform="translate(165.98,31.2) scale(1,1.001)" fill="#000000" xml:space="preserve"> post-Carter et al. 2017 cruises</text>
<text font-size="29.5" x="671.49" y="28" fill="#000" xml:space="preserve">ratio</text><text font-size="28" font-family="'DejaVu Sans','Liberation Sans',sans-serif" font-weight="200" transform="translate(739.68,28) scale(1.2,1)" fill="#000" xml:space="preserve">Δ</text><text font-size="29.5" x="773.41" y="28" fill="#000" xml:space="preserve">:</text><text font-size="24.6" font-family="'Liberation Serif',serif" font-style="italic" transform="translate(791.77,28) scale(1.27,1)" fill="#000" xml:space="preserve">σ</text>
<text font-size="29.5" x="216.54" y="77.8" fill="#000" xml:space="preserve">mean</text><text font-size="28" font-family="'DejaVu Sans','Liberation Sans',sans-serif" font-weight="200" transform="translate(300.18,77.8) scale(1.2,1)" fill="#000" xml:space="preserve">Δ</text><text font-size="29.5" x="326.81" y="77.8" fill="#000" xml:space="preserve">:</text>
<text font-size="29.5" transform="translate(55.6,110.05) scale(1,1.05)" fill="#ab5c10" xml:space="preserve">CANYON</text>
<text font-size="29.5" x="242.14" y="110.05" fill="#ab5c10" xml:space="preserve">+0.008</text>
<text font-size="29.5" transform="translate(55.6,142.3) scale(1,1.05)" fill="#2bb030" xml:space="preserve">CANYON-B</text>
<text font-size="29.5" x="242.14" y="142.3" fill="#2bb030" xml:space="preserve">+0.000</text>
<text font-size="29.5" transform="translate(55.6,174.55) scale(1,1.05)" fill="#2e2ab2" xml:space="preserve">CONTENT</text>
<text font-size="29.5" x="242.14" y="174.55" fill="#2e2ab2" xml:space="preserve">+0.003</text>
<text font-size="29.5" transform="translate(55.6,206.8) scale(1,1.05)" fill="#800080" xml:space="preserve">LIR</text>
<text font-size="29.5" x="249.54" y="206.8" fill="#800080" xml:space="preserve">-0.001</text>
<text font-size="29.5" x="217.48" y="239.05" fill="#000" xml:space="preserve">std</text><text font-size="28" font-family="'DejaVu Sans','Liberation Sans',sans-serif" font-weight="200" transform="translate(267.88,239.05) scale(1.2,1)" fill="#000" xml:space="preserve">Δ</text><text font-size="29.5" x="294.01" y="239.05" fill="#000" xml:space="preserve">:</text>
<text font-size="29.5" x="259.37" y="271.3" fill="#ab5c10" xml:space="preserve">0.015</text>
<text font-size="29.5" x="259.37" y="303.55" fill="#2bb030" xml:space="preserve">0.012</text>
<text font-size="29.5" x="259.37" y="335.8" fill="#2e2ab2" xml:space="preserve">0.012</text>
<text font-size="29.5" x="259.37" y="368.05" fill="#800080" xml:space="preserve">0.014</text>
<text font-size="29.5" x="492.04" y="77.8" fill="#000" xml:space="preserve">min</text><text font-size="24.6" font-family="'Liberation Serif',serif" font-style="italic" transform="translate(548.57,77.8) scale(1.27,1)" fill="#000" xml:space="preserve">σ</text><text font-size="29.5" x="566.71" y="77.8" fill="#000" xml:space="preserve">:</text>
<text font-size="29.5" x="523.67" y="110.05" fill="#ab5c10" xml:space="preserve">0.022</text>
<text font-size="29.5" x="523.67" y="142.3" fill="#2bb030" xml:space="preserve">0.018</text>
<text font-size="29.5" x="523.67" y="174.55" fill="#2e2ab2" xml:space="preserve">0.015</text>
<text font-size="29.5" x="523.67" y="206.8" fill="#800080" xml:space="preserve">0.014</text>
<text font-size="29.5" x="466.84" y="239.05" fill="#000" xml:space="preserve">median</text><text font-size="24.6" font-family="'Liberation Serif',serif" font-style="italic" transform="translate(572.07,239.05) scale(1.27,1)" fill="#000" xml:space="preserve">σ</text><text font-size="29.5" x="590.21" y="239.05" fill="#000" xml:space="preserve">:</text>
<text font-size="29.5" x="523.67" y="271.3" fill="#ab5c10" xml:space="preserve">0.022</text>
<text font-size="29.5" x="523.67" y="303.55" fill="#2bb030" xml:space="preserve">0.018</text>
<text font-size="29.5" x="523.67" y="335.8" fill="#2e2ab2" xml:space="preserve">0.020</text>
<text font-size="29.5" x="523.67" y="368.05" fill="#800080" xml:space="preserve">0.020</text>
<text font-size="29.5" x="646.63" y="77.8" fill="#000" xml:space="preserve">in- / outside 1</text><text font-size="24.6" font-family="'Liberation Serif',serif" font-style="italic" transform="translate(824.07,77.8) scale(1.27,1)" fill="#000" xml:space="preserve">σ</text><text font-size="29.5" x="842.01" y="77.8" fill="#000" xml:space="preserve">:</text>
<text font-size="29.5" x="677.14" y="110.05" fill="#ab5c10" xml:space="preserve">89.7 / 10.3 %</text>
<text font-size="29.5" x="685.36" y="142.3" fill="#2bb030" xml:space="preserve">95.1 /  4.9 %</text>
<text font-size="29.5" x="685.36" y="174.55" fill="#2e2ab2" xml:space="preserve">95.6 /  4.4 %</text>
<text font-size="29.5" x="685.36" y="206.8" fill="#800080" xml:space="preserve">90.4 /  9.6 %</text>
<use href="#wm"/>
<path d="M657.1 316.6L669.7 316.6L671.1 317.7L690.1 317.8L718.1 317.8L737 318M690.8 315.2L690.8 317.3M748.2 255.2L749.2 254.5L750.3 253.9L752.4 252.4L754.5 251.4L757.1 251.6L759.4 252.1L761.5 253.8L763.6 255.6L765.7 258L767.8 260.5L769.7 262.8L771.3 264.7L772.7 265.9L774.1 266.4M749.2 253.5L751.2 255.2M788.9 341.1L793.8 339.7L798.7 338.7L805.7 338L812.7 337.6L821.8 337.6L830.9 337.6L833.3 337L835.1 336.2M657.1 338L664.8 338.3L672.6 338.7L677.5 339.3L682.4 339.7L683.5 338.4L683.1 336.9L681 335.1L678.2 333.7" fill="none" stroke="#0000ff" stroke-width="3" stroke-linejoin="round" stroke-linecap="round"/>
<text font-size="29.5" x="655.36" y="388.4" fill="#262626" xml:space="preserve">462 locations;</text>
<text font-size="29.5" x="644.37" y="420.5" fill="#262626" xml:space="preserve">10647 samples</text>
</g>
<g transform="translate(917.7,1488)">
<path d="M194.6 385.6V53.2" stroke="#000" stroke-width="2.2" stroke-dasharray="28.5 18.5" fill="none"/>
<clipPath id="cpCO21"><rect x="47.9" y="53.2" width="295.5" height="334.4"/></clipPath>
<g clip-path="url(#cpCO21)">
<path d="M44.9 375.2V375.2H50.9V374.6H54V373.6H57.1V372.4H60.2V371.2H63.3V369.7H66.4V368.1H69.5V366.7H72.5V365.7H75.6V364.8H78.7V363.9H81.8V363H84.9V362H88V361.8H91.1V361.8H94.2V361.8H97.3V358.2H100.4V355.7H103.4V355.4H106.5V353.7H109.6V346.3H112.7V341.4H115.8V336.2H118.9V330H122V323.9H125.1V323.3H128.2V321.9H131.3V319H134.3V311.8H137.4V302.7H140.5V302.2H143.6V300.2H146.7V296.3H149.8V289.2H152.9V281.2H156V276.4H159.1V263.6H162.2V260.1H165.2V260.7H168.3V259.7H171.4V257.6H174.5V259.5H177.6V260.7H180.7V260.1H183.8V254.8H186.9V256.9H190V259.9H193.1V261.5H196.1V261H199.2V274H202.3V279.6H205.4V283.5H208.5V290.6H211.6V302.6H214.7V312.7H217.8V315.5H220.9V322.6H224V333.8H227V340.7H230.1V347.7H233.2V353.2H236.3V356.3H239.4V359.1H242.5V362.7H245.6V365.4H248.7V367.5H251.8V370H254.9V372.1H257.9V372.9H261V373.7H264.1V375.3H267.2V376.8H270.3V377.8H273.4V378.7H276.5V379.4H279.6V379.1H282.7V378.9H285.8V378.6H288.8V379.3H291.9V380.1H295V380.9H298.1V380.9H301.2V380.6H304.3V380.3H307.4V380.9H310.5V381.5H313.6V382H316.7V382.1H319.7V382.2H322.8V382.2H325.9V382.3H329V382.4H332.1V382.5H335.2V382.6H338.3V382.7H341.4V382.7H346.4" fill="none" stroke="#ab5c10" stroke-width="2.9" stroke-linejoin="miter"/>
<path d="M44.9 378V378H50.9V377.5H54V377H57.1V376.6H60.2V376.1H63.3V375.9H66.4V375.8H69.5V375.6H72.5V375.5H75.6V375.3H78.7V374.6H81.8V373H84.9V371.5H88V370.1H91.1V368.9H94.2V367.7H97.3V366.7H100.4V365.8H103.4V364.7H106.5V363.2H109.6V361.6H112.7V359.8H115.8V357.7H118.9V352.4H122V347.4H125.1V344.4H128.2V342.6H131.3V341.5H134.3V337.2H137.4V331.6H140.5V325H143.6V316.3H146.7V305.1H149.8V301.8H152.9V294.1H156V284.9H159.1V279.3H162.2V270H165.2V257.3H168.3V249.2H171.4V246.7H174.5V230.2H177.6V207.7H180.7V207.1H183.8V204.1H186.9V205H190V208.6H193.1V208H196.1V207.2H199.2V220.1H202.3V230.3H205.4V241.1H208.5V255.6H211.6V275.4H214.7V294.7H217.8V311.2H220.9V325.6H224V336.8H227V344.3H230.1V351.1H233.2V359.4H236.3V363H239.4V365.7H242.5V368.7H245.6V370.2H248.7V372H251.8V374H254.9V375.7H257.9V377.2H261V378.8H264.1V379.8H267.2V380.4H270.3V381H273.4V381.5H276.5V382H279.6V382.5H282.7V382.6H285.8V382.7H288.8V382.8H291.9V383H295V383.1H298.1V383.2H301.2V383.2H304.3V383.3H307.4V383.4H310.5V383.4H313.6V383.5H316.7V383.6H319.7V383.6H322.8V383.7H325.9V383.8H329V383.8H332.1V383.9H335.2V384H338.3V384H341.4V384.1H346.4" fill="none" stroke="#2bb030" stroke-width="2.9" stroke-linejoin="miter"/>
<path d="M44.9 383.4V383.4H50.9V383.3H54V383.1H57.1V383H60.2V382.8H63.3V382.6H66.4V382.3H69.5V382.1H72.5V381.8H75.6V381.6H78.7V381.1H81.8V380.4H84.9V379.6H88V378.8H91.1V377.8H94.2V376.9H97.3V376.9H100.4V376.9H103.4V376.5H106.5V374.9H109.6V373.4H112.7V372.7H115.8V372.7H118.9V372.7H122V370.1H125.1V367.3H128.2V365.2H131.3V362.3H134.3V358.7H137.4V355.5H140.5V352.6H143.6V350H146.7V346.4H149.8V342.1H152.9V331.3H156V323.9H159.1V314.6H162.2V301H165.2V288H168.3V271.6H171.4V266.6H174.5V252.4H177.6V229.2H180.7V207.7H183.8V192.1H186.9V178.6H190V166.2H193.1V159.9H196.1V157.5H199.2V161H202.3V172.6H205.4V187.5H208.5V200.6H211.6V213.7H214.7V237.5H217.8V249.8H220.9V270H224V292.2H227V310.5H230.1V325.5H233.2V336.8H236.3V342.9H239.4V350.3H242.5V356.4H245.6V361.8H248.7V365.7H251.8V370.3H254.9V373.6H257.9V376.2H261V376.7H264.1V377.3H267.2V378.1H270.3V379H273.4V380H276.5V381H279.6V382H282.7V382.2H285.8V382.4H288.8V382.6H291.9V382.8H295V383.1H298.1V383.3H301.2V383.4H304.3V383.6H307.4V383.8H310.5V384H313.6V384.1H316.7V384.2H319.7V384.2H322.8V384.2H325.9V384.3H329V384.3H332.1V384.3H335.2V384.4H338.3V384.4H341.4V384.4H346.4" fill="none" stroke="#2e2ab2" stroke-width="2.9" stroke-linejoin="miter"/>
</g>
<clipPath id="cpCO22"><rect x="359.8" y="53.2" width="246.1" height="334.4"/></clipPath>
<g clip-path="url(#cpCO22)">
<path d="M359.8 385.6H422.1V385.6H424.1V385.2H426.2V384.7H428.2V384.2H430.3V383.8H432.3V383.5H434.4V383.2H436.4V382.5H438.5V375H440.6V374.8H442.6V376.4H444.7V376.2H446.7V375.2H448.8V373.1H450.8V368.7H452.9V359.6H454.9V295.1H457V271.2H459V272.2H461.1V282.8H463.2V292H465.2V281H467.3V275.2H469.3V278.5H471.4V289.2H473.4V298.8H475.5V295.1H477.5V296.8H479.6V302.7H481.6V310.9H483.7V311.7H485.8V310.1H487.8V309.3H489.9V308.9H491.9V300.3H494V252.1H496V244.9H498.1V240H500.1V243H502.2V258.3H504.3V267.5H506.3V277.5H508.4V288.2H510.4V297.8H512.5V292.9H514.5V287.4H516.6V289.4H518.6V287.6H520.7V282H522.8V282.2H524.8V283.3H526.9V279.9H528.9V272.3H531V288.9H533V317.7H535.1V330H537.1V339.1H539.2V345.7H541.2V349.8H543.3V353.9H545.4V358H547.4V360H549.5V361.9H551.5V363.2H553.6V364.6H555.6V365.4H557.7V366.1H559.7V366.7H561.8V367.2H563.9V367.7H565.9V368.3H568V368.1H570V367.8H572.1V367.5H574.1V367.9H576.2V368.6H578.2V369.4H580.3V370.1H582.3V370.3H584.4V370.6H586.5V370.8H588.5V370.7H590.6V370.5H592.6V370.3H594.7V370.1H596.7V370.2H598.8V370.6H600.8V370.9H602.9V371.3H605V371.6H608.9" fill="none" stroke="#ab5c10" stroke-width="2.9" stroke-linejoin="miter"/>
<path d="M359.8 385.6H442.6V385.6H444.7V380.8H446.7V373.4H448.8V362.7H450.8V342.5H452.9V334.4H454.9V343.9H457V342.5H459V331.7H461.1V315.6H463.2V300.8H465.2V300.1H467.3V301.9H469.3V304.2H471.4V302.6H473.4V303.8H475.5V307.2H477.5V296.3H479.6V299.5H481.6V305.1H483.7V310.7H485.8V307.4H487.8V301.1H489.9V287.4H491.9V259.8H494V242.8H496V238.7H498.1V244.7H500.1V250.2H502.2V268.3H504.3V279.4H506.3V286.2H508.4V292.7H510.4V296.8H512.5V294.4H514.5V293.9H516.6V295.8H518.6V298.9H520.7V294.1H522.8V289.3H524.8V291H526.9V295.1H528.9V286.1H531V286H533V295.2H535.1V309.5H537.1V330H539.2V340.4H541.2V345.6H543.3V348.3H545.4V351H547.4V349.9H549.5V352.1H551.5V359.7H553.6V360.5H555.6V361.4H557.7V362.7H559.7V364.1H561.8V365.3H563.9V366.3H565.9V367.4H568V367.9H570V368.4H572.1V368.9H574.1V369.6H576.2V370.4H578.2V371.1H580.3V371.8H582.3V372.1H584.4V372.3H586.5V372.6H588.5V372.8H590.6V373H592.6V373.2H594.7V373.4H596.7V373.6H598.8V373.8H600.8V373.9H602.9V374.1H605V374.3H608.9" fill="none" stroke="#2bb030" stroke-width="2.9" stroke-linejoin="miter"/>
<path d="M359.8 385.6H391.2V383.6H393.3V377.8H395.3V369.6H397.4V359H399.4V348.1H401.5V334.4H403.6V315.6H405.6V301.9H407.7V272.9H409.7V251.7H411.8V235.6H413.8V205.5H415.9V186.4H417.9V164.1H420V145.4H422.1V143.5H424.1V143.8H426.2V128.9H428.2V121H430.3V125.8H432.3V156.3H434.4V183.2H436.4V211.4H438.5V227.3H440.6V239H442.6V251.9H444.7V270.2H446.7V286.6H448.8V297.8H450.8V310.1H452.9V323.7H454.9V329.5H457V331H459V339.7H461.1V346.2H463.2V349.7H465.2V350.7H467.3V354.1H469.3V356.6H471.4V357.4H473.4V358.9H475.5V361.5H477.5V361.3H479.6V359.9H481.6V358.9H483.7V359.6H485.8V360.3H487.8V361H489.9V361.6H491.9V362.2H494V361.9H496V361.5H498.1V362H500.1V363H502.2V364.1H504.3V365.1H506.3V366.1H508.4V366.9H510.4V367.6H512.5V368.3H514.5V367.2H516.6V366.2H518.6V366.2H520.7V367.2H522.8V368.3H524.8V369.3H526.9V369.7H528.9V368.7H531V367.7H533V368.6H535.1V369.9H537.1V368.9H539.2V367.9H541.2V367.2H543.3V366.9H545.4V366.6H547.4V368H549.5V369.4H551.5V370.4H553.6V371.1H555.6V371.7H557.7V372.8H559.7V373.8H561.8V373.9H563.9V372.9H565.9V371.8H568V372H570V372.3H572.1V372.5H574.1V373.2H576.2V374.2H578.2V375.3H580.3V376.2H582.3V376.7H584.4V377.2H586.5V377.7H588.5V377.6H590.6V377.4H592.6V377.2H594.7V377H596.7V376.9H598.8V376.8H600.8V376.8H602.9V376.7H605V376.6H608.9" fill="none" stroke="#2e2ab2" stroke-width="2.9" stroke-linejoin="miter"/>
</g>
<rect x="47.9" y="53.2" width="295.5" height="332.4" fill="none" stroke="#262626" stroke-width="1.75"/>
<rect x="359.8" y="53.2" width="246.1" height="332.4" fill="none" stroke="#262626" stroke-width="1.75"/>
<path d="M70.9 385.6v-3.6M70.9 53.2v3.6M132.7 385.6v-3.6M132.7 53.2v3.6M194.6 385.6v-3.6M194.6 53.2v3.6M256.5 385.6v-3.6M256.5 53.2v3.6M318.2 385.6v-3.6M318.2 53.2v3.6M420 385.6v-3.6M420 53.2v3.6M502.2 385.6v-3.6M502.2 53.2v3.6M584.4 385.6v-3.6M584.4 53.2v3.6" stroke="#262626" stroke-width="1.6" fill="none"/>
<text font-size="29.5" x="49.58" y="420.5" fill="#262626" xml:space="preserve">-40</text>
<text font-size="29.5" x="111.38" y="420.5" fill="#262626" xml:space="preserve">-20</text>
<text font-size="29.5" x="186.39" y="420.5" fill="#262626" xml:space="preserve">0</text>
<text font-size="29.5" x="240.09" y="420.5" fill="#262626" xml:space="preserve">20</text>
<text font-size="29.5" x="301.79" y="420.5" fill="#262626" xml:space="preserve">40</text>
<text font-size="29.5" x="403.59" y="420.5" fill="#262626" xml:space="preserve">20</text>
<text font-size="29.5" x="485.79" y="420.5" fill="#262626" xml:space="preserve">40</text>
<text font-size="29.5" x="567.99" y="420.5" fill="#262626" xml:space="preserve">60</text>
<text transform="translate(27.3,221) rotate(-90) scale(1,1.05)" text-anchor="middle" font-size="29.5" fill="#262626">N</text>
<text font-size="28" font-family="'DejaVu Sans','Liberation Sans',sans-serif" font-weight="200" transform="translate(100.08,456.3) scale(1.2,1)" fill="#262626" xml:space="preserve">Δ</text><text font-size="29.5" font-style="italic" x="126.07" y="456.3" fill="#262626" xml:space="preserve">p</text><text font-size="29.1" transform="translate(142.49,456.3) scale(1,1.05)" fill="#262626" xml:space="preserve">CO</text><text font-size="23" x="186.93" y="471.4" fill="#262626" xml:space="preserve">2</text><text font-size="29.1" x="201.73" y="456.3" fill="#262626" xml:space="preserve"> / </text><text font-size="27.4" font-family="'Liberation Serif',serif" font-style="italic" transform="translate(228.98,456.3) scale(1.24,1)" fill="#262626" xml:space="preserve">μ</text><text font-size="29.1" x="248.73" y="456.3" fill="#262626" xml:space="preserve">atm</text>
<text font-size="24.6" font-family="'Liberation Serif',serif" font-style="italic" transform="translate(383.57,456.3) scale(1.27,1)" fill="#262626" xml:space="preserve">σ</text><text font-size="29.1" x="398.99" y="456.3" fill="#262626" xml:space="preserve"> </text><text font-size="29.5" font-style="italic" x="408.08" y="456.3" fill="#262626" xml:space="preserve">p</text><text font-size="29.1" transform="translate(424.5,456.3) scale(1,1.05)" fill="#262626" xml:space="preserve">CO</text><text font-size="23" x="468.94" y="471.4" fill="#262626" xml:space="preserve">2</text><text font-size="29.1" x="483.74" y="456.3" fill="#262626" xml:space="preserve"> / </text><text font-size="27.4" font-family="'Liberation Serif',serif" font-style="italic" transform="translate(510.99,456.3) scale(1.24,1)" fill="#262626" xml:space="preserve">μ</text><text font-size="29.1" x="530.74" y="456.3" fill="#262626" xml:space="preserve">atm</text>
<text font-size="29.35" font-style="italic" x="141.73" y="31.2" fill="#000000" xml:space="preserve">p</text><text font-size="29.35" transform="translate(158.06,31.2) scale(1,1.05)" fill="#000000" xml:space="preserve">CO</text><text font-size="23" x="202.87" y="46.3" fill="#000000" xml:space="preserve">2</text><text font-size="29.35" transform="translate(216.57,31.2) scale(1,1.009)" fill="#000000" xml:space="preserve"> post-GLODAPv2 cruises</text>
<text font-size="29.5" x="671.49" y="28" fill="#000" xml:space="preserve">ratio</text><text font-size="28" font-family="'DejaVu Sans','Liberation Sans',sans-serif" font-weight="200" transform="translate(739.68,28) scale(1.2,1)" fill="#000" xml:space="preserve">Δ</text><text font-size="29.5" x="773.41" y="28" fill="#000" xml:space="preserve">:</text><text font-size="24.6" font-family="'Liberation Serif',serif" font-style="italic" transform="translate(791.77,28) scale(1.27,1)" fill="#000" xml:space="preserve">σ</text>
<text font-size="29.5" x="216.54" y="77.8" fill="#000" xml:space="preserve">mean</text><text font-size="28" font-family="'DejaVu Sans','Liberation Sans',sans-serif" font-weight="200" transform="translate(300.18,77.8) scale(1.2,1)" fill="#000" xml:space="preserve">Δ</text><text font-size="29.5" x="326.81" y="77.8" fill="#000" xml:space="preserve">:</text>
<text font-size="29.5" transform="translate(55.6,110.05) scale(1,1.05)" fill="#ab5c10" xml:space="preserve">CANYON</text>
<text font-size="29.5" x="306.97" y="110.05" fill="#ab5c10" xml:space="preserve">-9</text>
<text font-size="29.5" transform="translate(55.6,142.3) scale(1,1.05)" fill="#2bb030" xml:space="preserve">CANYON-B</text>
<text font-size="29.5" x="306.97" y="142.3" fill="#2bb030" xml:space="preserve">-7</text>
<text font-size="29.5" transform="translate(55.6,174.55) scale(1,1.05)" fill="#2e2ab2" xml:space="preserve">CONTENT</text>
<text font-size="29.5" x="306.97" y="174.55" fill="#2e2ab2" xml:space="preserve">-1</text>
<text font-size="29.5" x="217.48" y="206.8" fill="#000" xml:space="preserve">std</text><text font-size="28" font-family="'DejaVu Sans','Liberation Sans',sans-serif" font-weight="200" transform="translate(267.88,206.8) scale(1.2,1)" fill="#000" xml:space="preserve">Δ</text><text font-size="29.5" x="294.01" y="206.8" fill="#000" xml:space="preserve">:</text>
<text font-size="29.5" x="300.37" y="239.05" fill="#ab5c10" xml:space="preserve">22</text>
<text font-size="29.5" x="300.37" y="271.3" fill="#2bb030" xml:space="preserve">18</text>
<text font-size="29.5" x="300.37" y="303.55" fill="#2e2ab2" xml:space="preserve">14</text>
<text font-size="29.5" x="492.04" y="77.8" fill="#000" xml:space="preserve">min</text><text font-size="24.6" font-family="'Liberation Serif',serif" font-style="italic" transform="translate(548.57,77.8) scale(1.27,1)" fill="#000" xml:space="preserve">σ</text><text font-size="29.5" x="566.71" y="77.8" fill="#000" xml:space="preserve">:</text>
<text font-size="29.5" x="564.67" y="110.05" fill="#ab5c10" xml:space="preserve">16</text>
<text font-size="29.5" x="564.67" y="142.3" fill="#2bb030" xml:space="preserve">23</text>
<text font-size="29.5" x="564.67" y="174.55" fill="#2e2ab2" xml:space="preserve">13</text>
<text font-size="29.5" x="466.84" y="206.8" fill="#000" xml:space="preserve">median</text><text font-size="24.6" font-family="'Liberation Serif',serif" font-style="italic" transform="translate(572.07,206.8) scale(1.27,1)" fill="#000" xml:space="preserve">σ</text><text font-size="29.5" x="590.21" y="206.8" fill="#000" xml:space="preserve">:</text>
<text font-size="29.5" x="564.67" y="239.05" fill="#ab5c10" xml:space="preserve">42</text>
<text font-size="29.5" x="564.67" y="271.3" fill="#2bb030" xml:space="preserve">43</text>
<text font-size="29.5" x="564.67" y="303.55" fill="#2e2ab2" xml:space="preserve">23</text>
<text font-size="29.5" x="646.63" y="77.8" fill="#000" xml:space="preserve">in- / outside 1</text><text font-size="24.6" font-family="'Liberation Serif',serif" font-style="italic" transform="translate(824.07,77.8) scale(1.27,1)" fill="#000" xml:space="preserve">σ</text><text font-size="29.5" x="842.01" y="77.8" fill="#000" xml:space="preserve">:</text>
<text font-size="29.5" x="693.55" y="110.05" fill="#ab5c10" xml:space="preserve">95.0 / 5.0 %</text>
<text font-size="29.5" x="693.55" y="142.3" fill="#2bb030" xml:space="preserve">98.5 / 1.5 %</text>
<text font-size="29.5" x="693.55" y="174.55" fill="#2e2ab2" xml:space="preserve">96.4 / 3.6 %</text>
<use href="#wm"/>
<path d="M643.1 273.1L662 273.3L683.1 273.3L704.1 273.1L707.6 272.6L709.7 270.3M703.4 253.9L699.2 254.6L695.7 256.6L692.9 260.5L690.8 264.7L688.9 269.6L688 273.1L687 278.8L686.6 284.4L686.7 290L687 295.6L687.4 301.2L688 306.8L688.7 312.4L689.8 318L691.2 323.6L692.9 329.2L695 333.1L697.1 336.2L699.9 339.3L702.7 341.8M713.6 278.8L713.3 283.7L713.2 288.6L713.3 293.5L713.6 298.4L715.3 300.5L716.7 302.3L717.5 306.1L718.1 309.6L718.9 313.8L719.8 318L720.6 323.6L721.6 329.2L722.6 333.4L723.7 337.6L725.1 340.4L726.8 342.5L729.3 341.8M656.7 317.6L676.1 317.7L697.1 317.8L718.1 317.8L737 318M838.3 281.6L837.2 284.4L836.5 287.2L838.9 290L841.4 292.8L842.8 297L843.5 301.2L843.4 305.4L842.8 309.6L841.7 313.8L840 318L837.5 322.5L834.4 326.4L831.2 329.3L827.4 332L823.2 334.5L819 336.9L814.8 339M838.6 281.6L839.7 284.4L840.3 287.2M788.9 341.1L795.2 340L802.2 339L809.2 338.6L816.2 338.3L825.3 337.9L834.4 337.6M656.7 338.3L662.7 338.4L669 338.7L674 339L678.9 339.3L681 338.7L681.7 337.6L680.3 335.5L678.2 334.1M687.3 340.1L690.1 340.8L692.9 341.1L696.4 340.7L699.2 341.5L702.7 341.8M696.4 238.8L697.1 241.2L697.8 243.7L698.8 241.6L699.9 239.5L700.6 241.6L701.3 243.7L704.1 241.2L706.9 239.5L709.7 238.8L713.9 237.4M684.5 251.4L686.6 250L689.4 249.3M776 235.7L776.7 235.7M796.1 235.7L796.8 235.7M678.2 322.2L680.3 325.7L682.4 329.2L685.9 333.1L689.4 336.2L692.2 338.7L695 340.4L698.5 341.3L702 341.8M764.3 250.7L765.2 253.5L766 257L767.1 260.5L768 264L768.5 267.5L766.9 273.1L764.3 278.8L764.1 283L764.3 287.2L765.7 291.4L767.1 295.6L767.6 302.6L767.6 309.6L766.4 315.2L765 320.8L762.9 324.3L760.8 327.8L758.7 330.9L757.3 333.4L758.5 335.5L759.4 336.9M747.5 255.2L748.9 253.2L750.3 251.4" fill="none" stroke="#0000ff" stroke-width="3" stroke-linejoin="round" stroke-linecap="round"/>
<text font-size="29.5" x="646.38" y="388.4" fill="#262626" xml:space="preserve">1543 locations;</text>
<text font-size="29.5" x="644.93" y="420.5" fill="#262626" xml:space="preserve">32447 samples</text>
</g>
</svg></body></html>
